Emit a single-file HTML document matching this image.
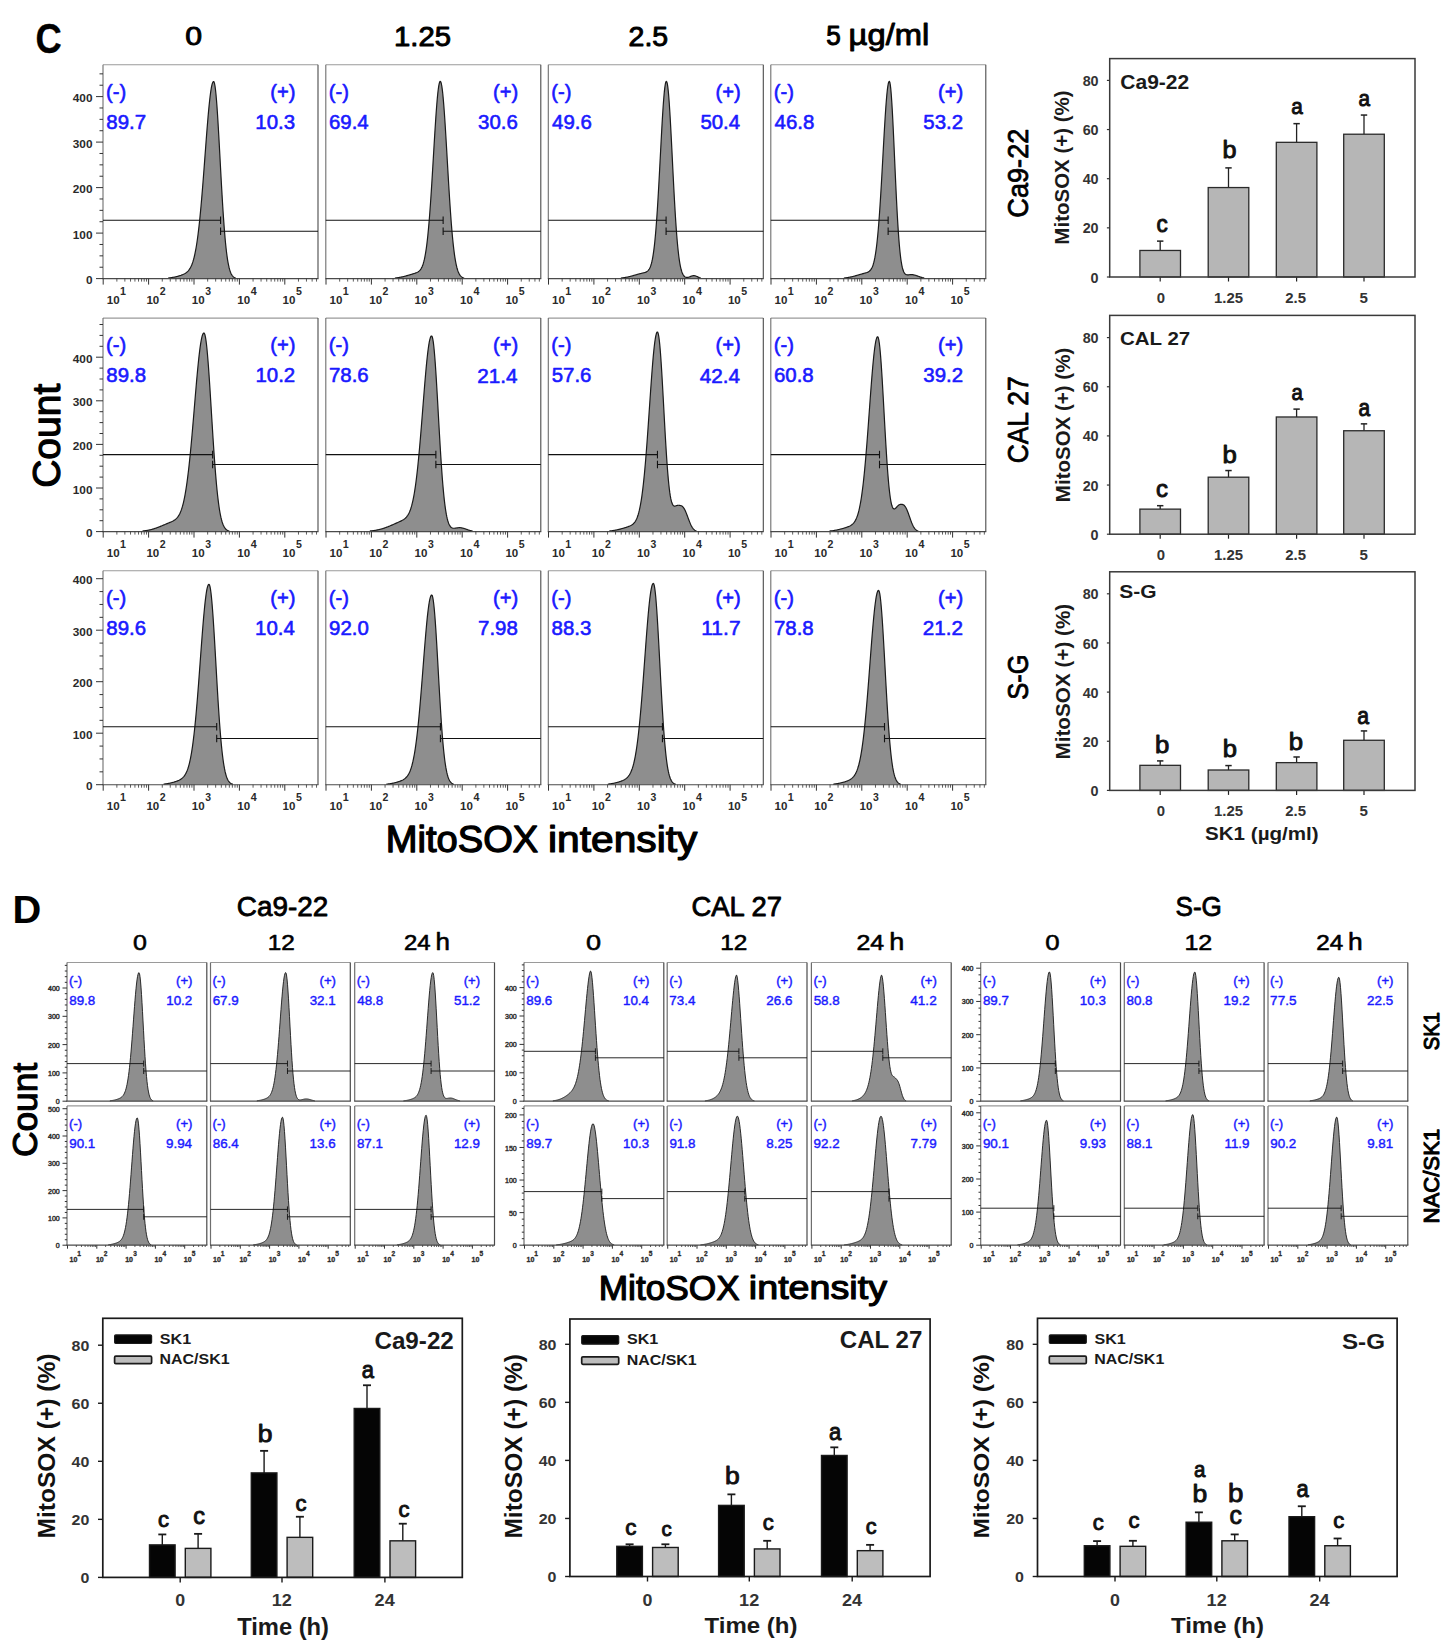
<!DOCTYPE html>
<html><head><meta charset="utf-8"><style>
html,body{margin:0;padding:0;background:#fff;}
body{width:1456px;height:1651px;overflow:hidden;}
svg{display:block;font-family:"Liberation Sans", sans-serif;}
</style></head><body>
<svg width="1456" height="1651" viewBox="0 0 1456 1651">
<rect width="1456" height="1651" fill="#fff"/>
<path d="M168.5 278.60 L168.5 278.00 L169.0 277.95 L169.5 277.89 L170.0 277.83 L170.5 277.77 L171.0 277.70 L171.5 277.62 L172.0 277.54 L172.5 277.46 L173.0 277.37 L173.5 277.28 L174.0 277.18 L174.5 277.08 L175.0 276.98 L175.5 276.87 L176.0 276.75 L176.5 276.63 L177.0 276.50 L177.5 276.37 L178.0 276.23 L178.5 276.09 L179.0 275.94 L179.5 275.79 L180.0 275.63 L180.5 275.46 L181.0 275.29 L181.5 275.10 L182.0 274.91 L182.5 274.71 L183.0 274.49 L183.5 274.26 L184.0 274.02 L184.5 273.76 L185.0 273.47 L185.5 273.16 L186.0 272.82 L186.5 272.45 L187.0 272.05 L187.5 271.59 L188.0 271.09 L188.5 270.53 L189.0 269.91 L189.5 269.21 L190.0 268.43 L190.5 267.55 L191.0 266.58 L191.5 265.48 L192.0 264.26 L192.5 262.89 L193.0 261.38 L193.5 259.69 L194.0 257.82 L194.5 255.76 L195.0 253.48 L195.5 250.98 L196.0 248.25 L196.5 245.27 L197.0 242.03 L197.5 238.53 L198.0 234.75 L198.5 230.69 L199.0 226.35 L199.5 221.73 L200.0 216.84 L200.5 211.67 L201.0 206.24 L201.5 200.56 L202.0 194.65 L202.5 188.54 L203.0 182.25 L203.5 175.80 L204.0 169.23 L204.5 162.59 L205.0 155.90 L205.5 149.22 L206.0 142.58 L206.5 136.04 L207.0 129.65 L207.5 123.46 L208.0 117.52 L208.5 111.88 L209.0 106.58 L209.5 101.69 L210.0 97.24 L210.5 93.27 L211.0 89.83 L211.5 86.95 L212.0 84.66 L212.5 82.97 L213.0 81.92 L213.5 81.50 L214.0 81.85 L214.5 83.36 L215.0 86.00 L215.5 89.76 L216.0 94.55 L216.5 100.29 L217.0 106.90 L217.5 114.25 L218.0 122.23 L218.5 130.72 L219.0 139.60 L219.5 148.72 L220.0 157.98 L220.5 167.25 L221.0 176.43 L221.5 185.42 L222.0 194.12 L222.5 202.48 L223.0 210.42 L223.5 217.90 L224.0 224.89 L224.5 231.36 L225.0 237.29 L225.5 242.70 L226.0 247.59 L226.5 251.97 L227.0 255.88 L227.5 259.32 L228.0 262.34 L228.5 264.97 L229.0 267.24 L229.5 269.19 L230.0 270.86 L230.5 272.26 L231.0 273.44 L231.5 274.43 L232.0 275.25 L232.5 275.92 L233.0 276.47 L233.5 276.92 L234.0 277.28 L234.5 277.57 L235.0 277.80 L235.5 277.98 L235.5 278.60" fill="#8e8e8e" stroke="#1a1a1a" stroke-width="1.2" stroke-linejoin="round"/>
<line x1="103" y1="64.8" x2="318" y2="64.8" stroke="#9a9a9a" stroke-width="1.1"/>
<line x1="103" y1="64.8" x2="103" y2="278.6" stroke="#6e6e6e" stroke-width="1.1"/>
<line x1="318" y1="64.8" x2="318" y2="278.6" stroke="#4a4a4a" stroke-width="1.1"/>
<line x1="102.5" y1="278.6" x2="318.5" y2="278.6" stroke="#4a4a4a" stroke-width="1.1"/>
<line x1="103" y1="220.3" x2="220.56" y2="220.3" stroke="#111" stroke-width="1.1"/>
<line x1="220.56" y1="216.5" x2="220.56" y2="224.1" stroke="#111" stroke-width="1.1"/>
<line x1="220.56" y1="231.3" x2="318" y2="231.3" stroke="#111" stroke-width="1.1"/>
<line x1="220.56" y1="227.5" x2="220.56" y2="235.1" stroke="#111" stroke-width="1.1"/>
<line x1="103.2" y1="278.6" x2="103.2" y2="284.6" stroke="#333" stroke-width="1"/>
<line x1="116.87" y1="278.6" x2="116.87" y2="281.6" stroke="#333" stroke-width="0.8"/>
<line x1="124.86" y1="278.6" x2="124.86" y2="281.6" stroke="#333" stroke-width="0.8"/>
<line x1="130.53" y1="278.6" x2="130.53" y2="281.6" stroke="#333" stroke-width="0.8"/>
<line x1="134.93" y1="278.6" x2="134.93" y2="281.6" stroke="#333" stroke-width="0.8"/>
<line x1="138.53" y1="278.6" x2="138.53" y2="281.6" stroke="#333" stroke-width="0.8"/>
<line x1="141.57" y1="278.6" x2="141.57" y2="281.6" stroke="#333" stroke-width="0.8"/>
<line x1="144.2" y1="278.6" x2="144.2" y2="281.6" stroke="#333" stroke-width="0.8"/>
<line x1="146.52" y1="278.6" x2="146.52" y2="281.6" stroke="#333" stroke-width="0.8"/>
<line x1="148.6" y1="278.6" x2="148.6" y2="284.6" stroke="#333" stroke-width="1"/>
<line x1="162.27" y1="278.6" x2="162.27" y2="281.6" stroke="#333" stroke-width="0.8"/>
<line x1="170.26" y1="278.6" x2="170.26" y2="281.6" stroke="#333" stroke-width="0.8"/>
<line x1="175.93" y1="278.6" x2="175.93" y2="281.6" stroke="#333" stroke-width="0.8"/>
<line x1="180.33" y1="278.6" x2="180.33" y2="281.6" stroke="#333" stroke-width="0.8"/>
<line x1="183.93" y1="278.6" x2="183.93" y2="281.6" stroke="#333" stroke-width="0.8"/>
<line x1="186.97" y1="278.6" x2="186.97" y2="281.6" stroke="#333" stroke-width="0.8"/>
<line x1="189.6" y1="278.6" x2="189.6" y2="281.6" stroke="#333" stroke-width="0.8"/>
<line x1="191.92" y1="278.6" x2="191.92" y2="281.6" stroke="#333" stroke-width="0.8"/>
<line x1="194" y1="278.6" x2="194" y2="284.6" stroke="#333" stroke-width="1"/>
<line x1="207.67" y1="278.6" x2="207.67" y2="281.6" stroke="#333" stroke-width="0.8"/>
<line x1="215.66" y1="278.6" x2="215.66" y2="281.6" stroke="#333" stroke-width="0.8"/>
<line x1="221.33" y1="278.6" x2="221.33" y2="281.6" stroke="#333" stroke-width="0.8"/>
<line x1="225.73" y1="278.6" x2="225.73" y2="281.6" stroke="#333" stroke-width="0.8"/>
<line x1="229.33" y1="278.6" x2="229.33" y2="281.6" stroke="#333" stroke-width="0.8"/>
<line x1="232.37" y1="278.6" x2="232.37" y2="281.6" stroke="#333" stroke-width="0.8"/>
<line x1="235" y1="278.6" x2="235" y2="281.6" stroke="#333" stroke-width="0.8"/>
<line x1="237.32" y1="278.6" x2="237.32" y2="281.6" stroke="#333" stroke-width="0.8"/>
<line x1="239.4" y1="278.6" x2="239.4" y2="284.6" stroke="#333" stroke-width="1"/>
<line x1="253.07" y1="278.6" x2="253.07" y2="281.6" stroke="#333" stroke-width="0.8"/>
<line x1="261.06" y1="278.6" x2="261.06" y2="281.6" stroke="#333" stroke-width="0.8"/>
<line x1="266.73" y1="278.6" x2="266.73" y2="281.6" stroke="#333" stroke-width="0.8"/>
<line x1="271.13" y1="278.6" x2="271.13" y2="281.6" stroke="#333" stroke-width="0.8"/>
<line x1="274.73" y1="278.6" x2="274.73" y2="281.6" stroke="#333" stroke-width="0.8"/>
<line x1="277.77" y1="278.6" x2="277.77" y2="281.6" stroke="#333" stroke-width="0.8"/>
<line x1="280.4" y1="278.6" x2="280.4" y2="281.6" stroke="#333" stroke-width="0.8"/>
<line x1="282.72" y1="278.6" x2="282.72" y2="281.6" stroke="#333" stroke-width="0.8"/>
<line x1="284.8" y1="278.6" x2="284.8" y2="284.6" stroke="#333" stroke-width="1"/>
<line x1="298.47" y1="278.6" x2="298.47" y2="281.6" stroke="#333" stroke-width="0.8"/>
<line x1="306.46" y1="278.6" x2="306.46" y2="281.6" stroke="#333" stroke-width="0.8"/>
<line x1="312.13" y1="278.6" x2="312.13" y2="281.6" stroke="#333" stroke-width="0.8"/>
<line x1="316.53" y1="278.6" x2="316.53" y2="281.6" stroke="#333" stroke-width="0.8"/>
<text transform="matrix(0.05775 0 0 0.05775 106.81 304.08)" font-size="200" font-weight="bold" fill="#2a2a2a" >10</text>
<text transform="matrix(0.05362 0 0 0.05362 119.92 294.7)" font-size="200" font-weight="bold" fill="#2a2a2a" >1</text>
<text transform="matrix(0.05775 0 0 0.05775 146.41 304.08)" font-size="200" font-weight="bold" fill="#2a2a2a" >10</text>
<text transform="matrix(0.05286 0 0 0.05286 159.79 294.7)" font-size="200" font-weight="bold" fill="#2a2a2a" >2</text>
<text transform="matrix(0.05775 0 0 0.05775 191.81 304.08)" font-size="200" font-weight="bold" fill="#2a2a2a" >10</text>
<text transform="matrix(0.05211 0 0 0.05211 205.3 294.6)" font-size="200" font-weight="bold" fill="#2a2a2a" >3</text>
<text transform="matrix(0.05775 0 0 0.05775 237.21 304.08)" font-size="200" font-weight="bold" fill="#2a2a2a" >10</text>
<text transform="matrix(0.05362 0 0 0.05362 250.8 294.7)" font-size="200" font-weight="bold" fill="#2a2a2a" >4</text>
<text transform="matrix(0.05775 0 0 0.05775 282.61 304.08)" font-size="200" font-weight="bold" fill="#2a2a2a" >10</text>
<text transform="matrix(0.05286 0 0 0.05286 296.05 294.59)" font-size="200" font-weight="bold" fill="#2a2a2a" >5</text>
<line x1="96" y1="278.6" x2="103" y2="278.6" stroke="#333" stroke-width="1"/>
<text transform="matrix(0.05915 0 0 0.05634 85.91 284.19)" font-size="200" font-weight="bold" fill="#2a2a2a" >0</text>
<line x1="99.5" y1="267.23" x2="103" y2="267.23" stroke="#333" stroke-width="1"/>
<line x1="99.5" y1="255.85" x2="103" y2="255.85" stroke="#333" stroke-width="1"/>
<line x1="99.5" y1="244.48" x2="103" y2="244.48" stroke="#333" stroke-width="1"/>
<line x1="96" y1="233.1" x2="103" y2="233.1" stroke="#333" stroke-width="1"/>
<text transform="matrix(0.05915 0 0 0.05634 72.77 238.69)" font-size="200" font-weight="bold" fill="#2a2a2a" >100</text>
<line x1="99.5" y1="221.73" x2="103" y2="221.73" stroke="#333" stroke-width="1"/>
<line x1="99.5" y1="210.35" x2="103" y2="210.35" stroke="#333" stroke-width="1"/>
<line x1="99.5" y1="198.98" x2="103" y2="198.98" stroke="#333" stroke-width="1"/>
<line x1="96" y1="187.6" x2="103" y2="187.6" stroke="#333" stroke-width="1"/>
<text transform="matrix(0.05915 0 0 0.05634 72.77 193.19)" font-size="200" font-weight="bold" fill="#2a2a2a" >200</text>
<line x1="99.5" y1="176.23" x2="103" y2="176.23" stroke="#333" stroke-width="1"/>
<line x1="99.5" y1="164.85" x2="103" y2="164.85" stroke="#333" stroke-width="1"/>
<line x1="99.5" y1="153.48" x2="103" y2="153.48" stroke="#333" stroke-width="1"/>
<line x1="96" y1="142.1" x2="103" y2="142.1" stroke="#333" stroke-width="1"/>
<text transform="matrix(0.05915 0 0 0.05634 72.77 147.69)" font-size="200" font-weight="bold" fill="#2a2a2a" >300</text>
<line x1="99.5" y1="130.73" x2="103" y2="130.73" stroke="#333" stroke-width="1"/>
<line x1="99.5" y1="119.35" x2="103" y2="119.35" stroke="#333" stroke-width="1"/>
<line x1="99.5" y1="107.98" x2="103" y2="107.98" stroke="#333" stroke-width="1"/>
<line x1="96" y1="96.6" x2="103" y2="96.6" stroke="#333" stroke-width="1"/>
<text transform="matrix(0.05915 0 0 0.05634 72.77 102.19)" font-size="200" font-weight="bold" fill="#2a2a2a" >400</text>
<line x1="99.5" y1="85.23" x2="103" y2="85.23" stroke="#333" stroke-width="1"/>
<line x1="99.5" y1="73.85" x2="103" y2="73.85" stroke="#333" stroke-width="1"/>
<text transform="matrix(0.10107 0 0 0.10107 105.99 98.76)" font-size="200" font-weight="normal" fill="#1a1aff"  stroke="#1a1aff" stroke-width="5.94" stroke-linejoin="round">(-)</text>
<text transform="matrix(0.10211 0 0 0.10211 106.28 129.1)" font-size="200" font-weight="normal" fill="#1a1aff"  stroke="#1a1aff" stroke-width="5.88" stroke-linejoin="round">89.7</text>
<text transform="matrix(0.10107 0 0 0.10107 270.25 98.76)" font-size="200" font-weight="normal" fill="#1a1aff"  stroke="#1a1aff" stroke-width="5.94" stroke-linejoin="round">(+)</text>
<text transform="matrix(0.10211 0 0 0.10211 255.3 129.1)" font-size="200" font-weight="normal" fill="#1a1aff"  stroke="#1a1aff" stroke-width="5.88" stroke-linejoin="round">10.3</text>
<path d="M395.3 278.60 L395.3 277.99 L395.8 277.93 L396.3 277.88 L396.8 277.81 L397.3 277.75 L397.8 277.68 L398.3 277.60 L398.8 277.52 L399.3 277.44 L399.8 277.35 L400.3 277.26 L400.8 277.16 L401.3 277.06 L401.8 276.95 L402.3 276.84 L402.8 276.73 L403.3 276.61 L403.8 276.49 L404.3 276.36 L404.8 276.24 L405.3 276.10 L405.8 275.97 L406.3 275.83 L406.8 275.69 L407.3 275.55 L407.8 275.40 L408.3 275.26 L408.8 275.11 L409.3 274.96 L409.8 274.81 L410.3 274.66 L410.8 274.51 L411.3 274.36 L411.8 274.22 L412.3 274.07 L412.8 273.92 L413.3 273.76 L413.8 273.61 L414.3 273.45 L414.8 273.29 L415.3 273.12 L415.8 272.93 L416.3 272.74 L416.8 272.52 L417.3 272.28 L417.8 272.01 L418.3 271.70 L418.8 271.33 L419.3 270.91 L419.8 270.42 L420.3 269.83 L420.8 269.15 L421.3 268.34 L421.8 267.39 L422.3 266.27 L422.8 264.97 L423.3 263.45 L423.8 261.70 L424.3 259.67 L424.8 257.35 L425.3 254.71 L425.8 251.72 L426.3 248.34 L426.8 244.57 L427.3 240.38 L427.8 235.75 L428.3 230.68 L428.8 225.15 L429.3 219.18 L429.8 212.76 L430.3 205.93 L430.8 198.70 L431.3 191.12 L431.8 183.23 L432.3 175.09 L432.8 166.78 L433.3 158.36 L433.8 149.92 L434.3 141.55 L434.8 133.35 L435.3 125.42 L435.8 117.85 L436.3 110.76 L436.8 104.24 L437.3 98.38 L437.8 93.28 L438.3 89.00 L438.8 85.62 L439.3 83.18 L439.8 81.73 L440.3 81.30 L440.8 81.89 L441.3 83.49 L441.8 86.07 L442.3 89.61 L442.8 94.05 L443.3 99.32 L443.8 105.35 L444.3 112.04 L444.8 119.31 L445.3 127.06 L445.8 135.18 L446.3 143.57 L446.8 152.13 L447.3 160.77 L447.8 169.39 L448.3 177.91 L448.8 186.25 L449.3 194.34 L449.8 202.12 L450.3 209.54 L450.8 216.57 L451.3 223.18 L451.8 229.34 L452.3 235.04 L452.8 240.28 L453.3 245.07 L453.8 249.41 L454.3 253.33 L454.8 256.83 L455.3 259.94 L455.8 262.70 L456.3 265.11 L456.8 267.22 L457.3 269.05 L457.8 270.63 L458.3 271.98 L458.8 273.13 L459.3 274.10 L459.8 274.92 L460.3 275.61 L460.8 276.18 L461.3 276.65 L461.8 277.04 L462.3 277.35 L462.8 277.61 L463.3 277.82 L463.8 277.99 L463.8 278.60" fill="#8e8e8e" stroke="#1a1a1a" stroke-width="1.2" stroke-linejoin="round"/>
<line x1="325.8" y1="64.8" x2="540.8" y2="64.8" stroke="#9a9a9a" stroke-width="1.1"/>
<line x1="325.8" y1="64.8" x2="325.8" y2="278.6" stroke="#6e6e6e" stroke-width="1.1"/>
<line x1="540.8" y1="64.8" x2="540.8" y2="278.6" stroke="#4a4a4a" stroke-width="1.1"/>
<line x1="325.3" y1="278.6" x2="541.3" y2="278.6" stroke="#4a4a4a" stroke-width="1.1"/>
<line x1="325.8" y1="220.3" x2="443.13" y2="220.3" stroke="#111" stroke-width="1.1"/>
<line x1="443.13" y1="216.5" x2="443.13" y2="224.1" stroke="#111" stroke-width="1.1"/>
<line x1="443.13" y1="231.3" x2="540.8" y2="231.3" stroke="#111" stroke-width="1.1"/>
<line x1="443.13" y1="227.5" x2="443.13" y2="235.1" stroke="#111" stroke-width="1.1"/>
<line x1="326" y1="278.6" x2="326" y2="284.6" stroke="#333" stroke-width="1"/>
<line x1="339.67" y1="278.6" x2="339.67" y2="281.6" stroke="#333" stroke-width="0.8"/>
<line x1="347.66" y1="278.6" x2="347.66" y2="281.6" stroke="#333" stroke-width="0.8"/>
<line x1="353.33" y1="278.6" x2="353.33" y2="281.6" stroke="#333" stroke-width="0.8"/>
<line x1="357.73" y1="278.6" x2="357.73" y2="281.6" stroke="#333" stroke-width="0.8"/>
<line x1="361.33" y1="278.6" x2="361.33" y2="281.6" stroke="#333" stroke-width="0.8"/>
<line x1="364.37" y1="278.6" x2="364.37" y2="281.6" stroke="#333" stroke-width="0.8"/>
<line x1="367" y1="278.6" x2="367" y2="281.6" stroke="#333" stroke-width="0.8"/>
<line x1="369.32" y1="278.6" x2="369.32" y2="281.6" stroke="#333" stroke-width="0.8"/>
<line x1="371.4" y1="278.6" x2="371.4" y2="284.6" stroke="#333" stroke-width="1"/>
<line x1="385.07" y1="278.6" x2="385.07" y2="281.6" stroke="#333" stroke-width="0.8"/>
<line x1="393.06" y1="278.6" x2="393.06" y2="281.6" stroke="#333" stroke-width="0.8"/>
<line x1="398.73" y1="278.6" x2="398.73" y2="281.6" stroke="#333" stroke-width="0.8"/>
<line x1="403.13" y1="278.6" x2="403.13" y2="281.6" stroke="#333" stroke-width="0.8"/>
<line x1="406.73" y1="278.6" x2="406.73" y2="281.6" stroke="#333" stroke-width="0.8"/>
<line x1="409.77" y1="278.6" x2="409.77" y2="281.6" stroke="#333" stroke-width="0.8"/>
<line x1="412.4" y1="278.6" x2="412.4" y2="281.6" stroke="#333" stroke-width="0.8"/>
<line x1="414.72" y1="278.6" x2="414.72" y2="281.6" stroke="#333" stroke-width="0.8"/>
<line x1="416.8" y1="278.6" x2="416.8" y2="284.6" stroke="#333" stroke-width="1"/>
<line x1="430.47" y1="278.6" x2="430.47" y2="281.6" stroke="#333" stroke-width="0.8"/>
<line x1="438.46" y1="278.6" x2="438.46" y2="281.6" stroke="#333" stroke-width="0.8"/>
<line x1="444.13" y1="278.6" x2="444.13" y2="281.6" stroke="#333" stroke-width="0.8"/>
<line x1="448.53" y1="278.6" x2="448.53" y2="281.6" stroke="#333" stroke-width="0.8"/>
<line x1="452.13" y1="278.6" x2="452.13" y2="281.6" stroke="#333" stroke-width="0.8"/>
<line x1="455.17" y1="278.6" x2="455.17" y2="281.6" stroke="#333" stroke-width="0.8"/>
<line x1="457.8" y1="278.6" x2="457.8" y2="281.6" stroke="#333" stroke-width="0.8"/>
<line x1="460.12" y1="278.6" x2="460.12" y2="281.6" stroke="#333" stroke-width="0.8"/>
<line x1="462.2" y1="278.6" x2="462.2" y2="284.6" stroke="#333" stroke-width="1"/>
<line x1="475.87" y1="278.6" x2="475.87" y2="281.6" stroke="#333" stroke-width="0.8"/>
<line x1="483.86" y1="278.6" x2="483.86" y2="281.6" stroke="#333" stroke-width="0.8"/>
<line x1="489.53" y1="278.6" x2="489.53" y2="281.6" stroke="#333" stroke-width="0.8"/>
<line x1="493.93" y1="278.6" x2="493.93" y2="281.6" stroke="#333" stroke-width="0.8"/>
<line x1="497.53" y1="278.6" x2="497.53" y2="281.6" stroke="#333" stroke-width="0.8"/>
<line x1="500.57" y1="278.6" x2="500.57" y2="281.6" stroke="#333" stroke-width="0.8"/>
<line x1="503.2" y1="278.6" x2="503.2" y2="281.6" stroke="#333" stroke-width="0.8"/>
<line x1="505.52" y1="278.6" x2="505.52" y2="281.6" stroke="#333" stroke-width="0.8"/>
<line x1="507.6" y1="278.6" x2="507.6" y2="284.6" stroke="#333" stroke-width="1"/>
<line x1="521.27" y1="278.6" x2="521.27" y2="281.6" stroke="#333" stroke-width="0.8"/>
<line x1="529.26" y1="278.6" x2="529.26" y2="281.6" stroke="#333" stroke-width="0.8"/>
<line x1="534.93" y1="278.6" x2="534.93" y2="281.6" stroke="#333" stroke-width="0.8"/>
<line x1="539.33" y1="278.6" x2="539.33" y2="281.6" stroke="#333" stroke-width="0.8"/>
<text transform="matrix(0.05775 0 0 0.05775 329.61 304.08)" font-size="200" font-weight="bold" fill="#2a2a2a" >10</text>
<text transform="matrix(0.05362 0 0 0.05362 342.72 294.7)" font-size="200" font-weight="bold" fill="#2a2a2a" >1</text>
<text transform="matrix(0.05775 0 0 0.05775 369.21 304.08)" font-size="200" font-weight="bold" fill="#2a2a2a" >10</text>
<text transform="matrix(0.05286 0 0 0.05286 382.59 294.7)" font-size="200" font-weight="bold" fill="#2a2a2a" >2</text>
<text transform="matrix(0.05775 0 0 0.05775 414.61 304.08)" font-size="200" font-weight="bold" fill="#2a2a2a" >10</text>
<text transform="matrix(0.05211 0 0 0.05211 428.1 294.6)" font-size="200" font-weight="bold" fill="#2a2a2a" >3</text>
<text transform="matrix(0.05775 0 0 0.05775 460.01 304.08)" font-size="200" font-weight="bold" fill="#2a2a2a" >10</text>
<text transform="matrix(0.05362 0 0 0.05362 473.6 294.7)" font-size="200" font-weight="bold" fill="#2a2a2a" >4</text>
<text transform="matrix(0.05775 0 0 0.05775 505.41 304.08)" font-size="200" font-weight="bold" fill="#2a2a2a" >10</text>
<text transform="matrix(0.05286 0 0 0.05286 518.85 294.59)" font-size="200" font-weight="bold" fill="#2a2a2a" >5</text>
<text transform="matrix(0.10107 0 0 0.10107 328.79 98.76)" font-size="200" font-weight="normal" fill="#1a1aff"  stroke="#1a1aff" stroke-width="5.94" stroke-linejoin="round">(-)</text>
<text transform="matrix(0.10211 0 0 0.10211 328.98 129.1)" font-size="200" font-weight="normal" fill="#1a1aff"  stroke="#1a1aff" stroke-width="5.88" stroke-linejoin="round">69.4</text>
<text transform="matrix(0.10107 0 0 0.10107 493.05 98.76)" font-size="200" font-weight="normal" fill="#1a1aff"  stroke="#1a1aff" stroke-width="5.94" stroke-linejoin="round">(+)</text>
<text transform="matrix(0.10211 0 0 0.10211 478.1 129.1)" font-size="200" font-weight="normal" fill="#1a1aff"  stroke="#1a1aff" stroke-width="5.88" stroke-linejoin="round">30.6</text>
<path d="M621.3 278.60 L621.3 278.00 L621.8 277.94 L622.3 277.89 L622.8 277.82 L623.3 277.76 L623.8 277.69 L624.3 277.61 L624.8 277.53 L625.3 277.45 L625.8 277.36 L626.3 277.27 L626.8 277.18 L627.3 277.08 L627.8 276.97 L628.3 276.86 L628.8 276.75 L629.3 276.63 L629.8 276.51 L630.3 276.39 L630.8 276.26 L631.3 276.13 L631.8 275.99 L632.3 275.85 L632.8 275.72 L633.3 275.57 L633.8 275.43 L634.3 275.28 L634.8 275.14 L635.3 274.99 L635.8 274.85 L636.3 274.70 L636.8 274.56 L637.3 274.41 L637.8 274.27 L638.3 274.14 L638.8 274.00 L639.3 273.87 L639.8 273.74 L640.3 273.61 L640.8 273.49 L641.3 273.37 L641.8 273.25 L642.3 273.13 L642.8 273.02 L643.3 272.90 L643.8 272.77 L644.3 272.64 L644.8 272.49 L645.3 272.32 L645.8 272.13 L646.3 271.90 L646.8 271.62 L647.3 271.28 L647.8 270.87 L648.3 270.36 L648.8 269.74 L649.3 268.97 L649.8 268.04 L650.3 266.91 L650.8 265.55 L651.3 263.92 L651.8 261.98 L652.3 259.70 L652.8 257.03 L653.3 253.94 L653.8 250.37 L654.3 246.31 L654.8 241.71 L655.3 236.56 L655.8 230.83 L656.3 224.52 L656.8 217.64 L657.3 210.19 L657.8 202.22 L658.3 193.77 L658.8 184.91 L659.3 175.71 L659.8 166.28 L660.3 156.73 L660.8 147.17 L661.3 137.74 L661.8 128.60 L662.3 119.87 L662.8 111.72 L663.3 104.28 L663.8 97.70 L664.3 92.09 L664.8 87.56 L665.3 84.22 L665.8 82.11 L666.3 81.30 L666.8 81.82 L667.3 83.70 L667.8 86.92 L668.3 91.40 L668.8 97.06 L669.3 103.79 L669.8 111.45 L670.3 119.89 L670.8 128.97 L671.3 138.52 L671.8 148.38 L672.3 158.40 L672.8 168.43 L673.3 178.33 L673.8 187.98 L674.3 197.28 L674.8 206.14 L675.3 214.48 L675.8 222.27 L676.3 229.45 L676.8 236.02 L677.3 241.97 L677.8 247.31 L678.3 252.06 L678.8 256.24 L679.3 259.90 L679.8 263.06 L680.3 265.78 L680.8 268.09 L681.3 270.04 L681.8 271.68 L682.3 273.03 L682.8 274.14 L683.3 275.03 L683.8 275.75 L684.3 276.31 L684.8 276.74 L685.3 277.05 L685.8 277.27 L686.3 277.40 L686.8 277.46 L687.3 277.46 L687.8 277.40 L688.3 277.29 L688.8 277.15 L689.3 276.98 L689.8 276.78 L690.3 276.58 L690.8 276.37 L691.3 276.18 L691.8 276.00 L692.3 275.85 L692.8 275.74 L693.3 275.68 L693.8 275.66 L694.3 275.69 L694.8 275.76 L695.3 275.88 L695.8 276.04 L696.3 276.23 L696.8 276.44 L697.3 276.67 L697.8 276.90 L698.3 277.13 L698.8 277.34 L699.3 277.55 L699.8 277.73 L700.3 277.90 L700.3 278.60" fill="#8e8e8e" stroke="#1a1a1a" stroke-width="1.2" stroke-linejoin="round"/>
<line x1="548.3" y1="64.8" x2="763.3" y2="64.8" stroke="#9a9a9a" stroke-width="1.1"/>
<line x1="548.3" y1="64.8" x2="548.3" y2="278.6" stroke="#6e6e6e" stroke-width="1.1"/>
<line x1="763.3" y1="64.8" x2="763.3" y2="278.6" stroke="#4a4a4a" stroke-width="1.1"/>
<line x1="547.8" y1="278.6" x2="763.8" y2="278.6" stroke="#4a4a4a" stroke-width="1.1"/>
<line x1="548.3" y1="220.3" x2="666.09" y2="220.3" stroke="#111" stroke-width="1.1"/>
<line x1="666.09" y1="216.5" x2="666.09" y2="224.1" stroke="#111" stroke-width="1.1"/>
<line x1="666.09" y1="231.3" x2="763.3" y2="231.3" stroke="#111" stroke-width="1.1"/>
<line x1="666.09" y1="227.5" x2="666.09" y2="235.1" stroke="#111" stroke-width="1.1"/>
<line x1="548.5" y1="278.6" x2="548.5" y2="284.6" stroke="#333" stroke-width="1"/>
<line x1="562.17" y1="278.6" x2="562.17" y2="281.6" stroke="#333" stroke-width="0.8"/>
<line x1="570.16" y1="278.6" x2="570.16" y2="281.6" stroke="#333" stroke-width="0.8"/>
<line x1="575.83" y1="278.6" x2="575.83" y2="281.6" stroke="#333" stroke-width="0.8"/>
<line x1="580.23" y1="278.6" x2="580.23" y2="281.6" stroke="#333" stroke-width="0.8"/>
<line x1="583.83" y1="278.6" x2="583.83" y2="281.6" stroke="#333" stroke-width="0.8"/>
<line x1="586.87" y1="278.6" x2="586.87" y2="281.6" stroke="#333" stroke-width="0.8"/>
<line x1="589.5" y1="278.6" x2="589.5" y2="281.6" stroke="#333" stroke-width="0.8"/>
<line x1="591.82" y1="278.6" x2="591.82" y2="281.6" stroke="#333" stroke-width="0.8"/>
<line x1="593.9" y1="278.6" x2="593.9" y2="284.6" stroke="#333" stroke-width="1"/>
<line x1="607.57" y1="278.6" x2="607.57" y2="281.6" stroke="#333" stroke-width="0.8"/>
<line x1="615.56" y1="278.6" x2="615.56" y2="281.6" stroke="#333" stroke-width="0.8"/>
<line x1="621.23" y1="278.6" x2="621.23" y2="281.6" stroke="#333" stroke-width="0.8"/>
<line x1="625.63" y1="278.6" x2="625.63" y2="281.6" stroke="#333" stroke-width="0.8"/>
<line x1="629.23" y1="278.6" x2="629.23" y2="281.6" stroke="#333" stroke-width="0.8"/>
<line x1="632.27" y1="278.6" x2="632.27" y2="281.6" stroke="#333" stroke-width="0.8"/>
<line x1="634.9" y1="278.6" x2="634.9" y2="281.6" stroke="#333" stroke-width="0.8"/>
<line x1="637.22" y1="278.6" x2="637.22" y2="281.6" stroke="#333" stroke-width="0.8"/>
<line x1="639.3" y1="278.6" x2="639.3" y2="284.6" stroke="#333" stroke-width="1"/>
<line x1="652.97" y1="278.6" x2="652.97" y2="281.6" stroke="#333" stroke-width="0.8"/>
<line x1="660.96" y1="278.6" x2="660.96" y2="281.6" stroke="#333" stroke-width="0.8"/>
<line x1="666.63" y1="278.6" x2="666.63" y2="281.6" stroke="#333" stroke-width="0.8"/>
<line x1="671.03" y1="278.6" x2="671.03" y2="281.6" stroke="#333" stroke-width="0.8"/>
<line x1="674.63" y1="278.6" x2="674.63" y2="281.6" stroke="#333" stroke-width="0.8"/>
<line x1="677.67" y1="278.6" x2="677.67" y2="281.6" stroke="#333" stroke-width="0.8"/>
<line x1="680.3" y1="278.6" x2="680.3" y2="281.6" stroke="#333" stroke-width="0.8"/>
<line x1="682.62" y1="278.6" x2="682.62" y2="281.6" stroke="#333" stroke-width="0.8"/>
<line x1="684.7" y1="278.6" x2="684.7" y2="284.6" stroke="#333" stroke-width="1"/>
<line x1="698.37" y1="278.6" x2="698.37" y2="281.6" stroke="#333" stroke-width="0.8"/>
<line x1="706.36" y1="278.6" x2="706.36" y2="281.6" stroke="#333" stroke-width="0.8"/>
<line x1="712.03" y1="278.6" x2="712.03" y2="281.6" stroke="#333" stroke-width="0.8"/>
<line x1="716.43" y1="278.6" x2="716.43" y2="281.6" stroke="#333" stroke-width="0.8"/>
<line x1="720.03" y1="278.6" x2="720.03" y2="281.6" stroke="#333" stroke-width="0.8"/>
<line x1="723.07" y1="278.6" x2="723.07" y2="281.6" stroke="#333" stroke-width="0.8"/>
<line x1="725.7" y1="278.6" x2="725.7" y2="281.6" stroke="#333" stroke-width="0.8"/>
<line x1="728.02" y1="278.6" x2="728.02" y2="281.6" stroke="#333" stroke-width="0.8"/>
<line x1="730.1" y1="278.6" x2="730.1" y2="284.6" stroke="#333" stroke-width="1"/>
<line x1="743.77" y1="278.6" x2="743.77" y2="281.6" stroke="#333" stroke-width="0.8"/>
<line x1="751.76" y1="278.6" x2="751.76" y2="281.6" stroke="#333" stroke-width="0.8"/>
<line x1="757.43" y1="278.6" x2="757.43" y2="281.6" stroke="#333" stroke-width="0.8"/>
<line x1="761.83" y1="278.6" x2="761.83" y2="281.6" stroke="#333" stroke-width="0.8"/>
<text transform="matrix(0.05775 0 0 0.05775 552.11 304.08)" font-size="200" font-weight="bold" fill="#2a2a2a" >10</text>
<text transform="matrix(0.05362 0 0 0.05362 565.22 294.7)" font-size="200" font-weight="bold" fill="#2a2a2a" >1</text>
<text transform="matrix(0.05775 0 0 0.05775 591.71 304.08)" font-size="200" font-weight="bold" fill="#2a2a2a" >10</text>
<text transform="matrix(0.05286 0 0 0.05286 605.09 294.7)" font-size="200" font-weight="bold" fill="#2a2a2a" >2</text>
<text transform="matrix(0.05775 0 0 0.05775 637.11 304.08)" font-size="200" font-weight="bold" fill="#2a2a2a" >10</text>
<text transform="matrix(0.05211 0 0 0.05211 650.6 294.6)" font-size="200" font-weight="bold" fill="#2a2a2a" >3</text>
<text transform="matrix(0.05775 0 0 0.05775 682.51 304.08)" font-size="200" font-weight="bold" fill="#2a2a2a" >10</text>
<text transform="matrix(0.05362 0 0 0.05362 696.1 294.7)" font-size="200" font-weight="bold" fill="#2a2a2a" >4</text>
<text transform="matrix(0.05775 0 0 0.05775 727.91 304.08)" font-size="200" font-weight="bold" fill="#2a2a2a" >10</text>
<text transform="matrix(0.05286 0 0 0.05286 741.35 294.59)" font-size="200" font-weight="bold" fill="#2a2a2a" >5</text>
<text transform="matrix(0.10107 0 0 0.10107 551.29 98.76)" font-size="200" font-weight="normal" fill="#1a1aff"  stroke="#1a1aff" stroke-width="5.94" stroke-linejoin="round">(-)</text>
<text transform="matrix(0.10211 0 0 0.10211 552.09 129.1)" font-size="200" font-weight="normal" fill="#1a1aff"  stroke="#1a1aff" stroke-width="5.88" stroke-linejoin="round">49.6</text>
<text transform="matrix(0.10107 0 0 0.10107 715.55 98.76)" font-size="200" font-weight="normal" fill="#1a1aff"  stroke="#1a1aff" stroke-width="5.94" stroke-linejoin="round">(+)</text>
<text transform="matrix(0.10211 0 0 0.10211 700.39 129.1)" font-size="200" font-weight="normal" fill="#1a1aff"  stroke="#1a1aff" stroke-width="5.88" stroke-linejoin="round">50.4</text>
<path d="M844.3 278.60 L844.3 277.99 L844.8 277.93 L845.3 277.87 L845.8 277.81 L846.3 277.75 L846.8 277.67 L847.3 277.60 L847.8 277.52 L848.3 277.44 L848.8 277.35 L849.3 277.26 L849.8 277.16 L850.3 277.06 L850.8 276.95 L851.3 276.84 L851.8 276.73 L852.3 276.61 L852.8 276.49 L853.3 276.36 L853.8 276.24 L854.3 276.10 L854.8 275.97 L855.3 275.83 L855.8 275.69 L856.3 275.55 L856.8 275.40 L857.3 275.26 L857.8 275.11 L858.3 274.97 L858.8 274.82 L859.3 274.67 L859.8 274.53 L860.3 274.38 L860.8 274.24 L861.3 274.10 L861.8 273.96 L862.3 273.83 L862.8 273.69 L863.3 273.56 L863.8 273.42 L864.3 273.29 L864.8 273.16 L865.3 273.02 L865.8 272.87 L866.3 272.71 L866.8 272.54 L867.3 272.35 L867.8 272.14 L868.3 271.88 L868.8 271.59 L869.3 271.23 L869.8 270.81 L870.3 270.29 L870.8 269.68 L871.3 268.93 L871.8 268.04 L872.3 266.97 L872.8 265.70 L873.3 264.19 L873.8 262.42 L874.3 260.34 L874.8 257.93 L875.3 255.14 L875.8 251.96 L876.3 248.33 L876.8 244.24 L877.3 239.66 L877.8 234.57 L878.3 228.96 L878.8 222.83 L879.3 216.17 L879.8 209.02 L880.3 201.41 L880.8 193.36 L881.3 184.94 L881.8 176.23 L882.3 167.29 L882.8 158.23 L883.3 149.15 L883.8 140.16 L884.3 131.39 L884.8 122.96 L885.3 114.99 L885.8 107.62 L886.3 100.95 L886.8 95.12 L887.3 90.20 L887.8 86.30 L888.3 83.49 L888.8 81.81 L889.3 81.30 L889.8 82.23 L890.3 84.88 L890.8 89.16 L891.3 94.99 L891.8 102.20 L892.3 110.61 L892.8 120.04 L893.3 130.25 L893.8 141.02 L894.3 152.13 L894.8 163.36 L895.3 174.51 L895.8 185.40 L896.3 195.86 L896.8 205.78 L897.3 215.05 L897.8 223.60 L898.3 231.39 L898.8 238.39 L899.3 244.60 L899.8 250.05 L900.3 254.77 L900.8 258.81 L901.3 262.22 L901.8 265.07 L902.3 267.41 L902.8 269.30 L903.3 270.82 L903.8 272.00 L904.3 272.91 L904.8 273.59 L905.3 274.08 L905.8 274.43 L906.3 274.65 L906.8 274.78 L907.3 274.85 L907.8 274.87 L908.3 274.85 L908.8 274.81 L909.3 274.77 L909.8 274.72 L910.3 274.68 L910.8 274.65 L911.3 274.64 L911.8 274.65 L912.3 274.67 L912.8 274.72 L913.3 274.78 L913.8 274.87 L914.3 274.98 L914.8 275.10 L915.3 275.24 L915.8 275.39 L916.3 275.56 L916.8 275.73 L917.3 275.91 L917.8 276.09 L918.3 276.28 L918.8 276.46 L919.3 276.64 L919.8 276.82 L920.3 276.99 L920.8 277.15 L921.3 277.31 L921.8 277.45 L922.3 277.59 L922.8 277.71 L923.3 277.83 L923.8 277.93 L923.8 278.60" fill="#8e8e8e" stroke="#1a1a1a" stroke-width="1.2" stroke-linejoin="round"/>
<line x1="770.8" y1="64.8" x2="985.8" y2="64.8" stroke="#9a9a9a" stroke-width="1.1"/>
<line x1="770.8" y1="64.8" x2="770.8" y2="278.6" stroke="#6e6e6e" stroke-width="1.1"/>
<line x1="985.8" y1="64.8" x2="985.8" y2="278.6" stroke="#4a4a4a" stroke-width="1.1"/>
<line x1="770.3" y1="278.6" x2="986.3" y2="278.6" stroke="#4a4a4a" stroke-width="1.1"/>
<line x1="770.8" y1="220.3" x2="888.13" y2="220.3" stroke="#111" stroke-width="1.1"/>
<line x1="888.13" y1="216.5" x2="888.13" y2="224.1" stroke="#111" stroke-width="1.1"/>
<line x1="888.13" y1="231.3" x2="985.8" y2="231.3" stroke="#111" stroke-width="1.1"/>
<line x1="888.13" y1="227.5" x2="888.13" y2="235.1" stroke="#111" stroke-width="1.1"/>
<line x1="771" y1="278.6" x2="771" y2="284.6" stroke="#333" stroke-width="1"/>
<line x1="784.67" y1="278.6" x2="784.67" y2="281.6" stroke="#333" stroke-width="0.8"/>
<line x1="792.66" y1="278.6" x2="792.66" y2="281.6" stroke="#333" stroke-width="0.8"/>
<line x1="798.33" y1="278.6" x2="798.33" y2="281.6" stroke="#333" stroke-width="0.8"/>
<line x1="802.73" y1="278.6" x2="802.73" y2="281.6" stroke="#333" stroke-width="0.8"/>
<line x1="806.33" y1="278.6" x2="806.33" y2="281.6" stroke="#333" stroke-width="0.8"/>
<line x1="809.37" y1="278.6" x2="809.37" y2="281.6" stroke="#333" stroke-width="0.8"/>
<line x1="812" y1="278.6" x2="812" y2="281.6" stroke="#333" stroke-width="0.8"/>
<line x1="814.32" y1="278.6" x2="814.32" y2="281.6" stroke="#333" stroke-width="0.8"/>
<line x1="816.4" y1="278.6" x2="816.4" y2="284.6" stroke="#333" stroke-width="1"/>
<line x1="830.07" y1="278.6" x2="830.07" y2="281.6" stroke="#333" stroke-width="0.8"/>
<line x1="838.06" y1="278.6" x2="838.06" y2="281.6" stroke="#333" stroke-width="0.8"/>
<line x1="843.73" y1="278.6" x2="843.73" y2="281.6" stroke="#333" stroke-width="0.8"/>
<line x1="848.13" y1="278.6" x2="848.13" y2="281.6" stroke="#333" stroke-width="0.8"/>
<line x1="851.73" y1="278.6" x2="851.73" y2="281.6" stroke="#333" stroke-width="0.8"/>
<line x1="854.77" y1="278.6" x2="854.77" y2="281.6" stroke="#333" stroke-width="0.8"/>
<line x1="857.4" y1="278.6" x2="857.4" y2="281.6" stroke="#333" stroke-width="0.8"/>
<line x1="859.72" y1="278.6" x2="859.72" y2="281.6" stroke="#333" stroke-width="0.8"/>
<line x1="861.8" y1="278.6" x2="861.8" y2="284.6" stroke="#333" stroke-width="1"/>
<line x1="875.47" y1="278.6" x2="875.47" y2="281.6" stroke="#333" stroke-width="0.8"/>
<line x1="883.46" y1="278.6" x2="883.46" y2="281.6" stroke="#333" stroke-width="0.8"/>
<line x1="889.13" y1="278.6" x2="889.13" y2="281.6" stroke="#333" stroke-width="0.8"/>
<line x1="893.53" y1="278.6" x2="893.53" y2="281.6" stroke="#333" stroke-width="0.8"/>
<line x1="897.13" y1="278.6" x2="897.13" y2="281.6" stroke="#333" stroke-width="0.8"/>
<line x1="900.17" y1="278.6" x2="900.17" y2="281.6" stroke="#333" stroke-width="0.8"/>
<line x1="902.8" y1="278.6" x2="902.8" y2="281.6" stroke="#333" stroke-width="0.8"/>
<line x1="905.12" y1="278.6" x2="905.12" y2="281.6" stroke="#333" stroke-width="0.8"/>
<line x1="907.2" y1="278.6" x2="907.2" y2="284.6" stroke="#333" stroke-width="1"/>
<line x1="920.87" y1="278.6" x2="920.87" y2="281.6" stroke="#333" stroke-width="0.8"/>
<line x1="928.86" y1="278.6" x2="928.86" y2="281.6" stroke="#333" stroke-width="0.8"/>
<line x1="934.53" y1="278.6" x2="934.53" y2="281.6" stroke="#333" stroke-width="0.8"/>
<line x1="938.93" y1="278.6" x2="938.93" y2="281.6" stroke="#333" stroke-width="0.8"/>
<line x1="942.53" y1="278.6" x2="942.53" y2="281.6" stroke="#333" stroke-width="0.8"/>
<line x1="945.57" y1="278.6" x2="945.57" y2="281.6" stroke="#333" stroke-width="0.8"/>
<line x1="948.2" y1="278.6" x2="948.2" y2="281.6" stroke="#333" stroke-width="0.8"/>
<line x1="950.52" y1="278.6" x2="950.52" y2="281.6" stroke="#333" stroke-width="0.8"/>
<line x1="952.6" y1="278.6" x2="952.6" y2="284.6" stroke="#333" stroke-width="1"/>
<line x1="966.27" y1="278.6" x2="966.27" y2="281.6" stroke="#333" stroke-width="0.8"/>
<line x1="974.26" y1="278.6" x2="974.26" y2="281.6" stroke="#333" stroke-width="0.8"/>
<line x1="979.93" y1="278.6" x2="979.93" y2="281.6" stroke="#333" stroke-width="0.8"/>
<line x1="984.33" y1="278.6" x2="984.33" y2="281.6" stroke="#333" stroke-width="0.8"/>
<text transform="matrix(0.05775 0 0 0.05775 774.61 304.08)" font-size="200" font-weight="bold" fill="#2a2a2a" >10</text>
<text transform="matrix(0.05362 0 0 0.05362 787.72 294.7)" font-size="200" font-weight="bold" fill="#2a2a2a" >1</text>
<text transform="matrix(0.05775 0 0 0.05775 814.21 304.08)" font-size="200" font-weight="bold" fill="#2a2a2a" >10</text>
<text transform="matrix(0.05286 0 0 0.05286 827.59 294.7)" font-size="200" font-weight="bold" fill="#2a2a2a" >2</text>
<text transform="matrix(0.05775 0 0 0.05775 859.61 304.08)" font-size="200" font-weight="bold" fill="#2a2a2a" >10</text>
<text transform="matrix(0.05211 0 0 0.05211 873.1 294.6)" font-size="200" font-weight="bold" fill="#2a2a2a" >3</text>
<text transform="matrix(0.05775 0 0 0.05775 905.01 304.08)" font-size="200" font-weight="bold" fill="#2a2a2a" >10</text>
<text transform="matrix(0.05362 0 0 0.05362 918.6 294.7)" font-size="200" font-weight="bold" fill="#2a2a2a" >4</text>
<text transform="matrix(0.05775 0 0 0.05775 950.41 304.08)" font-size="200" font-weight="bold" fill="#2a2a2a" >10</text>
<text transform="matrix(0.05286 0 0 0.05286 963.85 294.59)" font-size="200" font-weight="bold" fill="#2a2a2a" >5</text>
<text transform="matrix(0.10107 0 0 0.10107 773.79 98.76)" font-size="200" font-weight="normal" fill="#1a1aff"  stroke="#1a1aff" stroke-width="5.94" stroke-linejoin="round">(-)</text>
<text transform="matrix(0.10211 0 0 0.10211 774.59 129.1)" font-size="200" font-weight="normal" fill="#1a1aff"  stroke="#1a1aff" stroke-width="5.88" stroke-linejoin="round">46.8</text>
<text transform="matrix(0.10107 0 0 0.10107 938.05 98.76)" font-size="200" font-weight="normal" fill="#1a1aff"  stroke="#1a1aff" stroke-width="5.94" stroke-linejoin="round">(+)</text>
<text transform="matrix(0.10211 0 0 0.10211 923.3 129.1)" font-size="200" font-weight="normal" fill="#1a1aff"  stroke="#1a1aff" stroke-width="5.88" stroke-linejoin="round">53.2</text>
<path d="M143.0 531.60 L143.0 530.96 L143.5 530.90 L144.0 530.85 L144.5 530.78 L145.0 530.72 L145.5 530.65 L146.0 530.58 L146.5 530.50 L147.0 530.42 L147.5 530.33 L148.0 530.24 L148.5 530.14 L149.0 530.04 L149.5 529.94 L150.0 529.83 L150.5 529.71 L151.0 529.59 L151.5 529.46 L152.0 529.33 L152.5 529.19 L153.0 529.05 L153.5 528.90 L154.0 528.75 L154.5 528.59 L155.0 528.43 L155.5 528.26 L156.0 528.09 L156.5 527.91 L157.0 527.73 L157.5 527.55 L158.0 527.36 L158.5 527.16 L159.0 526.97 L159.5 526.77 L160.0 526.57 L160.5 526.36 L161.0 526.16 L161.5 525.95 L162.0 525.74 L162.5 525.53 L163.0 525.32 L163.5 525.10 L164.0 524.89 L164.5 524.68 L165.0 524.47 L165.5 524.26 L166.0 524.05 L166.5 523.84 L167.0 523.63 L167.5 523.43 L168.0 523.22 L168.5 523.01 L169.0 522.80 L169.5 522.59 L170.0 522.38 L170.5 522.17 L171.0 521.94 L171.5 521.72 L172.0 521.48 L172.5 521.23 L173.0 520.97 L173.5 520.69 L174.0 520.38 L174.5 520.06 L175.0 519.70 L175.5 519.31 L176.0 518.88 L176.5 518.40 L177.0 517.87 L177.5 517.28 L178.0 516.62 L178.5 515.89 L179.0 515.07 L179.5 514.16 L180.0 513.14 L180.5 512.02 L181.0 510.76 L181.5 509.38 L182.0 507.85 L182.5 506.16 L183.0 504.31 L183.5 502.28 L184.0 500.06 L184.5 497.65 L185.0 495.04 L185.5 492.21 L186.0 489.16 L186.5 485.89 L187.0 482.38 L187.5 478.65 L188.0 474.68 L188.5 470.48 L189.0 466.06 L189.5 461.41 L190.0 456.55 L190.5 451.48 L191.0 446.22 L191.5 440.79 L192.0 435.20 L192.5 429.48 L193.0 423.65 L193.5 417.73 L194.0 411.75 L194.5 405.75 L195.0 399.76 L195.5 393.80 L196.0 387.93 L196.5 382.17 L197.0 376.56 L197.5 371.13 L198.0 365.94 L198.5 361.01 L199.0 356.37 L199.5 352.08 L200.0 348.15 L200.5 344.61 L201.0 341.51 L201.5 338.86 L202.0 336.68 L202.5 334.99 L203.0 333.81 L203.5 333.14 L204.0 333.00 L204.5 333.58 L205.0 335.05 L205.5 337.39 L206.0 340.57 L206.5 344.55 L207.0 349.29 L207.5 354.70 L208.0 360.74 L208.5 367.32 L209.0 374.37 L209.5 381.80 L210.0 389.53 L210.5 397.47 L211.0 405.55 L211.5 413.68 L212.0 421.79 L212.5 429.81 L213.0 437.67 L213.5 445.32 L214.0 452.71 L214.5 459.79 L215.0 466.54 L215.5 472.92 L216.0 478.92 L216.5 484.52 L217.0 489.71 L217.5 494.51 L218.0 498.90 L218.5 502.91 L219.0 506.53 L219.5 509.80 L220.0 512.73 L220.5 515.34 L221.0 517.65 L221.5 519.69 L222.0 521.48 L222.5 523.04 L223.0 524.39 L223.5 525.55 L224.0 526.55 L224.5 527.40 L225.0 528.13 L225.5 528.74 L226.0 529.26 L226.5 529.69 L227.0 530.05 L227.5 530.34 L228.0 530.59 L228.5 530.79 L229.0 530.95 L229.0 531.60" fill="#8e8e8e" stroke="#1a1a1a" stroke-width="1.2" stroke-linejoin="round"/>
<line x1="103" y1="318.1" x2="318" y2="318.1" stroke="#9a9a9a" stroke-width="1.1"/>
<line x1="103" y1="318.1" x2="103" y2="531.6" stroke="#6e6e6e" stroke-width="1.1"/>
<line x1="318" y1="318.1" x2="318" y2="531.6" stroke="#4a4a4a" stroke-width="1.1"/>
<line x1="102.5" y1="531.6" x2="318.5" y2="531.6" stroke="#4a4a4a" stroke-width="1.1"/>
<line x1="103" y1="454.6" x2="212.61" y2="454.6" stroke="#111" stroke-width="1.1"/>
<line x1="212.61" y1="450.8" x2="212.61" y2="458.4" stroke="#111" stroke-width="1.1"/>
<line x1="212.61" y1="464.5" x2="318" y2="464.5" stroke="#111" stroke-width="1.1"/>
<line x1="212.61" y1="460.7" x2="212.61" y2="468.3" stroke="#111" stroke-width="1.1"/>
<line x1="103.2" y1="531.6" x2="103.2" y2="537.6" stroke="#333" stroke-width="1"/>
<line x1="116.87" y1="531.6" x2="116.87" y2="534.6" stroke="#333" stroke-width="0.8"/>
<line x1="124.86" y1="531.6" x2="124.86" y2="534.6" stroke="#333" stroke-width="0.8"/>
<line x1="130.53" y1="531.6" x2="130.53" y2="534.6" stroke="#333" stroke-width="0.8"/>
<line x1="134.93" y1="531.6" x2="134.93" y2="534.6" stroke="#333" stroke-width="0.8"/>
<line x1="138.53" y1="531.6" x2="138.53" y2="534.6" stroke="#333" stroke-width="0.8"/>
<line x1="141.57" y1="531.6" x2="141.57" y2="534.6" stroke="#333" stroke-width="0.8"/>
<line x1="144.2" y1="531.6" x2="144.2" y2="534.6" stroke="#333" stroke-width="0.8"/>
<line x1="146.52" y1="531.6" x2="146.52" y2="534.6" stroke="#333" stroke-width="0.8"/>
<line x1="148.6" y1="531.6" x2="148.6" y2="537.6" stroke="#333" stroke-width="1"/>
<line x1="162.27" y1="531.6" x2="162.27" y2="534.6" stroke="#333" stroke-width="0.8"/>
<line x1="170.26" y1="531.6" x2="170.26" y2="534.6" stroke="#333" stroke-width="0.8"/>
<line x1="175.93" y1="531.6" x2="175.93" y2="534.6" stroke="#333" stroke-width="0.8"/>
<line x1="180.33" y1="531.6" x2="180.33" y2="534.6" stroke="#333" stroke-width="0.8"/>
<line x1="183.93" y1="531.6" x2="183.93" y2="534.6" stroke="#333" stroke-width="0.8"/>
<line x1="186.97" y1="531.6" x2="186.97" y2="534.6" stroke="#333" stroke-width="0.8"/>
<line x1="189.6" y1="531.6" x2="189.6" y2="534.6" stroke="#333" stroke-width="0.8"/>
<line x1="191.92" y1="531.6" x2="191.92" y2="534.6" stroke="#333" stroke-width="0.8"/>
<line x1="194" y1="531.6" x2="194" y2="537.6" stroke="#333" stroke-width="1"/>
<line x1="207.67" y1="531.6" x2="207.67" y2="534.6" stroke="#333" stroke-width="0.8"/>
<line x1="215.66" y1="531.6" x2="215.66" y2="534.6" stroke="#333" stroke-width="0.8"/>
<line x1="221.33" y1="531.6" x2="221.33" y2="534.6" stroke="#333" stroke-width="0.8"/>
<line x1="225.73" y1="531.6" x2="225.73" y2="534.6" stroke="#333" stroke-width="0.8"/>
<line x1="229.33" y1="531.6" x2="229.33" y2="534.6" stroke="#333" stroke-width="0.8"/>
<line x1="232.37" y1="531.6" x2="232.37" y2="534.6" stroke="#333" stroke-width="0.8"/>
<line x1="235" y1="531.6" x2="235" y2="534.6" stroke="#333" stroke-width="0.8"/>
<line x1="237.32" y1="531.6" x2="237.32" y2="534.6" stroke="#333" stroke-width="0.8"/>
<line x1="239.4" y1="531.6" x2="239.4" y2="537.6" stroke="#333" stroke-width="1"/>
<line x1="253.07" y1="531.6" x2="253.07" y2="534.6" stroke="#333" stroke-width="0.8"/>
<line x1="261.06" y1="531.6" x2="261.06" y2="534.6" stroke="#333" stroke-width="0.8"/>
<line x1="266.73" y1="531.6" x2="266.73" y2="534.6" stroke="#333" stroke-width="0.8"/>
<line x1="271.13" y1="531.6" x2="271.13" y2="534.6" stroke="#333" stroke-width="0.8"/>
<line x1="274.73" y1="531.6" x2="274.73" y2="534.6" stroke="#333" stroke-width="0.8"/>
<line x1="277.77" y1="531.6" x2="277.77" y2="534.6" stroke="#333" stroke-width="0.8"/>
<line x1="280.4" y1="531.6" x2="280.4" y2="534.6" stroke="#333" stroke-width="0.8"/>
<line x1="282.72" y1="531.6" x2="282.72" y2="534.6" stroke="#333" stroke-width="0.8"/>
<line x1="284.8" y1="531.6" x2="284.8" y2="537.6" stroke="#333" stroke-width="1"/>
<line x1="298.47" y1="531.6" x2="298.47" y2="534.6" stroke="#333" stroke-width="0.8"/>
<line x1="306.46" y1="531.6" x2="306.46" y2="534.6" stroke="#333" stroke-width="0.8"/>
<line x1="312.13" y1="531.6" x2="312.13" y2="534.6" stroke="#333" stroke-width="0.8"/>
<line x1="316.53" y1="531.6" x2="316.53" y2="534.6" stroke="#333" stroke-width="0.8"/>
<text transform="matrix(0.05775 0 0 0.05775 106.81 557.08)" font-size="200" font-weight="bold" fill="#2a2a2a" >10</text>
<text transform="matrix(0.05362 0 0 0.05362 119.92 547.7)" font-size="200" font-weight="bold" fill="#2a2a2a" >1</text>
<text transform="matrix(0.05775 0 0 0.05775 146.41 557.08)" font-size="200" font-weight="bold" fill="#2a2a2a" >10</text>
<text transform="matrix(0.05286 0 0 0.05286 159.79 547.7)" font-size="200" font-weight="bold" fill="#2a2a2a" >2</text>
<text transform="matrix(0.05775 0 0 0.05775 191.81 557.08)" font-size="200" font-weight="bold" fill="#2a2a2a" >10</text>
<text transform="matrix(0.05211 0 0 0.05211 205.3 547.6)" font-size="200" font-weight="bold" fill="#2a2a2a" >3</text>
<text transform="matrix(0.05775 0 0 0.05775 237.21 557.08)" font-size="200" font-weight="bold" fill="#2a2a2a" >10</text>
<text transform="matrix(0.05362 0 0 0.05362 250.8 547.7)" font-size="200" font-weight="bold" fill="#2a2a2a" >4</text>
<text transform="matrix(0.05775 0 0 0.05775 282.61 557.08)" font-size="200" font-weight="bold" fill="#2a2a2a" >10</text>
<text transform="matrix(0.05286 0 0 0.05286 296.05 547.59)" font-size="200" font-weight="bold" fill="#2a2a2a" >5</text>
<line x1="96" y1="531.6" x2="103" y2="531.6" stroke="#333" stroke-width="1"/>
<text transform="matrix(0.05915 0 0 0.05634 85.91 537.19)" font-size="200" font-weight="bold" fill="#2a2a2a" >0</text>
<line x1="99.5" y1="520.7" x2="103" y2="520.7" stroke="#333" stroke-width="1"/>
<line x1="99.5" y1="509.8" x2="103" y2="509.8" stroke="#333" stroke-width="1"/>
<line x1="99.5" y1="498.9" x2="103" y2="498.9" stroke="#333" stroke-width="1"/>
<line x1="96" y1="488" x2="103" y2="488" stroke="#333" stroke-width="1"/>
<text transform="matrix(0.05915 0 0 0.05634 72.77 493.59)" font-size="200" font-weight="bold" fill="#2a2a2a" >100</text>
<line x1="99.5" y1="477.1" x2="103" y2="477.1" stroke="#333" stroke-width="1"/>
<line x1="99.5" y1="466.2" x2="103" y2="466.2" stroke="#333" stroke-width="1"/>
<line x1="99.5" y1="455.3" x2="103" y2="455.3" stroke="#333" stroke-width="1"/>
<line x1="96" y1="444.4" x2="103" y2="444.4" stroke="#333" stroke-width="1"/>
<text transform="matrix(0.05915 0 0 0.05634 72.77 449.99)" font-size="200" font-weight="bold" fill="#2a2a2a" >200</text>
<line x1="99.5" y1="433.5" x2="103" y2="433.5" stroke="#333" stroke-width="1"/>
<line x1="99.5" y1="422.6" x2="103" y2="422.6" stroke="#333" stroke-width="1"/>
<line x1="99.5" y1="411.7" x2="103" y2="411.7" stroke="#333" stroke-width="1"/>
<line x1="96" y1="400.8" x2="103" y2="400.8" stroke="#333" stroke-width="1"/>
<text transform="matrix(0.05915 0 0 0.05634 72.77 406.39)" font-size="200" font-weight="bold" fill="#2a2a2a" >300</text>
<line x1="99.5" y1="389.9" x2="103" y2="389.9" stroke="#333" stroke-width="1"/>
<line x1="99.5" y1="379" x2="103" y2="379" stroke="#333" stroke-width="1"/>
<line x1="99.5" y1="368.1" x2="103" y2="368.1" stroke="#333" stroke-width="1"/>
<line x1="96" y1="357.2" x2="103" y2="357.2" stroke="#333" stroke-width="1"/>
<text transform="matrix(0.05915 0 0 0.05634 72.77 362.79)" font-size="200" font-weight="bold" fill="#2a2a2a" >400</text>
<line x1="99.5" y1="346.3" x2="103" y2="346.3" stroke="#333" stroke-width="1"/>
<line x1="99.5" y1="335.4" x2="103" y2="335.4" stroke="#333" stroke-width="1"/>
<line x1="99.5" y1="324.5" x2="103" y2="324.5" stroke="#333" stroke-width="1"/>
<text transform="matrix(0.10107 0 0 0.10107 105.99 352.06)" font-size="200" font-weight="normal" fill="#1a1aff"  stroke="#1a1aff" stroke-width="5.94" stroke-linejoin="round">(-)</text>
<text transform="matrix(0.10211 0 0 0.10211 106.28 382.4)" font-size="200" font-weight="normal" fill="#1a1aff"  stroke="#1a1aff" stroke-width="5.88" stroke-linejoin="round">89.8</text>
<text transform="matrix(0.10107 0 0 0.10107 270.25 352.06)" font-size="200" font-weight="normal" fill="#1a1aff"  stroke="#1a1aff" stroke-width="5.94" stroke-linejoin="round">(+)</text>
<text transform="matrix(0.10211 0 0 0.10211 255.5 382.4)" font-size="200" font-weight="normal" fill="#1a1aff"  stroke="#1a1aff" stroke-width="5.88" stroke-linejoin="round">10.2</text>
<path d="M370.3 531.60 L370.3 530.97 L370.8 530.92 L371.3 530.87 L371.8 530.82 L372.3 530.76 L372.8 530.70 L373.3 530.63 L373.8 530.56 L374.3 530.49 L374.8 530.41 L375.3 530.33 L375.8 530.25 L376.3 530.16 L376.8 530.06 L377.3 529.96 L377.8 529.86 L378.3 529.75 L378.8 529.64 L379.3 529.52 L379.8 529.40 L380.3 529.28 L380.8 529.14 L381.3 529.01 L381.8 528.86 L382.3 528.72 L382.8 528.57 L383.3 528.41 L383.8 528.25 L384.3 528.08 L384.8 527.91 L385.3 527.74 L385.8 527.56 L386.3 527.37 L386.8 527.18 L387.3 526.99 L387.8 526.79 L388.3 526.60 L388.8 526.39 L389.3 526.19 L389.8 525.98 L390.3 525.77 L390.8 525.55 L391.3 525.34 L391.8 525.12 L392.3 524.90 L392.8 524.68 L393.3 524.46 L393.8 524.24 L394.3 524.02 L394.8 523.80 L395.3 523.58 L395.8 523.36 L396.3 523.14 L396.8 522.92 L397.3 522.69 L397.8 522.47 L398.3 522.25 L398.8 522.03 L399.3 521.80 L399.8 521.57 L400.3 521.34 L400.8 521.10 L401.3 520.85 L401.8 520.59 L402.3 520.32 L402.8 520.03 L403.3 519.73 L403.8 519.40 L404.3 519.04 L404.8 518.65 L405.3 518.22 L405.8 517.74 L406.3 517.22 L406.8 516.63 L407.3 515.97 L407.8 515.23 L408.3 514.40 L408.8 513.48 L409.3 512.44 L409.8 511.28 L410.3 509.99 L410.8 508.55 L411.3 506.94 L411.8 505.17 L412.3 503.20 L412.8 501.04 L413.3 498.66 L413.8 496.06 L414.3 493.23 L414.8 490.15 L415.3 486.82 L415.8 483.23 L416.3 479.37 L416.8 475.25 L417.3 470.86 L417.8 466.21 L418.3 461.31 L418.8 456.16 L419.3 450.78 L419.8 445.17 L420.3 439.38 L420.8 433.41 L421.3 427.29 L421.8 421.06 L422.3 414.75 L422.8 408.40 L423.3 402.04 L423.8 395.72 L424.3 389.49 L424.8 383.38 L425.3 377.46 L425.8 371.75 L426.3 366.32 L426.8 361.21 L427.3 356.46 L427.8 352.12 L428.3 348.23 L428.8 344.82 L429.3 341.92 L429.8 339.57 L430.3 337.79 L430.8 336.59 L431.3 336.00 L431.8 336.03 L432.3 337.00 L432.8 339.06 L433.3 342.17 L433.8 346.28 L434.3 351.33 L434.8 357.24 L435.3 363.90 L435.8 371.23 L436.3 379.11 L436.8 387.42 L437.3 396.04 L437.8 404.88 L438.3 413.81 L438.8 422.73 L439.3 431.54 L439.8 440.15 L440.3 448.49 L440.8 456.49 L441.3 464.10 L441.8 471.27 L442.3 477.98 L442.8 484.19 L443.3 489.90 L443.8 495.12 L444.3 499.84 L444.8 504.08 L445.3 507.86 L445.8 511.20 L446.3 514.14 L446.8 516.69 L447.3 518.89 L447.8 520.77 L448.3 522.36 L448.8 523.70 L449.3 524.80 L449.8 525.70 L450.3 526.42 L450.8 526.99 L451.3 527.43 L451.8 527.76 L452.3 527.99 L452.8 528.14 L453.3 528.23 L453.8 528.26 L454.3 528.26 L454.8 528.22 L455.3 528.16 L455.8 528.09 L456.3 528.01 L456.8 527.93 L457.3 527.86 L457.8 527.79 L458.3 527.74 L458.8 527.70 L459.3 527.68 L459.8 527.67 L460.3 527.69 L460.8 527.73 L461.3 527.79 L461.8 527.87 L462.3 527.97 L462.8 528.09 L463.3 528.22 L463.8 528.37 L464.3 528.53 L464.8 528.70 L465.3 528.88 L465.8 529.06 L466.3 529.24 L466.8 529.42 L467.3 529.60 L467.8 529.78 L468.3 529.95 L468.8 530.11 L469.3 530.27 L469.8 530.42 L470.3 530.55 L470.8 530.68 L471.3 530.80 L471.8 530.90 L472.3 531.00 L472.3 531.60" fill="#8e8e8e" stroke="#1a1a1a" stroke-width="1.2" stroke-linejoin="round"/>
<line x1="325.8" y1="318.1" x2="540.8" y2="318.1" stroke="#9a9a9a" stroke-width="1.1"/>
<line x1="325.8" y1="318.1" x2="325.8" y2="531.6" stroke="#6e6e6e" stroke-width="1.1"/>
<line x1="540.8" y1="318.1" x2="540.8" y2="531.6" stroke="#4a4a4a" stroke-width="1.1"/>
<line x1="325.3" y1="531.6" x2="541.3" y2="531.6" stroke="#4a4a4a" stroke-width="1.1"/>
<line x1="325.8" y1="454.6" x2="435.87" y2="454.6" stroke="#111" stroke-width="1.1"/>
<line x1="435.87" y1="450.8" x2="435.87" y2="458.4" stroke="#111" stroke-width="1.1"/>
<line x1="435.87" y1="464.5" x2="540.8" y2="464.5" stroke="#111" stroke-width="1.1"/>
<line x1="435.87" y1="460.7" x2="435.87" y2="468.3" stroke="#111" stroke-width="1.1"/>
<line x1="326" y1="531.6" x2="326" y2="537.6" stroke="#333" stroke-width="1"/>
<line x1="339.67" y1="531.6" x2="339.67" y2="534.6" stroke="#333" stroke-width="0.8"/>
<line x1="347.66" y1="531.6" x2="347.66" y2="534.6" stroke="#333" stroke-width="0.8"/>
<line x1="353.33" y1="531.6" x2="353.33" y2="534.6" stroke="#333" stroke-width="0.8"/>
<line x1="357.73" y1="531.6" x2="357.73" y2="534.6" stroke="#333" stroke-width="0.8"/>
<line x1="361.33" y1="531.6" x2="361.33" y2="534.6" stroke="#333" stroke-width="0.8"/>
<line x1="364.37" y1="531.6" x2="364.37" y2="534.6" stroke="#333" stroke-width="0.8"/>
<line x1="367" y1="531.6" x2="367" y2="534.6" stroke="#333" stroke-width="0.8"/>
<line x1="369.32" y1="531.6" x2="369.32" y2="534.6" stroke="#333" stroke-width="0.8"/>
<line x1="371.4" y1="531.6" x2="371.4" y2="537.6" stroke="#333" stroke-width="1"/>
<line x1="385.07" y1="531.6" x2="385.07" y2="534.6" stroke="#333" stroke-width="0.8"/>
<line x1="393.06" y1="531.6" x2="393.06" y2="534.6" stroke="#333" stroke-width="0.8"/>
<line x1="398.73" y1="531.6" x2="398.73" y2="534.6" stroke="#333" stroke-width="0.8"/>
<line x1="403.13" y1="531.6" x2="403.13" y2="534.6" stroke="#333" stroke-width="0.8"/>
<line x1="406.73" y1="531.6" x2="406.73" y2="534.6" stroke="#333" stroke-width="0.8"/>
<line x1="409.77" y1="531.6" x2="409.77" y2="534.6" stroke="#333" stroke-width="0.8"/>
<line x1="412.4" y1="531.6" x2="412.4" y2="534.6" stroke="#333" stroke-width="0.8"/>
<line x1="414.72" y1="531.6" x2="414.72" y2="534.6" stroke="#333" stroke-width="0.8"/>
<line x1="416.8" y1="531.6" x2="416.8" y2="537.6" stroke="#333" stroke-width="1"/>
<line x1="430.47" y1="531.6" x2="430.47" y2="534.6" stroke="#333" stroke-width="0.8"/>
<line x1="438.46" y1="531.6" x2="438.46" y2="534.6" stroke="#333" stroke-width="0.8"/>
<line x1="444.13" y1="531.6" x2="444.13" y2="534.6" stroke="#333" stroke-width="0.8"/>
<line x1="448.53" y1="531.6" x2="448.53" y2="534.6" stroke="#333" stroke-width="0.8"/>
<line x1="452.13" y1="531.6" x2="452.13" y2="534.6" stroke="#333" stroke-width="0.8"/>
<line x1="455.17" y1="531.6" x2="455.17" y2="534.6" stroke="#333" stroke-width="0.8"/>
<line x1="457.8" y1="531.6" x2="457.8" y2="534.6" stroke="#333" stroke-width="0.8"/>
<line x1="460.12" y1="531.6" x2="460.12" y2="534.6" stroke="#333" stroke-width="0.8"/>
<line x1="462.2" y1="531.6" x2="462.2" y2="537.6" stroke="#333" stroke-width="1"/>
<line x1="475.87" y1="531.6" x2="475.87" y2="534.6" stroke="#333" stroke-width="0.8"/>
<line x1="483.86" y1="531.6" x2="483.86" y2="534.6" stroke="#333" stroke-width="0.8"/>
<line x1="489.53" y1="531.6" x2="489.53" y2="534.6" stroke="#333" stroke-width="0.8"/>
<line x1="493.93" y1="531.6" x2="493.93" y2="534.6" stroke="#333" stroke-width="0.8"/>
<line x1="497.53" y1="531.6" x2="497.53" y2="534.6" stroke="#333" stroke-width="0.8"/>
<line x1="500.57" y1="531.6" x2="500.57" y2="534.6" stroke="#333" stroke-width="0.8"/>
<line x1="503.2" y1="531.6" x2="503.2" y2="534.6" stroke="#333" stroke-width="0.8"/>
<line x1="505.52" y1="531.6" x2="505.52" y2="534.6" stroke="#333" stroke-width="0.8"/>
<line x1="507.6" y1="531.6" x2="507.6" y2="537.6" stroke="#333" stroke-width="1"/>
<line x1="521.27" y1="531.6" x2="521.27" y2="534.6" stroke="#333" stroke-width="0.8"/>
<line x1="529.26" y1="531.6" x2="529.26" y2="534.6" stroke="#333" stroke-width="0.8"/>
<line x1="534.93" y1="531.6" x2="534.93" y2="534.6" stroke="#333" stroke-width="0.8"/>
<line x1="539.33" y1="531.6" x2="539.33" y2="534.6" stroke="#333" stroke-width="0.8"/>
<text transform="matrix(0.05775 0 0 0.05775 329.61 557.08)" font-size="200" font-weight="bold" fill="#2a2a2a" >10</text>
<text transform="matrix(0.05362 0 0 0.05362 342.72 547.7)" font-size="200" font-weight="bold" fill="#2a2a2a" >1</text>
<text transform="matrix(0.05775 0 0 0.05775 369.21 557.08)" font-size="200" font-weight="bold" fill="#2a2a2a" >10</text>
<text transform="matrix(0.05286 0 0 0.05286 382.59 547.7)" font-size="200" font-weight="bold" fill="#2a2a2a" >2</text>
<text transform="matrix(0.05775 0 0 0.05775 414.61 557.08)" font-size="200" font-weight="bold" fill="#2a2a2a" >10</text>
<text transform="matrix(0.05211 0 0 0.05211 428.1 547.6)" font-size="200" font-weight="bold" fill="#2a2a2a" >3</text>
<text transform="matrix(0.05775 0 0 0.05775 460.01 557.08)" font-size="200" font-weight="bold" fill="#2a2a2a" >10</text>
<text transform="matrix(0.05362 0 0 0.05362 473.6 547.7)" font-size="200" font-weight="bold" fill="#2a2a2a" >4</text>
<text transform="matrix(0.05775 0 0 0.05775 505.41 557.08)" font-size="200" font-weight="bold" fill="#2a2a2a" >10</text>
<text transform="matrix(0.05286 0 0 0.05286 518.85 547.59)" font-size="200" font-weight="bold" fill="#2a2a2a" >5</text>
<text transform="matrix(0.10107 0 0 0.10107 328.79 352.06)" font-size="200" font-weight="normal" fill="#1a1aff"  stroke="#1a1aff" stroke-width="5.94" stroke-linejoin="round">(-)</text>
<text transform="matrix(0.10211 0 0 0.10211 328.98 382.4)" font-size="200" font-weight="normal" fill="#1a1aff"  stroke="#1a1aff" stroke-width="5.88" stroke-linejoin="round">78.6</text>
<text transform="matrix(0.10107 0 0 0.10107 493.05 352.06)" font-size="200" font-weight="normal" fill="#1a1aff"  stroke="#1a1aff" stroke-width="5.94" stroke-linejoin="round">(+)</text>
<text transform="matrix(0.10357 0 0 0.10357 477.33 382.6)" font-size="200" font-weight="normal" fill="#1a1aff"  stroke="#1a1aff" stroke-width="5.79" stroke-linejoin="round">21.4</text>
<path d="M609.8 531.60 L609.8 530.97 L610.3 530.92 L610.8 530.86 L611.3 530.80 L611.8 530.74 L612.3 530.67 L612.8 530.60 L613.3 530.52 L613.8 530.44 L614.3 530.36 L614.8 530.27 L615.3 530.18 L615.8 530.09 L616.3 529.99 L616.8 529.88 L617.3 529.78 L617.8 529.66 L618.3 529.55 L618.8 529.43 L619.3 529.31 L619.8 529.18 L620.3 529.05 L620.8 528.92 L621.3 528.79 L621.8 528.65 L622.3 528.51 L622.8 528.37 L623.3 528.22 L623.8 528.08 L624.3 527.93 L624.8 527.78 L625.3 527.62 L625.8 527.47 L626.3 527.31 L626.8 527.14 L627.3 526.97 L627.8 526.80 L628.3 526.62 L628.8 526.43 L629.3 526.23 L629.8 526.01 L630.3 525.78 L630.8 525.53 L631.3 525.25 L631.8 524.94 L632.3 524.60 L632.8 524.21 L633.3 523.78 L633.8 523.28 L634.3 522.72 L634.8 522.07 L635.3 521.34 L635.8 520.50 L636.3 519.55 L636.8 518.46 L637.3 517.22 L637.8 515.82 L638.3 514.24 L638.8 512.46 L639.3 510.45 L639.8 508.22 L640.3 505.72 L640.8 502.96 L641.3 499.91 L641.8 496.56 L642.3 492.90 L642.8 488.91 L643.3 484.59 L643.8 479.93 L644.3 474.94 L644.8 469.62 L645.3 463.97 L645.8 458.01 L646.3 451.75 L646.8 445.23 L647.3 438.47 L647.8 431.50 L648.3 424.37 L648.8 417.12 L649.3 409.80 L649.8 402.46 L650.3 395.17 L650.8 387.99 L651.3 380.97 L651.8 374.19 L652.3 367.70 L652.8 361.58 L653.3 355.89 L653.8 350.69 L654.3 346.03 L654.8 341.97 L655.3 338.55 L655.8 335.82 L656.3 333.80 L656.8 332.52 L657.3 332.00 L657.8 332.34 L658.3 333.84 L658.8 336.51 L659.3 340.29 L659.8 345.13 L660.3 350.92 L660.8 357.58 L661.3 364.99 L661.8 373.02 L662.3 381.56 L662.8 390.46 L663.3 399.59 L663.8 408.83 L664.3 418.04 L664.8 427.10 L665.3 435.92 L665.8 444.39 L666.3 452.43 L666.8 459.97 L667.3 466.96 L667.8 473.35 L668.3 479.12 L668.8 484.26 L669.3 488.76 L669.8 492.64 L670.3 495.93 L670.8 498.65 L671.3 500.85 L671.8 502.58 L672.3 503.89 L672.8 504.83 L673.3 505.47 L673.8 505.85 L674.3 506.03 L674.8 506.06 L675.3 505.99 L675.8 505.85 L676.3 505.69 L676.8 505.53 L677.3 505.39 L677.8 505.29 L678.3 505.24 L678.8 505.25 L679.3 505.30 L679.8 505.39 L680.3 505.50 L680.8 505.61 L681.3 505.78 L681.8 506.02 L682.3 506.35 L682.8 506.79 L683.3 507.35 L683.8 508.03 L684.3 508.84 L684.8 509.76 L685.3 510.79 L685.8 511.93 L686.3 513.14 L686.8 514.43 L687.3 515.76 L687.8 517.11 L688.3 518.48 L688.8 519.82 L689.3 521.13 L689.8 522.39 L690.3 523.59 L690.8 524.70 L691.3 525.72 L691.8 526.64 L692.3 527.47 L692.8 528.20 L693.3 528.83 L693.8 529.38 L694.3 529.83 L694.8 530.21 L695.3 530.53 L695.8 530.78 L696.3 530.98 L696.3 531.60" fill="#8e8e8e" stroke="#1a1a1a" stroke-width="1.2" stroke-linejoin="round"/>
<line x1="548.3" y1="318.1" x2="763.3" y2="318.1" stroke="#9a9a9a" stroke-width="1.1"/>
<line x1="548.3" y1="318.1" x2="548.3" y2="531.6" stroke="#6e6e6e" stroke-width="1.1"/>
<line x1="763.3" y1="318.1" x2="763.3" y2="531.6" stroke="#4a4a4a" stroke-width="1.1"/>
<line x1="547.8" y1="531.6" x2="763.8" y2="531.6" stroke="#4a4a4a" stroke-width="1.1"/>
<line x1="548.3" y1="454.6" x2="657.46" y2="454.6" stroke="#111" stroke-width="1.1"/>
<line x1="657.46" y1="450.8" x2="657.46" y2="458.4" stroke="#111" stroke-width="1.1"/>
<line x1="657.46" y1="464.5" x2="763.3" y2="464.5" stroke="#111" stroke-width="1.1"/>
<line x1="657.46" y1="460.7" x2="657.46" y2="468.3" stroke="#111" stroke-width="1.1"/>
<line x1="548.5" y1="531.6" x2="548.5" y2="537.6" stroke="#333" stroke-width="1"/>
<line x1="562.17" y1="531.6" x2="562.17" y2="534.6" stroke="#333" stroke-width="0.8"/>
<line x1="570.16" y1="531.6" x2="570.16" y2="534.6" stroke="#333" stroke-width="0.8"/>
<line x1="575.83" y1="531.6" x2="575.83" y2="534.6" stroke="#333" stroke-width="0.8"/>
<line x1="580.23" y1="531.6" x2="580.23" y2="534.6" stroke="#333" stroke-width="0.8"/>
<line x1="583.83" y1="531.6" x2="583.83" y2="534.6" stroke="#333" stroke-width="0.8"/>
<line x1="586.87" y1="531.6" x2="586.87" y2="534.6" stroke="#333" stroke-width="0.8"/>
<line x1="589.5" y1="531.6" x2="589.5" y2="534.6" stroke="#333" stroke-width="0.8"/>
<line x1="591.82" y1="531.6" x2="591.82" y2="534.6" stroke="#333" stroke-width="0.8"/>
<line x1="593.9" y1="531.6" x2="593.9" y2="537.6" stroke="#333" stroke-width="1"/>
<line x1="607.57" y1="531.6" x2="607.57" y2="534.6" stroke="#333" stroke-width="0.8"/>
<line x1="615.56" y1="531.6" x2="615.56" y2="534.6" stroke="#333" stroke-width="0.8"/>
<line x1="621.23" y1="531.6" x2="621.23" y2="534.6" stroke="#333" stroke-width="0.8"/>
<line x1="625.63" y1="531.6" x2="625.63" y2="534.6" stroke="#333" stroke-width="0.8"/>
<line x1="629.23" y1="531.6" x2="629.23" y2="534.6" stroke="#333" stroke-width="0.8"/>
<line x1="632.27" y1="531.6" x2="632.27" y2="534.6" stroke="#333" stroke-width="0.8"/>
<line x1="634.9" y1="531.6" x2="634.9" y2="534.6" stroke="#333" stroke-width="0.8"/>
<line x1="637.22" y1="531.6" x2="637.22" y2="534.6" stroke="#333" stroke-width="0.8"/>
<line x1="639.3" y1="531.6" x2="639.3" y2="537.6" stroke="#333" stroke-width="1"/>
<line x1="652.97" y1="531.6" x2="652.97" y2="534.6" stroke="#333" stroke-width="0.8"/>
<line x1="660.96" y1="531.6" x2="660.96" y2="534.6" stroke="#333" stroke-width="0.8"/>
<line x1="666.63" y1="531.6" x2="666.63" y2="534.6" stroke="#333" stroke-width="0.8"/>
<line x1="671.03" y1="531.6" x2="671.03" y2="534.6" stroke="#333" stroke-width="0.8"/>
<line x1="674.63" y1="531.6" x2="674.63" y2="534.6" stroke="#333" stroke-width="0.8"/>
<line x1="677.67" y1="531.6" x2="677.67" y2="534.6" stroke="#333" stroke-width="0.8"/>
<line x1="680.3" y1="531.6" x2="680.3" y2="534.6" stroke="#333" stroke-width="0.8"/>
<line x1="682.62" y1="531.6" x2="682.62" y2="534.6" stroke="#333" stroke-width="0.8"/>
<line x1="684.7" y1="531.6" x2="684.7" y2="537.6" stroke="#333" stroke-width="1"/>
<line x1="698.37" y1="531.6" x2="698.37" y2="534.6" stroke="#333" stroke-width="0.8"/>
<line x1="706.36" y1="531.6" x2="706.36" y2="534.6" stroke="#333" stroke-width="0.8"/>
<line x1="712.03" y1="531.6" x2="712.03" y2="534.6" stroke="#333" stroke-width="0.8"/>
<line x1="716.43" y1="531.6" x2="716.43" y2="534.6" stroke="#333" stroke-width="0.8"/>
<line x1="720.03" y1="531.6" x2="720.03" y2="534.6" stroke="#333" stroke-width="0.8"/>
<line x1="723.07" y1="531.6" x2="723.07" y2="534.6" stroke="#333" stroke-width="0.8"/>
<line x1="725.7" y1="531.6" x2="725.7" y2="534.6" stroke="#333" stroke-width="0.8"/>
<line x1="728.02" y1="531.6" x2="728.02" y2="534.6" stroke="#333" stroke-width="0.8"/>
<line x1="730.1" y1="531.6" x2="730.1" y2="537.6" stroke="#333" stroke-width="1"/>
<line x1="743.77" y1="531.6" x2="743.77" y2="534.6" stroke="#333" stroke-width="0.8"/>
<line x1="751.76" y1="531.6" x2="751.76" y2="534.6" stroke="#333" stroke-width="0.8"/>
<line x1="757.43" y1="531.6" x2="757.43" y2="534.6" stroke="#333" stroke-width="0.8"/>
<line x1="761.83" y1="531.6" x2="761.83" y2="534.6" stroke="#333" stroke-width="0.8"/>
<text transform="matrix(0.05775 0 0 0.05775 552.11 557.08)" font-size="200" font-weight="bold" fill="#2a2a2a" >10</text>
<text transform="matrix(0.05362 0 0 0.05362 565.22 547.7)" font-size="200" font-weight="bold" fill="#2a2a2a" >1</text>
<text transform="matrix(0.05775 0 0 0.05775 591.71 557.08)" font-size="200" font-weight="bold" fill="#2a2a2a" >10</text>
<text transform="matrix(0.05286 0 0 0.05286 605.09 547.7)" font-size="200" font-weight="bold" fill="#2a2a2a" >2</text>
<text transform="matrix(0.05775 0 0 0.05775 637.11 557.08)" font-size="200" font-weight="bold" fill="#2a2a2a" >10</text>
<text transform="matrix(0.05211 0 0 0.05211 650.6 547.6)" font-size="200" font-weight="bold" fill="#2a2a2a" >3</text>
<text transform="matrix(0.05775 0 0 0.05775 682.51 557.08)" font-size="200" font-weight="bold" fill="#2a2a2a" >10</text>
<text transform="matrix(0.05362 0 0 0.05362 696.1 547.7)" font-size="200" font-weight="bold" fill="#2a2a2a" >4</text>
<text transform="matrix(0.05775 0 0 0.05775 727.91 557.08)" font-size="200" font-weight="bold" fill="#2a2a2a" >10</text>
<text transform="matrix(0.05286 0 0 0.05286 741.35 547.59)" font-size="200" font-weight="bold" fill="#2a2a2a" >5</text>
<text transform="matrix(0.10107 0 0 0.10107 551.29 352.06)" font-size="200" font-weight="normal" fill="#1a1aff"  stroke="#1a1aff" stroke-width="5.94" stroke-linejoin="round">(-)</text>
<text transform="matrix(0.10211 0 0 0.10211 551.68 382.4)" font-size="200" font-weight="normal" fill="#1a1aff"  stroke="#1a1aff" stroke-width="5.88" stroke-linejoin="round">57.6</text>
<text transform="matrix(0.10107 0 0 0.10107 715.55 352.06)" font-size="200" font-weight="normal" fill="#1a1aff"  stroke="#1a1aff" stroke-width="5.94" stroke-linejoin="round">(+)</text>
<text transform="matrix(0.10357 0 0 0.10357 699.83 382.6)" font-size="200" font-weight="normal" fill="#1a1aff"  stroke="#1a1aff" stroke-width="5.79" stroke-linejoin="round">42.4</text>
<path d="M829.8 531.60 L829.8 531.01 L830.3 530.96 L830.8 530.91 L831.3 530.85 L831.8 530.79 L832.3 530.72 L832.8 530.66 L833.3 530.58 L833.8 530.51 L834.3 530.43 L834.8 530.34 L835.3 530.26 L835.8 530.16 L836.3 530.07 L836.8 529.97 L837.3 529.87 L837.8 529.76 L838.3 529.65 L838.8 529.53 L839.3 529.42 L839.8 529.29 L840.3 529.17 L840.8 529.04 L841.3 528.91 L841.8 528.77 L842.3 528.64 L842.8 528.49 L843.3 528.35 L843.8 528.20 L844.3 528.05 L844.8 527.90 L845.3 527.74 L845.8 527.58 L846.3 527.41 L846.8 527.24 L847.3 527.05 L847.8 526.86 L848.3 526.66 L848.8 526.45 L849.3 526.22 L849.8 525.98 L850.3 525.71 L850.8 525.42 L851.3 525.09 L851.8 524.73 L852.3 524.33 L852.8 523.88 L853.3 523.37 L853.8 522.80 L854.3 522.15 L854.8 521.41 L855.3 520.58 L855.8 519.64 L856.3 518.58 L856.8 517.38 L857.3 516.03 L857.8 514.51 L858.3 512.82 L858.8 510.92 L859.3 508.82 L859.8 506.49 L860.3 503.91 L860.8 501.08 L861.3 497.98 L861.8 494.60 L862.3 490.93 L862.8 486.97 L863.3 482.70 L863.8 478.13 L864.3 473.25 L864.8 468.09 L865.3 462.63 L865.8 456.91 L866.3 450.92 L866.8 444.71 L867.3 438.30 L867.8 431.71 L868.3 424.98 L868.8 418.16 L869.3 411.28 L869.8 404.41 L870.3 397.58 L870.8 390.85 L871.3 384.28 L871.8 377.92 L872.3 371.83 L872.8 366.07 L873.3 360.69 L873.8 355.74 L874.3 351.28 L874.8 347.35 L875.3 343.99 L875.8 341.23 L876.3 339.12 L876.8 337.66 L877.3 336.88 L877.8 336.80 L878.3 337.74 L878.8 339.83 L879.3 343.03 L879.8 347.29 L880.3 352.54 L880.8 358.67 L881.3 365.60 L881.8 373.20 L882.3 381.35 L882.8 389.93 L883.3 398.81 L883.8 407.85 L884.3 416.94 L884.8 425.97 L885.3 434.81 L885.8 443.37 L886.3 451.57 L886.8 459.34 L887.3 466.59 L887.8 473.30 L888.3 479.42 L888.8 484.93 L889.3 489.82 L889.8 494.09 L890.3 497.74 L890.8 500.81 L891.3 503.31 L891.8 505.29 L892.3 506.78 L892.8 507.85 L893.3 508.52 L893.8 508.87 L894.3 508.94 L894.8 508.80 L895.3 508.48 L895.8 508.04 L896.3 507.52 L896.8 506.98 L897.3 506.43 L897.8 505.91 L898.3 505.45 L898.8 505.06 L899.3 504.74 L899.8 504.52 L900.3 504.38 L900.8 504.32 L901.3 504.32 L901.8 504.37 L902.3 504.43 L902.8 504.56 L903.3 504.76 L903.8 505.06 L904.3 505.49 L904.8 506.04 L905.3 506.72 L905.8 507.53 L906.3 508.47 L906.8 509.53 L907.3 510.70 L907.8 511.96 L908.3 513.30 L908.8 514.69 L909.3 516.11 L909.8 517.54 L910.3 518.96 L910.8 520.35 L911.3 521.68 L911.8 522.95 L912.3 524.13 L912.8 525.23 L913.3 526.22 L913.8 527.11 L914.3 527.89 L914.8 528.58 L915.3 529.16 L915.8 529.66 L916.3 530.08 L916.8 530.42 L917.3 530.69 L917.8 530.91 L917.8 531.60" fill="#8e8e8e" stroke="#1a1a1a" stroke-width="1.2" stroke-linejoin="round"/>
<line x1="770.8" y1="318.1" x2="985.8" y2="318.1" stroke="#9a9a9a" stroke-width="1.1"/>
<line x1="770.8" y1="318.1" x2="770.8" y2="531.6" stroke="#6e6e6e" stroke-width="1.1"/>
<line x1="985.8" y1="318.1" x2="985.8" y2="531.6" stroke="#4a4a4a" stroke-width="1.1"/>
<line x1="770.3" y1="531.6" x2="986.3" y2="531.6" stroke="#4a4a4a" stroke-width="1.1"/>
<line x1="770.8" y1="454.6" x2="879.51" y2="454.6" stroke="#111" stroke-width="1.1"/>
<line x1="879.51" y1="450.8" x2="879.51" y2="458.4" stroke="#111" stroke-width="1.1"/>
<line x1="879.51" y1="464.5" x2="985.8" y2="464.5" stroke="#111" stroke-width="1.1"/>
<line x1="879.51" y1="460.7" x2="879.51" y2="468.3" stroke="#111" stroke-width="1.1"/>
<line x1="771" y1="531.6" x2="771" y2="537.6" stroke="#333" stroke-width="1"/>
<line x1="784.67" y1="531.6" x2="784.67" y2="534.6" stroke="#333" stroke-width="0.8"/>
<line x1="792.66" y1="531.6" x2="792.66" y2="534.6" stroke="#333" stroke-width="0.8"/>
<line x1="798.33" y1="531.6" x2="798.33" y2="534.6" stroke="#333" stroke-width="0.8"/>
<line x1="802.73" y1="531.6" x2="802.73" y2="534.6" stroke="#333" stroke-width="0.8"/>
<line x1="806.33" y1="531.6" x2="806.33" y2="534.6" stroke="#333" stroke-width="0.8"/>
<line x1="809.37" y1="531.6" x2="809.37" y2="534.6" stroke="#333" stroke-width="0.8"/>
<line x1="812" y1="531.6" x2="812" y2="534.6" stroke="#333" stroke-width="0.8"/>
<line x1="814.32" y1="531.6" x2="814.32" y2="534.6" stroke="#333" stroke-width="0.8"/>
<line x1="816.4" y1="531.6" x2="816.4" y2="537.6" stroke="#333" stroke-width="1"/>
<line x1="830.07" y1="531.6" x2="830.07" y2="534.6" stroke="#333" stroke-width="0.8"/>
<line x1="838.06" y1="531.6" x2="838.06" y2="534.6" stroke="#333" stroke-width="0.8"/>
<line x1="843.73" y1="531.6" x2="843.73" y2="534.6" stroke="#333" stroke-width="0.8"/>
<line x1="848.13" y1="531.6" x2="848.13" y2="534.6" stroke="#333" stroke-width="0.8"/>
<line x1="851.73" y1="531.6" x2="851.73" y2="534.6" stroke="#333" stroke-width="0.8"/>
<line x1="854.77" y1="531.6" x2="854.77" y2="534.6" stroke="#333" stroke-width="0.8"/>
<line x1="857.4" y1="531.6" x2="857.4" y2="534.6" stroke="#333" stroke-width="0.8"/>
<line x1="859.72" y1="531.6" x2="859.72" y2="534.6" stroke="#333" stroke-width="0.8"/>
<line x1="861.8" y1="531.6" x2="861.8" y2="537.6" stroke="#333" stroke-width="1"/>
<line x1="875.47" y1="531.6" x2="875.47" y2="534.6" stroke="#333" stroke-width="0.8"/>
<line x1="883.46" y1="531.6" x2="883.46" y2="534.6" stroke="#333" stroke-width="0.8"/>
<line x1="889.13" y1="531.6" x2="889.13" y2="534.6" stroke="#333" stroke-width="0.8"/>
<line x1="893.53" y1="531.6" x2="893.53" y2="534.6" stroke="#333" stroke-width="0.8"/>
<line x1="897.13" y1="531.6" x2="897.13" y2="534.6" stroke="#333" stroke-width="0.8"/>
<line x1="900.17" y1="531.6" x2="900.17" y2="534.6" stroke="#333" stroke-width="0.8"/>
<line x1="902.8" y1="531.6" x2="902.8" y2="534.6" stroke="#333" stroke-width="0.8"/>
<line x1="905.12" y1="531.6" x2="905.12" y2="534.6" stroke="#333" stroke-width="0.8"/>
<line x1="907.2" y1="531.6" x2="907.2" y2="537.6" stroke="#333" stroke-width="1"/>
<line x1="920.87" y1="531.6" x2="920.87" y2="534.6" stroke="#333" stroke-width="0.8"/>
<line x1="928.86" y1="531.6" x2="928.86" y2="534.6" stroke="#333" stroke-width="0.8"/>
<line x1="934.53" y1="531.6" x2="934.53" y2="534.6" stroke="#333" stroke-width="0.8"/>
<line x1="938.93" y1="531.6" x2="938.93" y2="534.6" stroke="#333" stroke-width="0.8"/>
<line x1="942.53" y1="531.6" x2="942.53" y2="534.6" stroke="#333" stroke-width="0.8"/>
<line x1="945.57" y1="531.6" x2="945.57" y2="534.6" stroke="#333" stroke-width="0.8"/>
<line x1="948.2" y1="531.6" x2="948.2" y2="534.6" stroke="#333" stroke-width="0.8"/>
<line x1="950.52" y1="531.6" x2="950.52" y2="534.6" stroke="#333" stroke-width="0.8"/>
<line x1="952.6" y1="531.6" x2="952.6" y2="537.6" stroke="#333" stroke-width="1"/>
<line x1="966.27" y1="531.6" x2="966.27" y2="534.6" stroke="#333" stroke-width="0.8"/>
<line x1="974.26" y1="531.6" x2="974.26" y2="534.6" stroke="#333" stroke-width="0.8"/>
<line x1="979.93" y1="531.6" x2="979.93" y2="534.6" stroke="#333" stroke-width="0.8"/>
<line x1="984.33" y1="531.6" x2="984.33" y2="534.6" stroke="#333" stroke-width="0.8"/>
<text transform="matrix(0.05775 0 0 0.05775 774.61 557.08)" font-size="200" font-weight="bold" fill="#2a2a2a" >10</text>
<text transform="matrix(0.05362 0 0 0.05362 787.72 547.7)" font-size="200" font-weight="bold" fill="#2a2a2a" >1</text>
<text transform="matrix(0.05775 0 0 0.05775 814.21 557.08)" font-size="200" font-weight="bold" fill="#2a2a2a" >10</text>
<text transform="matrix(0.05286 0 0 0.05286 827.59 547.7)" font-size="200" font-weight="bold" fill="#2a2a2a" >2</text>
<text transform="matrix(0.05775 0 0 0.05775 859.61 557.08)" font-size="200" font-weight="bold" fill="#2a2a2a" >10</text>
<text transform="matrix(0.05211 0 0 0.05211 873.1 547.6)" font-size="200" font-weight="bold" fill="#2a2a2a" >3</text>
<text transform="matrix(0.05775 0 0 0.05775 905.01 557.08)" font-size="200" font-weight="bold" fill="#2a2a2a" >10</text>
<text transform="matrix(0.05362 0 0 0.05362 918.6 547.7)" font-size="200" font-weight="bold" fill="#2a2a2a" >4</text>
<text transform="matrix(0.05775 0 0 0.05775 950.41 557.08)" font-size="200" font-weight="bold" fill="#2a2a2a" >10</text>
<text transform="matrix(0.05286 0 0 0.05286 963.85 547.59)" font-size="200" font-weight="bold" fill="#2a2a2a" >5</text>
<text transform="matrix(0.10107 0 0 0.10107 773.79 352.06)" font-size="200" font-weight="normal" fill="#1a1aff"  stroke="#1a1aff" stroke-width="5.94" stroke-linejoin="round">(-)</text>
<text transform="matrix(0.10211 0 0 0.10211 773.98 382.4)" font-size="200" font-weight="normal" fill="#1a1aff"  stroke="#1a1aff" stroke-width="5.88" stroke-linejoin="round">60.8</text>
<text transform="matrix(0.10107 0 0 0.10107 938.05 352.06)" font-size="200" font-weight="normal" fill="#1a1aff"  stroke="#1a1aff" stroke-width="5.94" stroke-linejoin="round">(+)</text>
<text transform="matrix(0.10211 0 0 0.10211 923.3 382.4)" font-size="200" font-weight="normal" fill="#1a1aff"  stroke="#1a1aff" stroke-width="5.88" stroke-linejoin="round">39.2</text>
<path d="M164.0 784.70 L164.0 784.08 L164.5 784.02 L165.0 783.96 L165.5 783.89 L166.0 783.83 L166.5 783.75 L167.0 783.68 L167.5 783.60 L168.0 783.51 L168.5 783.42 L169.0 783.32 L169.5 783.22 L170.0 783.12 L170.5 783.01 L171.0 782.90 L171.5 782.78 L172.0 782.65 L172.5 782.52 L173.0 782.38 L173.5 782.24 L174.0 782.10 L174.5 781.94 L175.0 781.79 L175.5 781.62 L176.0 781.45 L176.5 781.27 L177.0 781.08 L177.5 780.88 L178.0 780.67 L178.5 780.44 L179.0 780.21 L179.5 779.95 L180.0 779.67 L180.5 779.38 L181.0 779.05 L181.5 778.70 L182.0 778.31 L182.5 777.88 L183.0 777.40 L183.5 776.87 L184.0 776.28 L184.5 775.62 L185.0 774.88 L185.5 774.06 L186.0 773.13 L186.5 772.10 L187.0 770.94 L187.5 769.65 L188.0 768.21 L188.5 766.60 L189.0 764.82 L189.5 762.86 L190.0 760.68 L190.5 758.29 L191.0 755.67 L191.5 752.80 L192.0 749.68 L192.5 746.30 L193.0 742.63 L193.5 738.69 L194.0 734.47 L194.5 729.95 L195.0 725.16 L195.5 720.08 L196.0 714.73 L196.5 709.12 L197.0 703.26 L197.5 697.18 L198.0 690.89 L198.5 684.43 L199.0 677.83 L199.5 671.12 L200.0 664.35 L200.5 657.54 L201.0 650.76 L201.5 644.04 L202.0 637.44 L202.5 631.01 L203.0 624.80 L203.5 618.86 L204.0 613.24 L204.5 607.99 L205.0 603.17 L205.5 598.82 L206.0 594.97 L206.5 591.67 L207.0 588.94 L207.5 586.83 L208.0 585.34 L208.5 584.49 L209.0 584.30 L209.5 584.97 L210.0 586.66 L210.5 589.36 L211.0 593.03 L211.5 597.60 L212.0 603.01 L212.5 609.18 L213.0 616.02 L213.5 623.44 L214.0 631.34 L214.5 639.61 L215.0 648.15 L215.5 656.86 L216.0 665.63 L216.5 674.38 L217.0 683.03 L217.5 691.48 L218.0 699.68 L218.5 707.56 L219.0 715.07 L219.5 722.18 L220.0 728.86 L220.5 735.08 L221.0 740.84 L221.5 746.14 L222.0 750.97 L222.5 755.35 L223.0 759.29 L223.5 762.82 L224.0 765.96 L224.5 768.73 L225.0 771.16 L225.5 773.28 L226.0 775.12 L226.5 776.70 L227.0 778.06 L227.5 779.22 L228.0 780.19 L228.5 781.02 L229.0 781.70 L229.5 782.28 L230.0 782.75 L230.5 783.14 L231.0 783.45 L231.5 783.71 L232.0 783.92 L232.5 784.09 L232.5 784.70" fill="#8e8e8e" stroke="#1a1a1a" stroke-width="1.2" stroke-linejoin="round"/>
<line x1="103" y1="570.7" x2="318" y2="570.7" stroke="#9a9a9a" stroke-width="1.1"/>
<line x1="103" y1="570.7" x2="103" y2="784.7" stroke="#6e6e6e" stroke-width="1.1"/>
<line x1="318" y1="570.7" x2="318" y2="784.7" stroke="#4a4a4a" stroke-width="1.1"/>
<line x1="102.5" y1="784.7" x2="318.5" y2="784.7" stroke="#4a4a4a" stroke-width="1.1"/>
<line x1="103" y1="726.8" x2="216.7" y2="726.8" stroke="#111" stroke-width="1.1"/>
<line x1="216.7" y1="723" x2="216.7" y2="730.6" stroke="#111" stroke-width="1.1"/>
<line x1="216.7" y1="738.5" x2="318" y2="738.5" stroke="#111" stroke-width="1.1"/>
<line x1="216.7" y1="734.7" x2="216.7" y2="742.3" stroke="#111" stroke-width="1.1"/>
<line x1="103.2" y1="784.7" x2="103.2" y2="790.7" stroke="#333" stroke-width="1"/>
<line x1="116.87" y1="784.7" x2="116.87" y2="787.7" stroke="#333" stroke-width="0.8"/>
<line x1="124.86" y1="784.7" x2="124.86" y2="787.7" stroke="#333" stroke-width="0.8"/>
<line x1="130.53" y1="784.7" x2="130.53" y2="787.7" stroke="#333" stroke-width="0.8"/>
<line x1="134.93" y1="784.7" x2="134.93" y2="787.7" stroke="#333" stroke-width="0.8"/>
<line x1="138.53" y1="784.7" x2="138.53" y2="787.7" stroke="#333" stroke-width="0.8"/>
<line x1="141.57" y1="784.7" x2="141.57" y2="787.7" stroke="#333" stroke-width="0.8"/>
<line x1="144.2" y1="784.7" x2="144.2" y2="787.7" stroke="#333" stroke-width="0.8"/>
<line x1="146.52" y1="784.7" x2="146.52" y2="787.7" stroke="#333" stroke-width="0.8"/>
<line x1="148.6" y1="784.7" x2="148.6" y2="790.7" stroke="#333" stroke-width="1"/>
<line x1="162.27" y1="784.7" x2="162.27" y2="787.7" stroke="#333" stroke-width="0.8"/>
<line x1="170.26" y1="784.7" x2="170.26" y2="787.7" stroke="#333" stroke-width="0.8"/>
<line x1="175.93" y1="784.7" x2="175.93" y2="787.7" stroke="#333" stroke-width="0.8"/>
<line x1="180.33" y1="784.7" x2="180.33" y2="787.7" stroke="#333" stroke-width="0.8"/>
<line x1="183.93" y1="784.7" x2="183.93" y2="787.7" stroke="#333" stroke-width="0.8"/>
<line x1="186.97" y1="784.7" x2="186.97" y2="787.7" stroke="#333" stroke-width="0.8"/>
<line x1="189.6" y1="784.7" x2="189.6" y2="787.7" stroke="#333" stroke-width="0.8"/>
<line x1="191.92" y1="784.7" x2="191.92" y2="787.7" stroke="#333" stroke-width="0.8"/>
<line x1="194" y1="784.7" x2="194" y2="790.7" stroke="#333" stroke-width="1"/>
<line x1="207.67" y1="784.7" x2="207.67" y2="787.7" stroke="#333" stroke-width="0.8"/>
<line x1="215.66" y1="784.7" x2="215.66" y2="787.7" stroke="#333" stroke-width="0.8"/>
<line x1="221.33" y1="784.7" x2="221.33" y2="787.7" stroke="#333" stroke-width="0.8"/>
<line x1="225.73" y1="784.7" x2="225.73" y2="787.7" stroke="#333" stroke-width="0.8"/>
<line x1="229.33" y1="784.7" x2="229.33" y2="787.7" stroke="#333" stroke-width="0.8"/>
<line x1="232.37" y1="784.7" x2="232.37" y2="787.7" stroke="#333" stroke-width="0.8"/>
<line x1="235" y1="784.7" x2="235" y2="787.7" stroke="#333" stroke-width="0.8"/>
<line x1="237.32" y1="784.7" x2="237.32" y2="787.7" stroke="#333" stroke-width="0.8"/>
<line x1="239.4" y1="784.7" x2="239.4" y2="790.7" stroke="#333" stroke-width="1"/>
<line x1="253.07" y1="784.7" x2="253.07" y2="787.7" stroke="#333" stroke-width="0.8"/>
<line x1="261.06" y1="784.7" x2="261.06" y2="787.7" stroke="#333" stroke-width="0.8"/>
<line x1="266.73" y1="784.7" x2="266.73" y2="787.7" stroke="#333" stroke-width="0.8"/>
<line x1="271.13" y1="784.7" x2="271.13" y2="787.7" stroke="#333" stroke-width="0.8"/>
<line x1="274.73" y1="784.7" x2="274.73" y2="787.7" stroke="#333" stroke-width="0.8"/>
<line x1="277.77" y1="784.7" x2="277.77" y2="787.7" stroke="#333" stroke-width="0.8"/>
<line x1="280.4" y1="784.7" x2="280.4" y2="787.7" stroke="#333" stroke-width="0.8"/>
<line x1="282.72" y1="784.7" x2="282.72" y2="787.7" stroke="#333" stroke-width="0.8"/>
<line x1="284.8" y1="784.7" x2="284.8" y2="790.7" stroke="#333" stroke-width="1"/>
<line x1="298.47" y1="784.7" x2="298.47" y2="787.7" stroke="#333" stroke-width="0.8"/>
<line x1="306.46" y1="784.7" x2="306.46" y2="787.7" stroke="#333" stroke-width="0.8"/>
<line x1="312.13" y1="784.7" x2="312.13" y2="787.7" stroke="#333" stroke-width="0.8"/>
<line x1="316.53" y1="784.7" x2="316.53" y2="787.7" stroke="#333" stroke-width="0.8"/>
<text transform="matrix(0.05775 0 0 0.05775 106.81 810.18)" font-size="200" font-weight="bold" fill="#2a2a2a" >10</text>
<text transform="matrix(0.05362 0 0 0.05362 119.92 800.8)" font-size="200" font-weight="bold" fill="#2a2a2a" >1</text>
<text transform="matrix(0.05775 0 0 0.05775 146.41 810.18)" font-size="200" font-weight="bold" fill="#2a2a2a" >10</text>
<text transform="matrix(0.05286 0 0 0.05286 159.79 800.8)" font-size="200" font-weight="bold" fill="#2a2a2a" >2</text>
<text transform="matrix(0.05775 0 0 0.05775 191.81 810.18)" font-size="200" font-weight="bold" fill="#2a2a2a" >10</text>
<text transform="matrix(0.05211 0 0 0.05211 205.3 800.7)" font-size="200" font-weight="bold" fill="#2a2a2a" >3</text>
<text transform="matrix(0.05775 0 0 0.05775 237.21 810.18)" font-size="200" font-weight="bold" fill="#2a2a2a" >10</text>
<text transform="matrix(0.05362 0 0 0.05362 250.8 800.8)" font-size="200" font-weight="bold" fill="#2a2a2a" >4</text>
<text transform="matrix(0.05775 0 0 0.05775 282.61 810.18)" font-size="200" font-weight="bold" fill="#2a2a2a" >10</text>
<text transform="matrix(0.05286 0 0 0.05286 296.05 800.69)" font-size="200" font-weight="bold" fill="#2a2a2a" >5</text>
<line x1="96" y1="784.7" x2="103" y2="784.7" stroke="#333" stroke-width="1"/>
<text transform="matrix(0.05915 0 0 0.05634 85.91 790.29)" font-size="200" font-weight="bold" fill="#2a2a2a" >0</text>
<line x1="99.5" y1="771.83" x2="103" y2="771.83" stroke="#333" stroke-width="1"/>
<line x1="99.5" y1="758.95" x2="103" y2="758.95" stroke="#333" stroke-width="1"/>
<line x1="99.5" y1="746.08" x2="103" y2="746.08" stroke="#333" stroke-width="1"/>
<line x1="96" y1="733.2" x2="103" y2="733.2" stroke="#333" stroke-width="1"/>
<text transform="matrix(0.05915 0 0 0.05634 72.77 738.79)" font-size="200" font-weight="bold" fill="#2a2a2a" >100</text>
<line x1="99.5" y1="720.33" x2="103" y2="720.33" stroke="#333" stroke-width="1"/>
<line x1="99.5" y1="707.45" x2="103" y2="707.45" stroke="#333" stroke-width="1"/>
<line x1="99.5" y1="694.58" x2="103" y2="694.58" stroke="#333" stroke-width="1"/>
<line x1="96" y1="681.7" x2="103" y2="681.7" stroke="#333" stroke-width="1"/>
<text transform="matrix(0.05915 0 0 0.05634 72.77 687.29)" font-size="200" font-weight="bold" fill="#2a2a2a" >200</text>
<line x1="99.5" y1="668.83" x2="103" y2="668.83" stroke="#333" stroke-width="1"/>
<line x1="99.5" y1="655.95" x2="103" y2="655.95" stroke="#333" stroke-width="1"/>
<line x1="99.5" y1="643.08" x2="103" y2="643.08" stroke="#333" stroke-width="1"/>
<line x1="96" y1="630.2" x2="103" y2="630.2" stroke="#333" stroke-width="1"/>
<text transform="matrix(0.05915 0 0 0.05634 72.77 635.79)" font-size="200" font-weight="bold" fill="#2a2a2a" >300</text>
<line x1="99.5" y1="617.33" x2="103" y2="617.33" stroke="#333" stroke-width="1"/>
<line x1="99.5" y1="604.45" x2="103" y2="604.45" stroke="#333" stroke-width="1"/>
<line x1="99.5" y1="591.58" x2="103" y2="591.58" stroke="#333" stroke-width="1"/>
<line x1="96" y1="578.7" x2="103" y2="578.7" stroke="#333" stroke-width="1"/>
<text transform="matrix(0.05915 0 0 0.05634 72.77 584.29)" font-size="200" font-weight="bold" fill="#2a2a2a" >400</text>
<text transform="matrix(0.10107 0 0 0.10107 105.99 604.66)" font-size="200" font-weight="normal" fill="#1a1aff"  stroke="#1a1aff" stroke-width="5.94" stroke-linejoin="round">(-)</text>
<text transform="matrix(0.10211 0 0 0.10211 106.28 635)" font-size="200" font-weight="normal" fill="#1a1aff"  stroke="#1a1aff" stroke-width="5.88" stroke-linejoin="round">89.6</text>
<text transform="matrix(0.10107 0 0 0.10107 270.25 604.66)" font-size="200" font-weight="normal" fill="#1a1aff"  stroke="#1a1aff" stroke-width="5.94" stroke-linejoin="round">(+)</text>
<text transform="matrix(0.10211 0 0 0.10211 255.09 635)" font-size="200" font-weight="normal" fill="#1a1aff"  stroke="#1a1aff" stroke-width="5.88" stroke-linejoin="round">10.4</text>
<path d="M386.8 784.70 L386.8 784.11 L387.3 784.06 L387.8 784.00 L388.3 783.94 L388.8 783.87 L389.3 783.80 L389.8 783.73 L390.3 783.65 L390.8 783.57 L391.3 783.49 L391.8 783.40 L392.3 783.30 L392.8 783.20 L393.3 783.10 L393.8 782.99 L394.3 782.88 L394.8 782.76 L395.3 782.64 L395.8 782.51 L396.3 782.38 L396.8 782.24 L397.3 782.09 L397.8 781.94 L398.3 781.79 L398.8 781.62 L399.3 781.45 L399.8 781.27 L400.3 781.08 L400.8 780.88 L401.3 780.67 L401.8 780.45 L402.3 780.20 L402.8 779.94 L403.3 779.66 L403.8 779.35 L404.3 779.02 L404.8 778.65 L405.3 778.24 L405.8 777.79 L406.3 777.29 L406.8 776.73 L407.3 776.11 L407.8 775.41 L408.3 774.62 L408.8 773.75 L409.3 772.77 L409.8 771.67 L410.3 770.45 L410.8 769.09 L411.3 767.57 L411.8 765.89 L412.3 764.02 L412.8 761.97 L413.3 759.70 L413.8 757.22 L414.3 754.51 L414.8 751.55 L415.3 748.35 L415.8 744.88 L416.3 741.15 L416.8 737.15 L417.3 732.88 L417.8 728.34 L418.3 723.53 L418.8 718.46 L419.3 713.15 L419.8 707.61 L420.3 701.85 L420.8 695.90 L421.3 689.79 L421.8 683.54 L422.3 677.19 L422.8 670.77 L423.3 664.33 L423.8 657.91 L424.3 651.55 L424.8 645.30 L425.3 639.21 L425.8 633.33 L426.3 627.71 L426.8 622.39 L427.3 617.43 L427.8 612.86 L428.3 608.74 L428.8 605.10 L429.3 601.97 L429.8 599.40 L430.3 597.39 L430.8 595.98 L431.3 595.18 L431.8 595.00 L432.3 595.71 L432.8 597.55 L433.3 600.48 L433.8 604.45 L434.3 609.40 L434.8 615.23 L435.3 621.85 L435.8 629.16 L436.3 637.03 L436.8 645.34 L437.3 653.98 L437.8 662.83 L438.3 671.75 L438.8 680.66 L439.3 689.44 L439.8 698.00 L440.3 706.27 L440.8 714.18 L441.3 721.67 L441.8 728.70 L442.3 735.25 L442.8 741.30 L443.3 746.84 L443.8 751.86 L444.3 756.40 L444.8 760.45 L445.3 764.04 L445.8 767.21 L446.3 769.98 L446.8 772.39 L447.3 774.46 L447.8 776.24 L448.3 777.75 L448.8 779.02 L449.3 780.09 L449.8 780.98 L450.3 781.71 L450.8 782.32 L451.3 782.81 L451.8 783.21 L452.3 783.53 L452.8 783.79 L453.3 783.99 L453.3 784.70" fill="#8e8e8e" stroke="#1a1a1a" stroke-width="1.2" stroke-linejoin="round"/>
<line x1="325.8" y1="570.7" x2="540.8" y2="570.7" stroke="#9a9a9a" stroke-width="1.1"/>
<line x1="325.8" y1="570.7" x2="325.8" y2="784.7" stroke="#6e6e6e" stroke-width="1.1"/>
<line x1="540.8" y1="570.7" x2="540.8" y2="784.7" stroke="#4a4a4a" stroke-width="1.1"/>
<line x1="325.3" y1="784.7" x2="541.3" y2="784.7" stroke="#4a4a4a" stroke-width="1.1"/>
<line x1="325.8" y1="726.8" x2="440.41" y2="726.8" stroke="#111" stroke-width="1.1"/>
<line x1="440.41" y1="723" x2="440.41" y2="730.6" stroke="#111" stroke-width="1.1"/>
<line x1="440.41" y1="738.5" x2="540.8" y2="738.5" stroke="#111" stroke-width="1.1"/>
<line x1="440.41" y1="734.7" x2="440.41" y2="742.3" stroke="#111" stroke-width="1.1"/>
<line x1="326" y1="784.7" x2="326" y2="790.7" stroke="#333" stroke-width="1"/>
<line x1="339.67" y1="784.7" x2="339.67" y2="787.7" stroke="#333" stroke-width="0.8"/>
<line x1="347.66" y1="784.7" x2="347.66" y2="787.7" stroke="#333" stroke-width="0.8"/>
<line x1="353.33" y1="784.7" x2="353.33" y2="787.7" stroke="#333" stroke-width="0.8"/>
<line x1="357.73" y1="784.7" x2="357.73" y2="787.7" stroke="#333" stroke-width="0.8"/>
<line x1="361.33" y1="784.7" x2="361.33" y2="787.7" stroke="#333" stroke-width="0.8"/>
<line x1="364.37" y1="784.7" x2="364.37" y2="787.7" stroke="#333" stroke-width="0.8"/>
<line x1="367" y1="784.7" x2="367" y2="787.7" stroke="#333" stroke-width="0.8"/>
<line x1="369.32" y1="784.7" x2="369.32" y2="787.7" stroke="#333" stroke-width="0.8"/>
<line x1="371.4" y1="784.7" x2="371.4" y2="790.7" stroke="#333" stroke-width="1"/>
<line x1="385.07" y1="784.7" x2="385.07" y2="787.7" stroke="#333" stroke-width="0.8"/>
<line x1="393.06" y1="784.7" x2="393.06" y2="787.7" stroke="#333" stroke-width="0.8"/>
<line x1="398.73" y1="784.7" x2="398.73" y2="787.7" stroke="#333" stroke-width="0.8"/>
<line x1="403.13" y1="784.7" x2="403.13" y2="787.7" stroke="#333" stroke-width="0.8"/>
<line x1="406.73" y1="784.7" x2="406.73" y2="787.7" stroke="#333" stroke-width="0.8"/>
<line x1="409.77" y1="784.7" x2="409.77" y2="787.7" stroke="#333" stroke-width="0.8"/>
<line x1="412.4" y1="784.7" x2="412.4" y2="787.7" stroke="#333" stroke-width="0.8"/>
<line x1="414.72" y1="784.7" x2="414.72" y2="787.7" stroke="#333" stroke-width="0.8"/>
<line x1="416.8" y1="784.7" x2="416.8" y2="790.7" stroke="#333" stroke-width="1"/>
<line x1="430.47" y1="784.7" x2="430.47" y2="787.7" stroke="#333" stroke-width="0.8"/>
<line x1="438.46" y1="784.7" x2="438.46" y2="787.7" stroke="#333" stroke-width="0.8"/>
<line x1="444.13" y1="784.7" x2="444.13" y2="787.7" stroke="#333" stroke-width="0.8"/>
<line x1="448.53" y1="784.7" x2="448.53" y2="787.7" stroke="#333" stroke-width="0.8"/>
<line x1="452.13" y1="784.7" x2="452.13" y2="787.7" stroke="#333" stroke-width="0.8"/>
<line x1="455.17" y1="784.7" x2="455.17" y2="787.7" stroke="#333" stroke-width="0.8"/>
<line x1="457.8" y1="784.7" x2="457.8" y2="787.7" stroke="#333" stroke-width="0.8"/>
<line x1="460.12" y1="784.7" x2="460.12" y2="787.7" stroke="#333" stroke-width="0.8"/>
<line x1="462.2" y1="784.7" x2="462.2" y2="790.7" stroke="#333" stroke-width="1"/>
<line x1="475.87" y1="784.7" x2="475.87" y2="787.7" stroke="#333" stroke-width="0.8"/>
<line x1="483.86" y1="784.7" x2="483.86" y2="787.7" stroke="#333" stroke-width="0.8"/>
<line x1="489.53" y1="784.7" x2="489.53" y2="787.7" stroke="#333" stroke-width="0.8"/>
<line x1="493.93" y1="784.7" x2="493.93" y2="787.7" stroke="#333" stroke-width="0.8"/>
<line x1="497.53" y1="784.7" x2="497.53" y2="787.7" stroke="#333" stroke-width="0.8"/>
<line x1="500.57" y1="784.7" x2="500.57" y2="787.7" stroke="#333" stroke-width="0.8"/>
<line x1="503.2" y1="784.7" x2="503.2" y2="787.7" stroke="#333" stroke-width="0.8"/>
<line x1="505.52" y1="784.7" x2="505.52" y2="787.7" stroke="#333" stroke-width="0.8"/>
<line x1="507.6" y1="784.7" x2="507.6" y2="790.7" stroke="#333" stroke-width="1"/>
<line x1="521.27" y1="784.7" x2="521.27" y2="787.7" stroke="#333" stroke-width="0.8"/>
<line x1="529.26" y1="784.7" x2="529.26" y2="787.7" stroke="#333" stroke-width="0.8"/>
<line x1="534.93" y1="784.7" x2="534.93" y2="787.7" stroke="#333" stroke-width="0.8"/>
<line x1="539.33" y1="784.7" x2="539.33" y2="787.7" stroke="#333" stroke-width="0.8"/>
<text transform="matrix(0.05775 0 0 0.05775 329.61 810.18)" font-size="200" font-weight="bold" fill="#2a2a2a" >10</text>
<text transform="matrix(0.05362 0 0 0.05362 342.72 800.8)" font-size="200" font-weight="bold" fill="#2a2a2a" >1</text>
<text transform="matrix(0.05775 0 0 0.05775 369.21 810.18)" font-size="200" font-weight="bold" fill="#2a2a2a" >10</text>
<text transform="matrix(0.05286 0 0 0.05286 382.59 800.8)" font-size="200" font-weight="bold" fill="#2a2a2a" >2</text>
<text transform="matrix(0.05775 0 0 0.05775 414.61 810.18)" font-size="200" font-weight="bold" fill="#2a2a2a" >10</text>
<text transform="matrix(0.05211 0 0 0.05211 428.1 800.7)" font-size="200" font-weight="bold" fill="#2a2a2a" >3</text>
<text transform="matrix(0.05775 0 0 0.05775 460.01 810.18)" font-size="200" font-weight="bold" fill="#2a2a2a" >10</text>
<text transform="matrix(0.05362 0 0 0.05362 473.6 800.8)" font-size="200" font-weight="bold" fill="#2a2a2a" >4</text>
<text transform="matrix(0.05775 0 0 0.05775 505.41 810.18)" font-size="200" font-weight="bold" fill="#2a2a2a" >10</text>
<text transform="matrix(0.05286 0 0 0.05286 518.85 800.69)" font-size="200" font-weight="bold" fill="#2a2a2a" >5</text>
<text transform="matrix(0.10107 0 0 0.10107 328.79 604.66)" font-size="200" font-weight="normal" fill="#1a1aff"  stroke="#1a1aff" stroke-width="5.94" stroke-linejoin="round">(-)</text>
<text transform="matrix(0.10211 0 0 0.10211 329.08 635)" font-size="200" font-weight="normal" fill="#1a1aff"  stroke="#1a1aff" stroke-width="5.88" stroke-linejoin="round">92.0</text>
<text transform="matrix(0.10107 0 0 0.10107 493.05 604.66)" font-size="200" font-weight="normal" fill="#1a1aff"  stroke="#1a1aff" stroke-width="5.94" stroke-linejoin="round">(+)</text>
<text transform="matrix(0.10211 0 0 0.10211 478.1 635)" font-size="200" font-weight="normal" fill="#1a1aff"  stroke="#1a1aff" stroke-width="5.88" stroke-linejoin="round">7.98</text>
<path d="M608.3 784.70 L608.3 784.08 L608.8 784.03 L609.3 783.97 L609.8 783.90 L610.3 783.84 L610.8 783.76 L611.3 783.69 L611.8 783.61 L612.3 783.52 L612.8 783.43 L613.3 783.34 L613.8 783.24 L614.3 783.13 L614.8 783.02 L615.3 782.91 L615.8 782.79 L616.3 782.66 L616.8 782.54 L617.3 782.40 L617.8 782.26 L618.3 782.11 L618.8 781.96 L619.3 781.80 L619.8 781.64 L620.3 781.47 L620.8 781.29 L621.3 781.10 L621.8 780.90 L622.3 780.69 L622.8 780.47 L623.3 780.23 L623.8 779.98 L624.3 779.70 L624.8 779.41 L625.3 779.09 L625.8 778.74 L626.3 778.36 L626.8 777.93 L627.3 777.46 L627.8 776.94 L628.3 776.36 L628.8 775.71 L629.3 774.98 L629.8 774.17 L630.3 773.26 L630.8 772.24 L631.3 771.10 L631.8 769.83 L632.3 768.41 L632.8 766.83 L633.3 765.08 L633.8 763.14 L634.3 760.99 L634.8 758.63 L635.3 756.04 L635.8 753.21 L636.3 750.12 L636.8 746.77 L637.3 743.15 L637.8 739.24 L638.3 735.05 L638.8 730.57 L639.3 725.80 L639.8 720.75 L640.3 715.43 L640.8 709.84 L641.3 704.00 L641.8 697.93 L642.3 691.65 L642.8 685.20 L643.3 678.59 L643.8 671.87 L644.3 665.07 L644.8 658.24 L645.3 651.42 L645.8 644.65 L646.3 638.00 L646.8 631.50 L647.3 625.22 L647.8 619.20 L648.3 613.49 L648.8 608.15 L649.3 603.23 L649.8 598.76 L650.3 594.80 L650.8 591.38 L651.3 588.54 L651.8 586.30 L652.3 584.68 L652.8 583.71 L653.3 583.40 L653.8 583.94 L654.3 585.68 L654.8 588.58 L655.3 592.59 L655.8 597.65 L656.3 603.68 L656.8 610.56 L657.3 618.18 L657.8 626.43 L658.3 635.18 L658.8 644.29 L659.3 653.64 L659.8 663.11 L660.3 672.57 L660.8 681.92 L661.3 691.05 L661.8 699.89 L662.3 708.36 L662.8 716.39 L663.3 723.95 L663.8 730.99 L664.3 737.51 L664.8 743.48 L665.3 748.92 L665.8 753.82 L666.3 758.21 L666.8 762.12 L667.3 765.56 L667.8 768.58 L668.3 771.20 L668.8 773.46 L669.3 775.40 L669.8 777.05 L670.3 778.44 L670.8 779.62 L671.3 780.59 L671.8 781.40 L672.3 782.06 L672.8 782.61 L673.3 783.05 L673.8 783.40 L674.3 783.69 L674.8 783.91 L675.3 784.09 L675.3 784.70" fill="#8e8e8e" stroke="#1a1a1a" stroke-width="1.2" stroke-linejoin="round"/>
<line x1="548.3" y1="570.7" x2="763.3" y2="570.7" stroke="#9a9a9a" stroke-width="1.1"/>
<line x1="548.3" y1="570.7" x2="548.3" y2="784.7" stroke="#6e6e6e" stroke-width="1.1"/>
<line x1="763.3" y1="570.7" x2="763.3" y2="784.7" stroke="#4a4a4a" stroke-width="1.1"/>
<line x1="547.8" y1="784.7" x2="763.8" y2="784.7" stroke="#4a4a4a" stroke-width="1.1"/>
<line x1="548.3" y1="726.8" x2="662.45" y2="726.8" stroke="#111" stroke-width="1.1"/>
<line x1="662.45" y1="723" x2="662.45" y2="730.6" stroke="#111" stroke-width="1.1"/>
<line x1="662.45" y1="738.5" x2="763.3" y2="738.5" stroke="#111" stroke-width="1.1"/>
<line x1="662.45" y1="734.7" x2="662.45" y2="742.3" stroke="#111" stroke-width="1.1"/>
<line x1="548.5" y1="784.7" x2="548.5" y2="790.7" stroke="#333" stroke-width="1"/>
<line x1="562.17" y1="784.7" x2="562.17" y2="787.7" stroke="#333" stroke-width="0.8"/>
<line x1="570.16" y1="784.7" x2="570.16" y2="787.7" stroke="#333" stroke-width="0.8"/>
<line x1="575.83" y1="784.7" x2="575.83" y2="787.7" stroke="#333" stroke-width="0.8"/>
<line x1="580.23" y1="784.7" x2="580.23" y2="787.7" stroke="#333" stroke-width="0.8"/>
<line x1="583.83" y1="784.7" x2="583.83" y2="787.7" stroke="#333" stroke-width="0.8"/>
<line x1="586.87" y1="784.7" x2="586.87" y2="787.7" stroke="#333" stroke-width="0.8"/>
<line x1="589.5" y1="784.7" x2="589.5" y2="787.7" stroke="#333" stroke-width="0.8"/>
<line x1="591.82" y1="784.7" x2="591.82" y2="787.7" stroke="#333" stroke-width="0.8"/>
<line x1="593.9" y1="784.7" x2="593.9" y2="790.7" stroke="#333" stroke-width="1"/>
<line x1="607.57" y1="784.7" x2="607.57" y2="787.7" stroke="#333" stroke-width="0.8"/>
<line x1="615.56" y1="784.7" x2="615.56" y2="787.7" stroke="#333" stroke-width="0.8"/>
<line x1="621.23" y1="784.7" x2="621.23" y2="787.7" stroke="#333" stroke-width="0.8"/>
<line x1="625.63" y1="784.7" x2="625.63" y2="787.7" stroke="#333" stroke-width="0.8"/>
<line x1="629.23" y1="784.7" x2="629.23" y2="787.7" stroke="#333" stroke-width="0.8"/>
<line x1="632.27" y1="784.7" x2="632.27" y2="787.7" stroke="#333" stroke-width="0.8"/>
<line x1="634.9" y1="784.7" x2="634.9" y2="787.7" stroke="#333" stroke-width="0.8"/>
<line x1="637.22" y1="784.7" x2="637.22" y2="787.7" stroke="#333" stroke-width="0.8"/>
<line x1="639.3" y1="784.7" x2="639.3" y2="790.7" stroke="#333" stroke-width="1"/>
<line x1="652.97" y1="784.7" x2="652.97" y2="787.7" stroke="#333" stroke-width="0.8"/>
<line x1="660.96" y1="784.7" x2="660.96" y2="787.7" stroke="#333" stroke-width="0.8"/>
<line x1="666.63" y1="784.7" x2="666.63" y2="787.7" stroke="#333" stroke-width="0.8"/>
<line x1="671.03" y1="784.7" x2="671.03" y2="787.7" stroke="#333" stroke-width="0.8"/>
<line x1="674.63" y1="784.7" x2="674.63" y2="787.7" stroke="#333" stroke-width="0.8"/>
<line x1="677.67" y1="784.7" x2="677.67" y2="787.7" stroke="#333" stroke-width="0.8"/>
<line x1="680.3" y1="784.7" x2="680.3" y2="787.7" stroke="#333" stroke-width="0.8"/>
<line x1="682.62" y1="784.7" x2="682.62" y2="787.7" stroke="#333" stroke-width="0.8"/>
<line x1="684.7" y1="784.7" x2="684.7" y2="790.7" stroke="#333" stroke-width="1"/>
<line x1="698.37" y1="784.7" x2="698.37" y2="787.7" stroke="#333" stroke-width="0.8"/>
<line x1="706.36" y1="784.7" x2="706.36" y2="787.7" stroke="#333" stroke-width="0.8"/>
<line x1="712.03" y1="784.7" x2="712.03" y2="787.7" stroke="#333" stroke-width="0.8"/>
<line x1="716.43" y1="784.7" x2="716.43" y2="787.7" stroke="#333" stroke-width="0.8"/>
<line x1="720.03" y1="784.7" x2="720.03" y2="787.7" stroke="#333" stroke-width="0.8"/>
<line x1="723.07" y1="784.7" x2="723.07" y2="787.7" stroke="#333" stroke-width="0.8"/>
<line x1="725.7" y1="784.7" x2="725.7" y2="787.7" stroke="#333" stroke-width="0.8"/>
<line x1="728.02" y1="784.7" x2="728.02" y2="787.7" stroke="#333" stroke-width="0.8"/>
<line x1="730.1" y1="784.7" x2="730.1" y2="790.7" stroke="#333" stroke-width="1"/>
<line x1="743.77" y1="784.7" x2="743.77" y2="787.7" stroke="#333" stroke-width="0.8"/>
<line x1="751.76" y1="784.7" x2="751.76" y2="787.7" stroke="#333" stroke-width="0.8"/>
<line x1="757.43" y1="784.7" x2="757.43" y2="787.7" stroke="#333" stroke-width="0.8"/>
<line x1="761.83" y1="784.7" x2="761.83" y2="787.7" stroke="#333" stroke-width="0.8"/>
<text transform="matrix(0.05775 0 0 0.05775 552.11 810.18)" font-size="200" font-weight="bold" fill="#2a2a2a" >10</text>
<text transform="matrix(0.05362 0 0 0.05362 565.22 800.8)" font-size="200" font-weight="bold" fill="#2a2a2a" >1</text>
<text transform="matrix(0.05775 0 0 0.05775 591.71 810.18)" font-size="200" font-weight="bold" fill="#2a2a2a" >10</text>
<text transform="matrix(0.05286 0 0 0.05286 605.09 800.8)" font-size="200" font-weight="bold" fill="#2a2a2a" >2</text>
<text transform="matrix(0.05775 0 0 0.05775 637.11 810.18)" font-size="200" font-weight="bold" fill="#2a2a2a" >10</text>
<text transform="matrix(0.05211 0 0 0.05211 650.6 800.7)" font-size="200" font-weight="bold" fill="#2a2a2a" >3</text>
<text transform="matrix(0.05775 0 0 0.05775 682.51 810.18)" font-size="200" font-weight="bold" fill="#2a2a2a" >10</text>
<text transform="matrix(0.05362 0 0 0.05362 696.1 800.8)" font-size="200" font-weight="bold" fill="#2a2a2a" >4</text>
<text transform="matrix(0.05775 0 0 0.05775 727.91 810.18)" font-size="200" font-weight="bold" fill="#2a2a2a" >10</text>
<text transform="matrix(0.05286 0 0 0.05286 741.35 800.69)" font-size="200" font-weight="bold" fill="#2a2a2a" >5</text>
<text transform="matrix(0.10107 0 0 0.10107 551.29 604.66)" font-size="200" font-weight="normal" fill="#1a1aff"  stroke="#1a1aff" stroke-width="5.94" stroke-linejoin="round">(-)</text>
<text transform="matrix(0.10211 0 0 0.10211 551.58 635)" font-size="200" font-weight="normal" fill="#1a1aff"  stroke="#1a1aff" stroke-width="5.88" stroke-linejoin="round">88.3</text>
<text transform="matrix(0.10107 0 0 0.10107 715.55 604.66)" font-size="200" font-weight="normal" fill="#1a1aff"  stroke="#1a1aff" stroke-width="5.94" stroke-linejoin="round">(+)</text>
<text transform="matrix(0.10507 0 0 0.10507 701.25 635.2)" font-size="200" font-weight="normal" fill="#1a1aff"  stroke="#1a1aff" stroke-width="5.71" stroke-linejoin="round">11.7</text>
<path d="M833.8 784.70 L833.8 784.07 L834.3 784.02 L834.8 783.96 L835.3 783.90 L835.8 783.83 L836.3 783.76 L836.8 783.68 L837.3 783.60 L837.8 783.51 L838.3 783.42 L838.8 783.33 L839.3 783.23 L839.8 783.13 L840.3 783.02 L840.8 782.91 L841.3 782.79 L841.8 782.67 L842.3 782.54 L842.8 782.41 L843.3 782.27 L843.8 782.12 L844.3 781.97 L844.8 781.82 L845.3 781.65 L845.8 781.48 L846.3 781.30 L846.8 781.12 L847.3 780.92 L847.8 780.71 L848.3 780.49 L848.8 780.25 L849.3 780.00 L849.8 779.72 L850.3 779.43 L850.8 779.10 L851.3 778.75 L851.8 778.35 L852.3 777.92 L852.8 777.44 L853.3 776.90 L853.8 776.31 L854.3 775.64 L854.8 774.89 L855.3 774.06 L855.8 773.12 L856.3 772.08 L856.8 770.91 L857.3 769.60 L857.8 768.15 L858.3 766.54 L858.8 764.74 L859.3 762.76 L859.8 760.58 L860.3 758.18 L860.8 755.55 L861.3 752.68 L861.8 749.56 L862.3 746.18 L862.8 742.53 L863.3 738.61 L863.8 734.41 L864.3 729.93 L864.8 725.17 L865.3 720.15 L865.8 714.87 L866.3 709.34 L866.8 703.57 L867.3 697.60 L867.8 691.44 L868.3 685.12 L868.8 678.68 L869.3 672.14 L869.8 665.56 L870.3 658.96 L870.8 652.40 L871.3 645.92 L871.8 639.57 L872.3 633.41 L872.8 627.48 L873.3 621.82 L873.8 616.50 L874.3 611.56 L874.8 607.05 L875.3 603.00 L875.8 599.46 L876.3 596.46 L876.8 594.03 L877.3 592.20 L877.8 590.99 L878.3 590.40 L878.8 590.49 L879.3 591.65 L879.8 593.95 L880.3 597.35 L880.8 601.79 L881.3 607.21 L881.8 613.49 L882.3 620.55 L882.8 628.26 L883.3 636.50 L883.8 645.16 L884.3 654.10 L884.8 663.20 L885.3 672.35 L885.8 681.44 L886.3 690.36 L886.8 699.03 L887.3 707.38 L887.8 715.33 L888.3 722.83 L888.8 729.86 L889.3 736.38 L889.8 742.39 L890.3 747.86 L890.8 752.83 L891.3 757.29 L891.8 761.26 L892.3 764.78 L892.8 767.88 L893.3 770.57 L893.8 772.91 L894.3 774.92 L894.8 776.63 L895.3 778.09 L895.8 779.31 L896.3 780.33 L896.8 781.18 L897.3 781.88 L897.8 782.46 L898.3 782.93 L898.8 783.30 L899.3 783.61 L899.8 783.85 L900.3 784.04 L900.3 784.70" fill="#8e8e8e" stroke="#1a1a1a" stroke-width="1.2" stroke-linejoin="round"/>
<line x1="770.8" y1="570.7" x2="985.8" y2="570.7" stroke="#9a9a9a" stroke-width="1.1"/>
<line x1="770.8" y1="570.7" x2="770.8" y2="784.7" stroke="#6e6e6e" stroke-width="1.1"/>
<line x1="985.8" y1="570.7" x2="985.8" y2="784.7" stroke="#4a4a4a" stroke-width="1.1"/>
<line x1="770.3" y1="784.7" x2="986.3" y2="784.7" stroke="#4a4a4a" stroke-width="1.1"/>
<line x1="770.8" y1="726.8" x2="884.5" y2="726.8" stroke="#111" stroke-width="1.1"/>
<line x1="884.5" y1="723" x2="884.5" y2="730.6" stroke="#111" stroke-width="1.1"/>
<line x1="884.5" y1="738.5" x2="985.8" y2="738.5" stroke="#111" stroke-width="1.1"/>
<line x1="884.5" y1="734.7" x2="884.5" y2="742.3" stroke="#111" stroke-width="1.1"/>
<line x1="771" y1="784.7" x2="771" y2="790.7" stroke="#333" stroke-width="1"/>
<line x1="784.67" y1="784.7" x2="784.67" y2="787.7" stroke="#333" stroke-width="0.8"/>
<line x1="792.66" y1="784.7" x2="792.66" y2="787.7" stroke="#333" stroke-width="0.8"/>
<line x1="798.33" y1="784.7" x2="798.33" y2="787.7" stroke="#333" stroke-width="0.8"/>
<line x1="802.73" y1="784.7" x2="802.73" y2="787.7" stroke="#333" stroke-width="0.8"/>
<line x1="806.33" y1="784.7" x2="806.33" y2="787.7" stroke="#333" stroke-width="0.8"/>
<line x1="809.37" y1="784.7" x2="809.37" y2="787.7" stroke="#333" stroke-width="0.8"/>
<line x1="812" y1="784.7" x2="812" y2="787.7" stroke="#333" stroke-width="0.8"/>
<line x1="814.32" y1="784.7" x2="814.32" y2="787.7" stroke="#333" stroke-width="0.8"/>
<line x1="816.4" y1="784.7" x2="816.4" y2="790.7" stroke="#333" stroke-width="1"/>
<line x1="830.07" y1="784.7" x2="830.07" y2="787.7" stroke="#333" stroke-width="0.8"/>
<line x1="838.06" y1="784.7" x2="838.06" y2="787.7" stroke="#333" stroke-width="0.8"/>
<line x1="843.73" y1="784.7" x2="843.73" y2="787.7" stroke="#333" stroke-width="0.8"/>
<line x1="848.13" y1="784.7" x2="848.13" y2="787.7" stroke="#333" stroke-width="0.8"/>
<line x1="851.73" y1="784.7" x2="851.73" y2="787.7" stroke="#333" stroke-width="0.8"/>
<line x1="854.77" y1="784.7" x2="854.77" y2="787.7" stroke="#333" stroke-width="0.8"/>
<line x1="857.4" y1="784.7" x2="857.4" y2="787.7" stroke="#333" stroke-width="0.8"/>
<line x1="859.72" y1="784.7" x2="859.72" y2="787.7" stroke="#333" stroke-width="0.8"/>
<line x1="861.8" y1="784.7" x2="861.8" y2="790.7" stroke="#333" stroke-width="1"/>
<line x1="875.47" y1="784.7" x2="875.47" y2="787.7" stroke="#333" stroke-width="0.8"/>
<line x1="883.46" y1="784.7" x2="883.46" y2="787.7" stroke="#333" stroke-width="0.8"/>
<line x1="889.13" y1="784.7" x2="889.13" y2="787.7" stroke="#333" stroke-width="0.8"/>
<line x1="893.53" y1="784.7" x2="893.53" y2="787.7" stroke="#333" stroke-width="0.8"/>
<line x1="897.13" y1="784.7" x2="897.13" y2="787.7" stroke="#333" stroke-width="0.8"/>
<line x1="900.17" y1="784.7" x2="900.17" y2="787.7" stroke="#333" stroke-width="0.8"/>
<line x1="902.8" y1="784.7" x2="902.8" y2="787.7" stroke="#333" stroke-width="0.8"/>
<line x1="905.12" y1="784.7" x2="905.12" y2="787.7" stroke="#333" stroke-width="0.8"/>
<line x1="907.2" y1="784.7" x2="907.2" y2="790.7" stroke="#333" stroke-width="1"/>
<line x1="920.87" y1="784.7" x2="920.87" y2="787.7" stroke="#333" stroke-width="0.8"/>
<line x1="928.86" y1="784.7" x2="928.86" y2="787.7" stroke="#333" stroke-width="0.8"/>
<line x1="934.53" y1="784.7" x2="934.53" y2="787.7" stroke="#333" stroke-width="0.8"/>
<line x1="938.93" y1="784.7" x2="938.93" y2="787.7" stroke="#333" stroke-width="0.8"/>
<line x1="942.53" y1="784.7" x2="942.53" y2="787.7" stroke="#333" stroke-width="0.8"/>
<line x1="945.57" y1="784.7" x2="945.57" y2="787.7" stroke="#333" stroke-width="0.8"/>
<line x1="948.2" y1="784.7" x2="948.2" y2="787.7" stroke="#333" stroke-width="0.8"/>
<line x1="950.52" y1="784.7" x2="950.52" y2="787.7" stroke="#333" stroke-width="0.8"/>
<line x1="952.6" y1="784.7" x2="952.6" y2="790.7" stroke="#333" stroke-width="1"/>
<line x1="966.27" y1="784.7" x2="966.27" y2="787.7" stroke="#333" stroke-width="0.8"/>
<line x1="974.26" y1="784.7" x2="974.26" y2="787.7" stroke="#333" stroke-width="0.8"/>
<line x1="979.93" y1="784.7" x2="979.93" y2="787.7" stroke="#333" stroke-width="0.8"/>
<line x1="984.33" y1="784.7" x2="984.33" y2="787.7" stroke="#333" stroke-width="0.8"/>
<text transform="matrix(0.05775 0 0 0.05775 774.61 810.18)" font-size="200" font-weight="bold" fill="#2a2a2a" >10</text>
<text transform="matrix(0.05362 0 0 0.05362 787.72 800.8)" font-size="200" font-weight="bold" fill="#2a2a2a" >1</text>
<text transform="matrix(0.05775 0 0 0.05775 814.21 810.18)" font-size="200" font-weight="bold" fill="#2a2a2a" >10</text>
<text transform="matrix(0.05286 0 0 0.05286 827.59 800.8)" font-size="200" font-weight="bold" fill="#2a2a2a" >2</text>
<text transform="matrix(0.05775 0 0 0.05775 859.61 810.18)" font-size="200" font-weight="bold" fill="#2a2a2a" >10</text>
<text transform="matrix(0.05211 0 0 0.05211 873.1 800.7)" font-size="200" font-weight="bold" fill="#2a2a2a" >3</text>
<text transform="matrix(0.05775 0 0 0.05775 905.01 810.18)" font-size="200" font-weight="bold" fill="#2a2a2a" >10</text>
<text transform="matrix(0.05362 0 0 0.05362 918.6 800.8)" font-size="200" font-weight="bold" fill="#2a2a2a" >4</text>
<text transform="matrix(0.05775 0 0 0.05775 950.41 810.18)" font-size="200" font-weight="bold" fill="#2a2a2a" >10</text>
<text transform="matrix(0.05286 0 0 0.05286 963.85 800.69)" font-size="200" font-weight="bold" fill="#2a2a2a" >5</text>
<text transform="matrix(0.10107 0 0 0.10107 773.79 604.66)" font-size="200" font-weight="normal" fill="#1a1aff"  stroke="#1a1aff" stroke-width="5.94" stroke-linejoin="round">(-)</text>
<text transform="matrix(0.10211 0 0 0.10211 773.98 635)" font-size="200" font-weight="normal" fill="#1a1aff"  stroke="#1a1aff" stroke-width="5.88" stroke-linejoin="round">78.8</text>
<text transform="matrix(0.10107 0 0 0.10107 938.05 604.66)" font-size="200" font-weight="normal" fill="#1a1aff"  stroke="#1a1aff" stroke-width="5.94" stroke-linejoin="round">(+)</text>
<text transform="matrix(0.10357 0 0 0.10357 922.75 635.2)" font-size="200" font-weight="normal" fill="#1a1aff"  stroke="#1a1aff" stroke-width="5.79" stroke-linejoin="round">21.2</text>
<path d="M110.0 1101.20 L110.0 1100.80 L110.5 1100.74 L111.0 1100.67 L111.5 1100.60 L112.0 1100.53 L112.5 1100.44 L113.0 1100.35 L113.5 1100.26 L114.0 1100.15 L114.5 1100.04 L115.0 1099.92 L115.5 1099.79 L116.0 1099.65 L116.5 1099.50 L117.0 1099.35 L117.5 1099.18 L118.0 1099.01 L118.5 1098.82 L119.0 1098.61 L119.5 1098.38 L120.0 1098.13 L120.5 1097.85 L121.0 1097.53 L121.5 1097.16 L122.0 1096.73 L122.5 1096.23 L123.0 1095.63 L123.5 1094.92 L124.0 1094.08 L124.5 1093.07 L125.0 1091.88 L125.5 1090.47 L126.0 1088.80 L126.5 1086.84 L127.0 1084.57 L127.5 1081.94 L128.0 1078.94 L128.5 1075.52 L129.0 1071.68 L129.5 1067.40 L130.0 1062.68 L130.5 1057.53 L131.0 1051.97 L131.5 1046.04 L132.0 1039.79 L132.5 1033.28 L133.0 1026.60 L133.5 1019.84 L134.0 1013.11 L134.5 1006.52 L135.0 1000.19 L135.5 994.25 L136.0 988.82 L136.5 984.01 L137.0 979.94 L137.5 976.69 L138.0 974.35 L138.5 972.98 L139.0 972.60 L139.5 973.66 L140.0 976.53 L140.5 981.07 L141.0 987.12 L141.5 994.41 L142.0 1002.68 L142.5 1011.61 L143.0 1020.91 L143.5 1030.27 L144.0 1039.45 L144.5 1048.21 L145.0 1056.39 L145.5 1063.85 L146.0 1070.51 L146.5 1076.35 L147.0 1081.37 L147.5 1085.60 L148.0 1089.10 L148.5 1091.95 L149.0 1094.23 L149.5 1096.03 L150.0 1097.41 L150.5 1098.47 L151.0 1099.25 L151.5 1099.83 L152.0 1100.25 L152.5 1100.55 L153.0 1100.77 L153.0 1101.20" fill="#8e8e8e" stroke="#1a1a1a" stroke-width="0.9" stroke-linejoin="round"/>
<line x1="67" y1="962.5" x2="206.8" y2="962.5" stroke="#9a9a9a" stroke-width="1.2"/>
<line x1="67" y1="962.5" x2="67" y2="1101.2" stroke="#6e6e6e" stroke-width="1.2"/>
<line x1="206.8" y1="962.5" x2="206.8" y2="1101.2" stroke="#4a4a4a" stroke-width="1.2"/>
<line x1="66.5" y1="1101.2" x2="207.3" y2="1101.2" stroke="#4a4a4a" stroke-width="1.2"/>
<line x1="67" y1="1063.6" x2="143.68" y2="1063.6" stroke="#111" stroke-width="0.9"/>
<line x1="143.68" y1="1060.6" x2="143.68" y2="1066.6" stroke="#111" stroke-width="0.9"/>
<line x1="143.68" y1="1071" x2="206.8" y2="1071" stroke="#111" stroke-width="0.9"/>
<line x1="143.68" y1="1068" x2="143.68" y2="1074" stroke="#111" stroke-width="0.9"/>
<line x1="62.5" y1="1101.2" x2="67" y2="1101.2" stroke="#333" stroke-width="1"/>
<text transform="matrix(0.03521 0 0 0.03521 55.84 1104.23)" font-size="200" font-weight="normal" fill="#333"  stroke="#333" stroke-width="12.78" stroke-linejoin="round">0</text>
<line x1="64.8" y1="1095.54" x2="67" y2="1095.54" stroke="#333" stroke-width="1"/>
<line x1="64.8" y1="1089.88" x2="67" y2="1089.88" stroke="#333" stroke-width="1"/>
<line x1="64.8" y1="1084.22" x2="67" y2="1084.22" stroke="#333" stroke-width="1"/>
<line x1="64.8" y1="1078.56" x2="67" y2="1078.56" stroke="#333" stroke-width="1"/>
<line x1="62.5" y1="1072.9" x2="67" y2="1072.9" stroke="#333" stroke-width="1"/>
<text transform="matrix(0.03521 0 0 0.03521 48.02 1075.93)" font-size="200" font-weight="normal" fill="#333"  stroke="#333" stroke-width="12.78" stroke-linejoin="round">100</text>
<line x1="64.8" y1="1067.24" x2="67" y2="1067.24" stroke="#333" stroke-width="1"/>
<line x1="64.8" y1="1061.58" x2="67" y2="1061.58" stroke="#333" stroke-width="1"/>
<line x1="64.8" y1="1055.92" x2="67" y2="1055.92" stroke="#333" stroke-width="1"/>
<line x1="64.8" y1="1050.26" x2="67" y2="1050.26" stroke="#333" stroke-width="1"/>
<line x1="62.5" y1="1044.6" x2="67" y2="1044.6" stroke="#333" stroke-width="1"/>
<text transform="matrix(0.03521 0 0 0.03521 48.02 1047.63)" font-size="200" font-weight="normal" fill="#333"  stroke="#333" stroke-width="12.78" stroke-linejoin="round">200</text>
<line x1="64.8" y1="1038.94" x2="67" y2="1038.94" stroke="#333" stroke-width="1"/>
<line x1="64.8" y1="1033.28" x2="67" y2="1033.28" stroke="#333" stroke-width="1"/>
<line x1="64.8" y1="1027.62" x2="67" y2="1027.62" stroke="#333" stroke-width="1"/>
<line x1="64.8" y1="1021.96" x2="67" y2="1021.96" stroke="#333" stroke-width="1"/>
<line x1="62.5" y1="1016.3" x2="67" y2="1016.3" stroke="#333" stroke-width="1"/>
<text transform="matrix(0.03521 0 0 0.03521 48.02 1019.33)" font-size="200" font-weight="normal" fill="#333"  stroke="#333" stroke-width="12.78" stroke-linejoin="round">300</text>
<line x1="64.8" y1="1010.64" x2="67" y2="1010.64" stroke="#333" stroke-width="1"/>
<line x1="64.8" y1="1004.98" x2="67" y2="1004.98" stroke="#333" stroke-width="1"/>
<line x1="64.8" y1="999.32" x2="67" y2="999.32" stroke="#333" stroke-width="1"/>
<line x1="64.8" y1="993.66" x2="67" y2="993.66" stroke="#333" stroke-width="1"/>
<line x1="62.5" y1="988" x2="67" y2="988" stroke="#333" stroke-width="1"/>
<text transform="matrix(0.03521 0 0 0.03521 48.02 991.03)" font-size="200" font-weight="normal" fill="#333"  stroke="#333" stroke-width="12.78" stroke-linejoin="round">400</text>
<line x1="64.8" y1="982.34" x2="67" y2="982.34" stroke="#333" stroke-width="1"/>
<line x1="64.8" y1="976.68" x2="67" y2="976.68" stroke="#333" stroke-width="1"/>
<line x1="64.8" y1="971.02" x2="67" y2="971.02" stroke="#333" stroke-width="1"/>
<line x1="64.8" y1="965.36" x2="67" y2="965.36" stroke="#333" stroke-width="1"/>
<text transform="matrix(0.06578 0 0 0.06578 69.01 984.94)" font-size="200" font-weight="normal" fill="#1a1aff"  stroke="#1a1aff" stroke-width="6.39" stroke-linejoin="round">(-)</text>
<text transform="matrix(0.0669 0 0 0.0669 69.2 1004.57)" font-size="200" font-weight="normal" fill="#1a1aff"  stroke="#1a1aff" stroke-width="6.28" stroke-linejoin="round">89.8</text>
<text transform="matrix(0.06578 0 0 0.06578 176.01 984.94)" font-size="200" font-weight="normal" fill="#1a1aff"  stroke="#1a1aff" stroke-width="6.39" stroke-linejoin="round">(+)</text>
<text transform="matrix(0.0669 0 0 0.0669 166.24 1004.57)" font-size="200" font-weight="normal" fill="#1a1aff"  stroke="#1a1aff" stroke-width="6.28" stroke-linejoin="round">10.2</text>
<path d="M257.0 1101.20 L257.0 1100.76 L257.5 1100.70 L258.0 1100.64 L258.5 1100.56 L259.0 1100.48 L259.5 1100.39 L260.0 1100.30 L260.5 1100.20 L261.0 1100.09 L261.5 1099.97 L262.0 1099.85 L262.5 1099.71 L263.0 1099.57 L263.5 1099.42 L264.0 1099.26 L264.5 1099.09 L265.0 1098.90 L265.5 1098.70 L266.0 1098.49 L266.5 1098.25 L267.0 1097.98 L267.5 1097.68 L268.0 1097.33 L268.5 1096.93 L269.0 1096.46 L269.5 1095.91 L270.0 1095.25 L270.5 1094.47 L271.0 1093.54 L271.5 1092.43 L272.0 1091.12 L272.5 1089.57 L273.0 1087.75 L273.5 1085.62 L274.0 1083.16 L274.5 1080.32 L275.0 1077.09 L275.5 1073.44 L276.0 1069.35 L276.5 1064.83 L277.0 1059.86 L277.5 1054.48 L278.0 1048.71 L278.5 1042.59 L279.0 1036.19 L279.5 1029.57 L280.0 1022.84 L280.5 1016.08 L281.0 1009.40 L281.5 1002.94 L282.0 996.81 L282.5 991.13 L283.0 986.03 L283.5 981.61 L284.0 977.99 L284.5 975.24 L285.0 973.43 L285.5 972.60 L286.0 972.92 L286.5 974.99 L287.0 978.81 L287.5 984.21 L288.0 990.98 L288.5 998.85 L289.0 1007.53 L289.5 1016.70 L290.0 1026.07 L290.5 1035.37 L291.0 1044.34 L291.5 1052.80 L292.0 1060.58 L292.5 1067.60 L293.0 1073.80 L293.5 1079.17 L294.0 1083.74 L294.5 1087.54 L295.0 1090.64 L295.5 1093.13 L296.0 1095.09 L296.5 1096.60 L297.0 1097.74 L297.5 1098.56 L298.0 1099.15 L298.5 1099.54 L299.0 1099.78 L299.5 1099.91 L300.0 1099.95 L300.5 1099.93 L301.0 1099.86 L301.5 1099.76 L302.0 1099.64 L302.5 1099.52 L303.0 1099.39 L303.5 1099.27 L304.0 1099.15 L304.5 1099.06 L305.0 1098.98 L305.5 1098.93 L306.0 1098.91 L306.5 1098.91 L307.0 1098.94 L307.5 1098.99 L308.0 1099.07 L308.5 1099.17 L309.0 1099.29 L309.5 1099.43 L310.0 1099.57 L310.5 1099.72 L311.0 1099.87 L311.5 1100.03 L312.0 1100.17 L312.5 1100.31 L313.0 1100.44 L313.5 1100.56 L314.0 1100.66 L314.5 1100.76 L314.5 1101.20" fill="#8e8e8e" stroke="#1a1a1a" stroke-width="0.9" stroke-linejoin="round"/>
<line x1="210.5" y1="962.5" x2="350.3" y2="962.5" stroke="#9a9a9a" stroke-width="1.2"/>
<line x1="210.5" y1="962.5" x2="210.5" y2="1101.2" stroke="#6e6e6e" stroke-width="1.2"/>
<line x1="350.3" y1="962.5" x2="350.3" y2="1101.2" stroke="#4a4a4a" stroke-width="1.2"/>
<line x1="210" y1="1101.2" x2="350.8" y2="1101.2" stroke="#4a4a4a" stroke-width="1.2"/>
<line x1="210.5" y1="1063.6" x2="287.47" y2="1063.6" stroke="#111" stroke-width="0.9"/>
<line x1="287.47" y1="1060.6" x2="287.47" y2="1066.6" stroke="#111" stroke-width="0.9"/>
<line x1="287.47" y1="1071" x2="350.3" y2="1071" stroke="#111" stroke-width="0.9"/>
<line x1="287.47" y1="1068" x2="287.47" y2="1074" stroke="#111" stroke-width="0.9"/>
<text transform="matrix(0.06578 0 0 0.06578 212.51 984.94)" font-size="200" font-weight="normal" fill="#1a1aff"  stroke="#1a1aff" stroke-width="6.39" stroke-linejoin="round">(-)</text>
<text transform="matrix(0.0669 0 0 0.0669 212.63 1004.57)" font-size="200" font-weight="normal" fill="#1a1aff"  stroke="#1a1aff" stroke-width="6.28" stroke-linejoin="round">67.9</text>
<text transform="matrix(0.06578 0 0 0.06578 319.51 984.94)" font-size="200" font-weight="normal" fill="#1a1aff"  stroke="#1a1aff" stroke-width="6.39" stroke-linejoin="round">(+)</text>
<text transform="matrix(0.0669 0 0 0.0669 309.68 1004.57)" font-size="200" font-weight="normal" fill="#1a1aff"  stroke="#1a1aff" stroke-width="6.28" stroke-linejoin="round">32.1</text>
<path d="M403.7 1101.20 L403.7 1100.81 L404.2 1100.76 L404.7 1100.69 L405.2 1100.63 L405.7 1100.55 L406.2 1100.47 L406.7 1100.38 L407.2 1100.29 L407.7 1100.18 L408.2 1100.07 L408.7 1099.95 L409.2 1099.83 L409.7 1099.69 L410.2 1099.55 L410.7 1099.40 L411.2 1099.24 L411.7 1099.06 L412.2 1098.88 L412.7 1098.68 L413.2 1098.46 L413.7 1098.21 L414.2 1097.94 L414.7 1097.63 L415.2 1097.28 L415.7 1096.87 L416.2 1096.39 L416.7 1095.82 L417.2 1095.15 L417.7 1094.35 L418.2 1093.40 L418.7 1092.27 L419.2 1090.92 L419.7 1089.34 L420.2 1087.47 L420.7 1085.30 L421.2 1082.79 L421.7 1079.90 L422.2 1076.61 L422.7 1072.90 L423.2 1068.75 L423.7 1064.17 L424.2 1059.15 L424.7 1053.71 L425.2 1047.89 L425.7 1041.73 L426.2 1035.29 L426.7 1028.66 L427.2 1021.91 L427.7 1015.16 L428.2 1008.51 L428.7 1002.09 L429.2 996.01 L429.7 990.41 L430.2 985.40 L430.7 981.09 L431.2 977.58 L431.7 974.96 L432.2 973.29 L432.7 972.60 L433.2 973.13 L433.7 975.45 L434.2 979.50 L434.7 985.11 L435.2 992.04 L435.7 1000.04 L436.2 1008.79 L436.7 1018.00 L437.2 1027.36 L437.7 1036.61 L438.2 1045.50 L438.7 1053.84 L439.2 1061.49 L439.7 1068.36 L440.2 1074.39 L440.7 1079.59 L441.2 1083.97 L441.7 1087.59 L442.2 1090.52 L442.7 1092.83 L443.2 1094.62 L443.7 1095.95 L444.2 1096.92 L444.7 1097.59 L445.2 1098.02 L445.7 1098.28 L446.2 1098.40 L446.7 1098.43 L447.2 1098.39 L447.7 1098.32 L448.2 1098.23 L448.7 1098.14 L449.2 1098.07 L449.7 1098.02 L450.2 1097.99 L450.7 1098.00 L451.2 1098.05 L451.7 1098.13 L452.2 1098.24 L452.7 1098.38 L453.2 1098.55 L453.7 1098.74 L454.2 1098.94 L454.7 1099.15 L455.2 1099.36 L455.7 1099.57 L456.2 1099.77 L456.7 1099.96 L457.2 1100.14 L457.7 1100.31 L458.2 1100.46 L458.7 1100.59 L459.2 1100.70 L459.7 1100.80 L459.7 1101.20" fill="#8e8e8e" stroke="#1a1a1a" stroke-width="0.9" stroke-linejoin="round"/>
<line x1="354.7" y1="962.5" x2="494.5" y2="962.5" stroke="#9a9a9a" stroke-width="1.2"/>
<line x1="354.7" y1="962.5" x2="354.7" y2="1101.2" stroke="#6e6e6e" stroke-width="1.2"/>
<line x1="494.5" y1="962.5" x2="494.5" y2="1101.2" stroke="#4a4a4a" stroke-width="1.2"/>
<line x1="354.2" y1="1101.2" x2="495" y2="1101.2" stroke="#4a4a4a" stroke-width="1.2"/>
<line x1="354.7" y1="1063.6" x2="431.09" y2="1063.6" stroke="#111" stroke-width="0.9"/>
<line x1="431.09" y1="1060.6" x2="431.09" y2="1066.6" stroke="#111" stroke-width="0.9"/>
<line x1="431.09" y1="1071" x2="494.5" y2="1071" stroke="#111" stroke-width="0.9"/>
<line x1="431.09" y1="1068" x2="431.09" y2="1074" stroke="#111" stroke-width="0.9"/>
<text transform="matrix(0.06578 0 0 0.06578 356.71 984.94)" font-size="200" font-weight="normal" fill="#1a1aff"  stroke="#1a1aff" stroke-width="6.39" stroke-linejoin="round">(-)</text>
<text transform="matrix(0.0669 0 0 0.0669 357.23 1004.57)" font-size="200" font-weight="normal" fill="#1a1aff"  stroke="#1a1aff" stroke-width="6.28" stroke-linejoin="round">48.8</text>
<text transform="matrix(0.06578 0 0 0.06578 463.71 984.94)" font-size="200" font-weight="normal" fill="#1a1aff"  stroke="#1a1aff" stroke-width="6.39" stroke-linejoin="round">(+)</text>
<text transform="matrix(0.0669 0 0 0.0669 453.94 1004.57)" font-size="200" font-weight="normal" fill="#1a1aff"  stroke="#1a1aff" stroke-width="6.28" stroke-linejoin="round">51.2</text>
<path d="M108.5 1245.20 L108.5 1244.77 L109.0 1244.71 L109.5 1244.64 L110.0 1244.57 L110.5 1244.49 L111.0 1244.41 L111.5 1244.31 L112.0 1244.21 L112.5 1244.10 L113.0 1243.99 L113.5 1243.86 L114.0 1243.73 L114.5 1243.59 L115.0 1243.44 L115.5 1243.28 L116.0 1243.12 L116.5 1242.93 L117.0 1242.74 L117.5 1242.52 L118.0 1242.29 L118.5 1242.02 L119.0 1241.73 L119.5 1241.38 L120.0 1240.99 L120.5 1240.53 L121.0 1239.98 L121.5 1239.34 L122.0 1238.57 L122.5 1237.66 L123.0 1236.57 L123.5 1235.28 L124.0 1233.75 L124.5 1231.96 L125.0 1229.86 L125.5 1227.44 L126.0 1224.64 L126.5 1221.46 L127.0 1217.86 L127.5 1213.83 L128.0 1209.37 L128.5 1204.47 L129.0 1199.16 L129.5 1193.46 L130.0 1187.41 L130.5 1181.08 L131.0 1174.54 L131.5 1167.87 L132.0 1161.18 L132.5 1154.57 L133.0 1148.16 L133.5 1142.08 L134.0 1136.44 L134.5 1131.36 L135.0 1126.96 L135.5 1123.34 L136.0 1120.58 L136.5 1118.75 L137.0 1117.90 L137.5 1118.16 L138.0 1120.14 L138.5 1123.86 L139.0 1129.15 L139.5 1135.81 L140.0 1143.57 L140.5 1152.13 L141.0 1161.20 L141.5 1170.48 L142.0 1179.69 L142.5 1188.59 L143.0 1196.98 L143.5 1204.73 L144.0 1211.71 L144.5 1217.89 L145.0 1223.25 L145.5 1227.81 L146.0 1231.62 L146.5 1234.75 L147.0 1237.27 L147.5 1239.27 L148.0 1240.83 L148.5 1242.02 L149.0 1242.92 L149.5 1243.59 L150.0 1244.08 L150.5 1244.43 L151.0 1244.68 L151.0 1245.20" fill="#8e8e8e" stroke="#1a1a1a" stroke-width="0.9" stroke-linejoin="round"/>
<line x1="67" y1="1105.9" x2="206.8" y2="1105.9" stroke="#9a9a9a" stroke-width="1.2"/>
<line x1="67" y1="1105.9" x2="67" y2="1245.2" stroke="#6e6e6e" stroke-width="1.2"/>
<line x1="206.8" y1="1105.9" x2="206.8" y2="1245.2" stroke="#4a4a4a" stroke-width="1.2"/>
<line x1="66.5" y1="1245.2" x2="207.3" y2="1245.2" stroke="#4a4a4a" stroke-width="1.2"/>
<line x1="67" y1="1209.4" x2="143.68" y2="1209.4" stroke="#111" stroke-width="0.9"/>
<line x1="143.68" y1="1206.4" x2="143.68" y2="1212.4" stroke="#111" stroke-width="0.9"/>
<line x1="143.68" y1="1216.8" x2="206.8" y2="1216.8" stroke="#111" stroke-width="0.9"/>
<line x1="143.68" y1="1213.8" x2="143.68" y2="1219.8" stroke="#111" stroke-width="0.9"/>
<line x1="67.5" y1="1245.2" x2="67.5" y2="1248.7" stroke="#333" stroke-width="1"/>
<line x1="76.32" y1="1245.2" x2="76.32" y2="1247" stroke="#333" stroke-width="0.8"/>
<line x1="81.48" y1="1245.2" x2="81.48" y2="1247" stroke="#333" stroke-width="0.8"/>
<line x1="85.14" y1="1245.2" x2="85.14" y2="1247" stroke="#333" stroke-width="0.8"/>
<line x1="87.98" y1="1245.2" x2="87.98" y2="1247" stroke="#333" stroke-width="0.8"/>
<line x1="90.3" y1="1245.2" x2="90.3" y2="1247" stroke="#333" stroke-width="0.8"/>
<line x1="92.26" y1="1245.2" x2="92.26" y2="1247" stroke="#333" stroke-width="0.8"/>
<line x1="93.96" y1="1245.2" x2="93.96" y2="1247" stroke="#333" stroke-width="0.8"/>
<line x1="95.46" y1="1245.2" x2="95.46" y2="1247" stroke="#333" stroke-width="0.8"/>
<line x1="96.8" y1="1245.2" x2="96.8" y2="1248.7" stroke="#333" stroke-width="1"/>
<line x1="105.62" y1="1245.2" x2="105.62" y2="1247" stroke="#333" stroke-width="0.8"/>
<line x1="110.78" y1="1245.2" x2="110.78" y2="1247" stroke="#333" stroke-width="0.8"/>
<line x1="114.44" y1="1245.2" x2="114.44" y2="1247" stroke="#333" stroke-width="0.8"/>
<line x1="117.28" y1="1245.2" x2="117.28" y2="1247" stroke="#333" stroke-width="0.8"/>
<line x1="119.6" y1="1245.2" x2="119.6" y2="1247" stroke="#333" stroke-width="0.8"/>
<line x1="121.56" y1="1245.2" x2="121.56" y2="1247" stroke="#333" stroke-width="0.8"/>
<line x1="123.26" y1="1245.2" x2="123.26" y2="1247" stroke="#333" stroke-width="0.8"/>
<line x1="124.76" y1="1245.2" x2="124.76" y2="1247" stroke="#333" stroke-width="0.8"/>
<line x1="126.1" y1="1245.2" x2="126.1" y2="1248.7" stroke="#333" stroke-width="1"/>
<line x1="134.92" y1="1245.2" x2="134.92" y2="1247" stroke="#333" stroke-width="0.8"/>
<line x1="140.08" y1="1245.2" x2="140.08" y2="1247" stroke="#333" stroke-width="0.8"/>
<line x1="143.74" y1="1245.2" x2="143.74" y2="1247" stroke="#333" stroke-width="0.8"/>
<line x1="146.58" y1="1245.2" x2="146.58" y2="1247" stroke="#333" stroke-width="0.8"/>
<line x1="148.9" y1="1245.2" x2="148.9" y2="1247" stroke="#333" stroke-width="0.8"/>
<line x1="150.86" y1="1245.2" x2="150.86" y2="1247" stroke="#333" stroke-width="0.8"/>
<line x1="152.56" y1="1245.2" x2="152.56" y2="1247" stroke="#333" stroke-width="0.8"/>
<line x1="154.06" y1="1245.2" x2="154.06" y2="1247" stroke="#333" stroke-width="0.8"/>
<line x1="155.4" y1="1245.2" x2="155.4" y2="1248.7" stroke="#333" stroke-width="1"/>
<line x1="164.22" y1="1245.2" x2="164.22" y2="1247" stroke="#333" stroke-width="0.8"/>
<line x1="169.38" y1="1245.2" x2="169.38" y2="1247" stroke="#333" stroke-width="0.8"/>
<line x1="173.04" y1="1245.2" x2="173.04" y2="1247" stroke="#333" stroke-width="0.8"/>
<line x1="175.88" y1="1245.2" x2="175.88" y2="1247" stroke="#333" stroke-width="0.8"/>
<line x1="178.2" y1="1245.2" x2="178.2" y2="1247" stroke="#333" stroke-width="0.8"/>
<line x1="180.16" y1="1245.2" x2="180.16" y2="1247" stroke="#333" stroke-width="0.8"/>
<line x1="181.86" y1="1245.2" x2="181.86" y2="1247" stroke="#333" stroke-width="0.8"/>
<line x1="183.36" y1="1245.2" x2="183.36" y2="1247" stroke="#333" stroke-width="0.8"/>
<line x1="184.7" y1="1245.2" x2="184.7" y2="1248.7" stroke="#333" stroke-width="1"/>
<line x1="193.52" y1="1245.2" x2="193.52" y2="1247" stroke="#333" stroke-width="0.8"/>
<line x1="198.68" y1="1245.2" x2="198.68" y2="1247" stroke="#333" stroke-width="0.8"/>
<line x1="202.34" y1="1245.2" x2="202.34" y2="1247" stroke="#333" stroke-width="0.8"/>
<line x1="205.18" y1="1245.2" x2="205.18" y2="1247" stroke="#333" stroke-width="0.8"/>
<text transform="matrix(0.03521 0 0 0.03521 69.58 1262.43)" font-size="200" font-weight="bold" fill="#2a2a2a"  stroke="#2a2a2a" stroke-width="8.52" stroke-linejoin="round">10</text>
<text transform="matrix(0.03333 0 0 0.03333 77.31 1255.8)" font-size="200" font-weight="bold" fill="#2a2a2a"  stroke="#2a2a2a" stroke-width="9" stroke-linejoin="round">1</text>
<text transform="matrix(0.03521 0 0 0.03521 95.88 1262.43)" font-size="200" font-weight="bold" fill="#2a2a2a"  stroke="#2a2a2a" stroke-width="8.52" stroke-linejoin="round">10</text>
<text transform="matrix(0.03286 0 0 0.03286 103.78 1255.8)" font-size="200" font-weight="bold" fill="#2a2a2a"  stroke="#2a2a2a" stroke-width="9.13" stroke-linejoin="round">2</text>
<text transform="matrix(0.03521 0 0 0.03521 125.18 1262.43)" font-size="200" font-weight="bold" fill="#2a2a2a"  stroke="#2a2a2a" stroke-width="8.52" stroke-linejoin="round">10</text>
<text transform="matrix(0.03239 0 0 0.03239 133.15 1255.74)" font-size="200" font-weight="bold" fill="#2a2a2a"  stroke="#2a2a2a" stroke-width="9.26" stroke-linejoin="round">3</text>
<text transform="matrix(0.03521 0 0 0.03521 154.48 1262.43)" font-size="200" font-weight="bold" fill="#2a2a2a"  stroke="#2a2a2a" stroke-width="8.52" stroke-linejoin="round">10</text>
<text transform="matrix(0.03333 0 0 0.03333 162.51 1255.8)" font-size="200" font-weight="bold" fill="#2a2a2a"  stroke="#2a2a2a" stroke-width="9" stroke-linejoin="round">4</text>
<text transform="matrix(0.03521 0 0 0.03521 183.78 1262.43)" font-size="200" font-weight="bold" fill="#2a2a2a"  stroke="#2a2a2a" stroke-width="8.52" stroke-linejoin="round">10</text>
<text transform="matrix(0.03286 0 0 0.03286 191.72 1255.73)" font-size="200" font-weight="bold" fill="#2a2a2a"  stroke="#2a2a2a" stroke-width="9.13" stroke-linejoin="round">5</text>
<line x1="62.5" y1="1245.2" x2="67" y2="1245.2" stroke="#333" stroke-width="1"/>
<text transform="matrix(0.03521 0 0 0.03521 55.84 1248.23)" font-size="200" font-weight="normal" fill="#333"  stroke="#333" stroke-width="12.78" stroke-linejoin="round">0</text>
<line x1="64.8" y1="1239.74" x2="67" y2="1239.74" stroke="#333" stroke-width="1"/>
<line x1="64.8" y1="1234.28" x2="67" y2="1234.28" stroke="#333" stroke-width="1"/>
<line x1="64.8" y1="1228.82" x2="67" y2="1228.82" stroke="#333" stroke-width="1"/>
<line x1="64.8" y1="1223.36" x2="67" y2="1223.36" stroke="#333" stroke-width="1"/>
<line x1="62.5" y1="1217.9" x2="67" y2="1217.9" stroke="#333" stroke-width="1"/>
<text transform="matrix(0.03521 0 0 0.03521 48.02 1220.93)" font-size="200" font-weight="normal" fill="#333"  stroke="#333" stroke-width="12.78" stroke-linejoin="round">100</text>
<line x1="64.8" y1="1212.44" x2="67" y2="1212.44" stroke="#333" stroke-width="1"/>
<line x1="64.8" y1="1206.98" x2="67" y2="1206.98" stroke="#333" stroke-width="1"/>
<line x1="64.8" y1="1201.52" x2="67" y2="1201.52" stroke="#333" stroke-width="1"/>
<line x1="64.8" y1="1196.06" x2="67" y2="1196.06" stroke="#333" stroke-width="1"/>
<line x1="62.5" y1="1190.6" x2="67" y2="1190.6" stroke="#333" stroke-width="1"/>
<text transform="matrix(0.03521 0 0 0.03521 48.02 1193.63)" font-size="200" font-weight="normal" fill="#333"  stroke="#333" stroke-width="12.78" stroke-linejoin="round">200</text>
<line x1="64.8" y1="1185.14" x2="67" y2="1185.14" stroke="#333" stroke-width="1"/>
<line x1="64.8" y1="1179.68" x2="67" y2="1179.68" stroke="#333" stroke-width="1"/>
<line x1="64.8" y1="1174.22" x2="67" y2="1174.22" stroke="#333" stroke-width="1"/>
<line x1="64.8" y1="1168.76" x2="67" y2="1168.76" stroke="#333" stroke-width="1"/>
<line x1="62.5" y1="1163.3" x2="67" y2="1163.3" stroke="#333" stroke-width="1"/>
<text transform="matrix(0.03521 0 0 0.03521 48.02 1166.33)" font-size="200" font-weight="normal" fill="#333"  stroke="#333" stroke-width="12.78" stroke-linejoin="round">300</text>
<line x1="64.8" y1="1157.84" x2="67" y2="1157.84" stroke="#333" stroke-width="1"/>
<line x1="64.8" y1="1152.38" x2="67" y2="1152.38" stroke="#333" stroke-width="1"/>
<line x1="64.8" y1="1146.92" x2="67" y2="1146.92" stroke="#333" stroke-width="1"/>
<line x1="64.8" y1="1141.46" x2="67" y2="1141.46" stroke="#333" stroke-width="1"/>
<line x1="62.5" y1="1136" x2="67" y2="1136" stroke="#333" stroke-width="1"/>
<text transform="matrix(0.03521 0 0 0.03521 48.02 1139.03)" font-size="200" font-weight="normal" fill="#333"  stroke="#333" stroke-width="12.78" stroke-linejoin="round">400</text>
<line x1="64.8" y1="1130.54" x2="67" y2="1130.54" stroke="#333" stroke-width="1"/>
<line x1="64.8" y1="1125.08" x2="67" y2="1125.08" stroke="#333" stroke-width="1"/>
<line x1="64.8" y1="1119.62" x2="67" y2="1119.62" stroke="#333" stroke-width="1"/>
<line x1="64.8" y1="1114.16" x2="67" y2="1114.16" stroke="#333" stroke-width="1"/>
<line x1="62.5" y1="1108.7" x2="67" y2="1108.7" stroke="#333" stroke-width="1"/>
<text transform="matrix(0.03521 0 0 0.03521 48.02 1111.73)" font-size="200" font-weight="normal" fill="#333"  stroke="#333" stroke-width="12.78" stroke-linejoin="round">500</text>
<text transform="matrix(0.06578 0 0 0.06578 69.01 1128.34)" font-size="200" font-weight="normal" fill="#1a1aff"  stroke="#1a1aff" stroke-width="6.39" stroke-linejoin="round">(-)</text>
<text transform="matrix(0.0669 0 0 0.0669 69.2 1147.97)" font-size="200" font-weight="normal" fill="#1a1aff"  stroke="#1a1aff" stroke-width="6.28" stroke-linejoin="round">90.1</text>
<text transform="matrix(0.06578 0 0 0.06578 176.01 1128.34)" font-size="200" font-weight="normal" fill="#1a1aff"  stroke="#1a1aff" stroke-width="6.39" stroke-linejoin="round">(+)</text>
<text transform="matrix(0.0669 0 0 0.0669 165.98 1147.97)" font-size="200" font-weight="normal" fill="#1a1aff"  stroke="#1a1aff" stroke-width="6.28" stroke-linejoin="round">9.94</text>
<path d="M253.5 1245.20 L253.5 1244.80 L254.0 1244.74 L254.5 1244.68 L255.0 1244.61 L255.5 1244.53 L256.0 1244.45 L256.5 1244.36 L257.0 1244.26 L257.5 1244.15 L258.0 1244.04 L258.5 1243.92 L259.0 1243.79 L259.5 1243.66 L260.0 1243.51 L260.5 1243.36 L261.0 1243.19 L261.5 1243.02 L262.0 1242.83 L262.5 1242.62 L263.0 1242.40 L263.5 1242.15 L264.0 1241.87 L264.5 1241.55 L265.0 1241.18 L265.5 1240.75 L266.0 1240.25 L266.5 1239.66 L267.0 1238.95 L267.5 1238.11 L268.0 1237.11 L268.5 1235.92 L269.0 1234.52 L269.5 1232.86 L270.0 1230.91 L270.5 1228.65 L271.0 1226.03 L271.5 1223.04 L272.0 1219.64 L272.5 1215.82 L273.0 1211.56 L273.5 1206.86 L274.0 1201.73 L274.5 1196.20 L275.0 1190.30 L275.5 1184.07 L276.0 1177.60 L276.5 1170.95 L277.0 1164.22 L277.5 1157.52 L278.0 1150.96 L278.5 1144.66 L279.0 1138.75 L279.5 1133.34 L280.0 1128.56 L280.5 1124.50 L281.0 1121.27 L281.5 1118.94 L282.0 1117.58 L282.5 1117.20 L283.0 1118.26 L283.5 1121.11 L284.0 1125.63 L284.5 1131.65 L285.0 1138.91 L285.5 1147.14 L286.0 1156.03 L286.5 1165.28 L287.0 1174.60 L287.5 1183.74 L288.0 1192.46 L288.5 1200.60 L289.0 1208.02 L289.5 1214.65 L290.0 1220.47 L290.5 1225.46 L291.0 1229.67 L291.5 1233.16 L292.0 1236.00 L292.5 1238.27 L293.0 1240.05 L293.5 1241.43 L294.0 1242.48 L294.5 1243.26 L295.0 1243.84 L295.5 1244.26 L296.0 1244.56 L296.5 1244.77 L296.5 1245.20" fill="#8e8e8e" stroke="#1a1a1a" stroke-width="0.9" stroke-linejoin="round"/>
<line x1="210.5" y1="1105.9" x2="350.3" y2="1105.9" stroke="#9a9a9a" stroke-width="1.2"/>
<line x1="210.5" y1="1105.9" x2="210.5" y2="1245.2" stroke="#6e6e6e" stroke-width="1.2"/>
<line x1="350.3" y1="1105.9" x2="350.3" y2="1245.2" stroke="#4a4a4a" stroke-width="1.2"/>
<line x1="210" y1="1245.2" x2="350.8" y2="1245.2" stroke="#4a4a4a" stroke-width="1.2"/>
<line x1="210.5" y1="1209.4" x2="287.47" y2="1209.4" stroke="#111" stroke-width="0.9"/>
<line x1="287.47" y1="1206.4" x2="287.47" y2="1212.4" stroke="#111" stroke-width="0.9"/>
<line x1="287.47" y1="1216.8" x2="350.3" y2="1216.8" stroke="#111" stroke-width="0.9"/>
<line x1="287.47" y1="1213.8" x2="287.47" y2="1219.8" stroke="#111" stroke-width="0.9"/>
<line x1="211" y1="1245.2" x2="211" y2="1248.7" stroke="#333" stroke-width="1"/>
<line x1="219.82" y1="1245.2" x2="219.82" y2="1247" stroke="#333" stroke-width="0.8"/>
<line x1="224.98" y1="1245.2" x2="224.98" y2="1247" stroke="#333" stroke-width="0.8"/>
<line x1="228.64" y1="1245.2" x2="228.64" y2="1247" stroke="#333" stroke-width="0.8"/>
<line x1="231.48" y1="1245.2" x2="231.48" y2="1247" stroke="#333" stroke-width="0.8"/>
<line x1="233.8" y1="1245.2" x2="233.8" y2="1247" stroke="#333" stroke-width="0.8"/>
<line x1="235.76" y1="1245.2" x2="235.76" y2="1247" stroke="#333" stroke-width="0.8"/>
<line x1="237.46" y1="1245.2" x2="237.46" y2="1247" stroke="#333" stroke-width="0.8"/>
<line x1="238.96" y1="1245.2" x2="238.96" y2="1247" stroke="#333" stroke-width="0.8"/>
<line x1="240.3" y1="1245.2" x2="240.3" y2="1248.7" stroke="#333" stroke-width="1"/>
<line x1="249.12" y1="1245.2" x2="249.12" y2="1247" stroke="#333" stroke-width="0.8"/>
<line x1="254.28" y1="1245.2" x2="254.28" y2="1247" stroke="#333" stroke-width="0.8"/>
<line x1="257.94" y1="1245.2" x2="257.94" y2="1247" stroke="#333" stroke-width="0.8"/>
<line x1="260.78" y1="1245.2" x2="260.78" y2="1247" stroke="#333" stroke-width="0.8"/>
<line x1="263.1" y1="1245.2" x2="263.1" y2="1247" stroke="#333" stroke-width="0.8"/>
<line x1="265.06" y1="1245.2" x2="265.06" y2="1247" stroke="#333" stroke-width="0.8"/>
<line x1="266.76" y1="1245.2" x2="266.76" y2="1247" stroke="#333" stroke-width="0.8"/>
<line x1="268.26" y1="1245.2" x2="268.26" y2="1247" stroke="#333" stroke-width="0.8"/>
<line x1="269.6" y1="1245.2" x2="269.6" y2="1248.7" stroke="#333" stroke-width="1"/>
<line x1="278.42" y1="1245.2" x2="278.42" y2="1247" stroke="#333" stroke-width="0.8"/>
<line x1="283.58" y1="1245.2" x2="283.58" y2="1247" stroke="#333" stroke-width="0.8"/>
<line x1="287.24" y1="1245.2" x2="287.24" y2="1247" stroke="#333" stroke-width="0.8"/>
<line x1="290.08" y1="1245.2" x2="290.08" y2="1247" stroke="#333" stroke-width="0.8"/>
<line x1="292.4" y1="1245.2" x2="292.4" y2="1247" stroke="#333" stroke-width="0.8"/>
<line x1="294.36" y1="1245.2" x2="294.36" y2="1247" stroke="#333" stroke-width="0.8"/>
<line x1="296.06" y1="1245.2" x2="296.06" y2="1247" stroke="#333" stroke-width="0.8"/>
<line x1="297.56" y1="1245.2" x2="297.56" y2="1247" stroke="#333" stroke-width="0.8"/>
<line x1="298.9" y1="1245.2" x2="298.9" y2="1248.7" stroke="#333" stroke-width="1"/>
<line x1="307.72" y1="1245.2" x2="307.72" y2="1247" stroke="#333" stroke-width="0.8"/>
<line x1="312.88" y1="1245.2" x2="312.88" y2="1247" stroke="#333" stroke-width="0.8"/>
<line x1="316.54" y1="1245.2" x2="316.54" y2="1247" stroke="#333" stroke-width="0.8"/>
<line x1="319.38" y1="1245.2" x2="319.38" y2="1247" stroke="#333" stroke-width="0.8"/>
<line x1="321.7" y1="1245.2" x2="321.7" y2="1247" stroke="#333" stroke-width="0.8"/>
<line x1="323.66" y1="1245.2" x2="323.66" y2="1247" stroke="#333" stroke-width="0.8"/>
<line x1="325.36" y1="1245.2" x2="325.36" y2="1247" stroke="#333" stroke-width="0.8"/>
<line x1="326.86" y1="1245.2" x2="326.86" y2="1247" stroke="#333" stroke-width="0.8"/>
<line x1="328.2" y1="1245.2" x2="328.2" y2="1248.7" stroke="#333" stroke-width="1"/>
<line x1="337.02" y1="1245.2" x2="337.02" y2="1247" stroke="#333" stroke-width="0.8"/>
<line x1="342.18" y1="1245.2" x2="342.18" y2="1247" stroke="#333" stroke-width="0.8"/>
<line x1="345.84" y1="1245.2" x2="345.84" y2="1247" stroke="#333" stroke-width="0.8"/>
<line x1="348.68" y1="1245.2" x2="348.68" y2="1247" stroke="#333" stroke-width="0.8"/>
<text transform="matrix(0.03521 0 0 0.03521 213.08 1262.43)" font-size="200" font-weight="bold" fill="#2a2a2a"  stroke="#2a2a2a" stroke-width="8.52" stroke-linejoin="round">10</text>
<text transform="matrix(0.03333 0 0 0.03333 220.81 1255.8)" font-size="200" font-weight="bold" fill="#2a2a2a"  stroke="#2a2a2a" stroke-width="9" stroke-linejoin="round">1</text>
<text transform="matrix(0.03521 0 0 0.03521 239.38 1262.43)" font-size="200" font-weight="bold" fill="#2a2a2a"  stroke="#2a2a2a" stroke-width="8.52" stroke-linejoin="round">10</text>
<text transform="matrix(0.03286 0 0 0.03286 247.28 1255.8)" font-size="200" font-weight="bold" fill="#2a2a2a"  stroke="#2a2a2a" stroke-width="9.13" stroke-linejoin="round">2</text>
<text transform="matrix(0.03521 0 0 0.03521 268.68 1262.43)" font-size="200" font-weight="bold" fill="#2a2a2a"  stroke="#2a2a2a" stroke-width="8.52" stroke-linejoin="round">10</text>
<text transform="matrix(0.03239 0 0 0.03239 276.65 1255.74)" font-size="200" font-weight="bold" fill="#2a2a2a"  stroke="#2a2a2a" stroke-width="9.26" stroke-linejoin="round">3</text>
<text transform="matrix(0.03521 0 0 0.03521 297.98 1262.43)" font-size="200" font-weight="bold" fill="#2a2a2a"  stroke="#2a2a2a" stroke-width="8.52" stroke-linejoin="round">10</text>
<text transform="matrix(0.03333 0 0 0.03333 306.01 1255.8)" font-size="200" font-weight="bold" fill="#2a2a2a"  stroke="#2a2a2a" stroke-width="9" stroke-linejoin="round">4</text>
<text transform="matrix(0.03521 0 0 0.03521 327.28 1262.43)" font-size="200" font-weight="bold" fill="#2a2a2a"  stroke="#2a2a2a" stroke-width="8.52" stroke-linejoin="round">10</text>
<text transform="matrix(0.03286 0 0 0.03286 335.22 1255.73)" font-size="200" font-weight="bold" fill="#2a2a2a"  stroke="#2a2a2a" stroke-width="9.13" stroke-linejoin="round">5</text>
<text transform="matrix(0.06578 0 0 0.06578 212.51 1128.34)" font-size="200" font-weight="normal" fill="#1a1aff"  stroke="#1a1aff" stroke-width="6.39" stroke-linejoin="round">(-)</text>
<text transform="matrix(0.0669 0 0 0.0669 212.7 1147.97)" font-size="200" font-weight="normal" fill="#1a1aff"  stroke="#1a1aff" stroke-width="6.28" stroke-linejoin="round">86.4</text>
<text transform="matrix(0.06578 0 0 0.06578 319.51 1128.34)" font-size="200" font-weight="normal" fill="#1a1aff"  stroke="#1a1aff" stroke-width="6.39" stroke-linejoin="round">(+)</text>
<text transform="matrix(0.0669 0 0 0.0669 309.61 1147.97)" font-size="200" font-weight="normal" fill="#1a1aff"  stroke="#1a1aff" stroke-width="6.28" stroke-linejoin="round">13.6</text>
<path d="M397.2 1245.20 L397.2 1244.78 L397.7 1244.72 L398.2 1244.66 L398.7 1244.59 L399.2 1244.51 L399.7 1244.42 L400.2 1244.33 L400.7 1244.23 L401.2 1244.12 L401.7 1244.00 L402.2 1243.88 L402.7 1243.75 L403.2 1243.61 L403.7 1243.46 L404.2 1243.30 L404.7 1243.13 L405.2 1242.95 L405.7 1242.76 L406.2 1242.55 L406.7 1242.31 L407.2 1242.05 L407.7 1241.76 L408.2 1241.43 L408.7 1241.05 L409.2 1240.60 L409.7 1240.08 L410.2 1239.46 L410.7 1238.72 L411.2 1237.84 L411.7 1236.80 L412.2 1235.55 L412.7 1234.08 L413.2 1232.35 L413.7 1230.32 L414.2 1227.97 L414.7 1225.25 L415.2 1222.14 L415.7 1218.61 L416.2 1214.66 L416.7 1210.25 L417.2 1205.41 L417.7 1200.13 L418.2 1194.45 L418.7 1188.39 L419.2 1182.03 L419.7 1175.42 L420.2 1168.65 L420.7 1161.81 L421.2 1155.03 L421.7 1148.40 L422.2 1142.07 L422.7 1136.14 L423.2 1130.75 L423.7 1126.01 L424.2 1122.03 L424.7 1118.91 L425.2 1116.71 L425.7 1115.49 L426.2 1115.30 L426.7 1116.69 L427.2 1119.89 L427.7 1124.76 L428.2 1131.10 L428.7 1138.66 L429.2 1147.15 L429.7 1156.27 L430.2 1165.69 L430.7 1175.14 L431.2 1184.36 L431.7 1193.12 L432.2 1201.27 L432.7 1208.67 L433.2 1215.26 L433.7 1221.02 L434.2 1225.95 L434.7 1230.09 L435.2 1233.51 L435.7 1236.29 L436.2 1238.50 L436.7 1240.24 L437.2 1241.58 L437.7 1242.59 L438.2 1243.35 L438.7 1243.90 L439.2 1244.30 L439.7 1244.59 L440.2 1244.79 L440.2 1245.20" fill="#8e8e8e" stroke="#1a1a1a" stroke-width="0.9" stroke-linejoin="round"/>
<line x1="354.7" y1="1105.9" x2="494.5" y2="1105.9" stroke="#9a9a9a" stroke-width="1.2"/>
<line x1="354.7" y1="1105.9" x2="354.7" y2="1245.2" stroke="#6e6e6e" stroke-width="1.2"/>
<line x1="494.5" y1="1105.9" x2="494.5" y2="1245.2" stroke="#4a4a4a" stroke-width="1.2"/>
<line x1="354.2" y1="1245.2" x2="495" y2="1245.2" stroke="#4a4a4a" stroke-width="1.2"/>
<line x1="354.7" y1="1209.4" x2="431.09" y2="1209.4" stroke="#111" stroke-width="0.9"/>
<line x1="431.09" y1="1206.4" x2="431.09" y2="1212.4" stroke="#111" stroke-width="0.9"/>
<line x1="431.09" y1="1216.8" x2="494.5" y2="1216.8" stroke="#111" stroke-width="0.9"/>
<line x1="431.09" y1="1213.8" x2="431.09" y2="1219.8" stroke="#111" stroke-width="0.9"/>
<line x1="355.2" y1="1245.2" x2="355.2" y2="1248.7" stroke="#333" stroke-width="1"/>
<line x1="364.02" y1="1245.2" x2="364.02" y2="1247" stroke="#333" stroke-width="0.8"/>
<line x1="369.18" y1="1245.2" x2="369.18" y2="1247" stroke="#333" stroke-width="0.8"/>
<line x1="372.84" y1="1245.2" x2="372.84" y2="1247" stroke="#333" stroke-width="0.8"/>
<line x1="375.68" y1="1245.2" x2="375.68" y2="1247" stroke="#333" stroke-width="0.8"/>
<line x1="378" y1="1245.2" x2="378" y2="1247" stroke="#333" stroke-width="0.8"/>
<line x1="379.96" y1="1245.2" x2="379.96" y2="1247" stroke="#333" stroke-width="0.8"/>
<line x1="381.66" y1="1245.2" x2="381.66" y2="1247" stroke="#333" stroke-width="0.8"/>
<line x1="383.16" y1="1245.2" x2="383.16" y2="1247" stroke="#333" stroke-width="0.8"/>
<line x1="384.5" y1="1245.2" x2="384.5" y2="1248.7" stroke="#333" stroke-width="1"/>
<line x1="393.32" y1="1245.2" x2="393.32" y2="1247" stroke="#333" stroke-width="0.8"/>
<line x1="398.48" y1="1245.2" x2="398.48" y2="1247" stroke="#333" stroke-width="0.8"/>
<line x1="402.14" y1="1245.2" x2="402.14" y2="1247" stroke="#333" stroke-width="0.8"/>
<line x1="404.98" y1="1245.2" x2="404.98" y2="1247" stroke="#333" stroke-width="0.8"/>
<line x1="407.3" y1="1245.2" x2="407.3" y2="1247" stroke="#333" stroke-width="0.8"/>
<line x1="409.26" y1="1245.2" x2="409.26" y2="1247" stroke="#333" stroke-width="0.8"/>
<line x1="410.96" y1="1245.2" x2="410.96" y2="1247" stroke="#333" stroke-width="0.8"/>
<line x1="412.46" y1="1245.2" x2="412.46" y2="1247" stroke="#333" stroke-width="0.8"/>
<line x1="413.8" y1="1245.2" x2="413.8" y2="1248.7" stroke="#333" stroke-width="1"/>
<line x1="422.62" y1="1245.2" x2="422.62" y2="1247" stroke="#333" stroke-width="0.8"/>
<line x1="427.78" y1="1245.2" x2="427.78" y2="1247" stroke="#333" stroke-width="0.8"/>
<line x1="431.44" y1="1245.2" x2="431.44" y2="1247" stroke="#333" stroke-width="0.8"/>
<line x1="434.28" y1="1245.2" x2="434.28" y2="1247" stroke="#333" stroke-width="0.8"/>
<line x1="436.6" y1="1245.2" x2="436.6" y2="1247" stroke="#333" stroke-width="0.8"/>
<line x1="438.56" y1="1245.2" x2="438.56" y2="1247" stroke="#333" stroke-width="0.8"/>
<line x1="440.26" y1="1245.2" x2="440.26" y2="1247" stroke="#333" stroke-width="0.8"/>
<line x1="441.76" y1="1245.2" x2="441.76" y2="1247" stroke="#333" stroke-width="0.8"/>
<line x1="443.1" y1="1245.2" x2="443.1" y2="1248.7" stroke="#333" stroke-width="1"/>
<line x1="451.92" y1="1245.2" x2="451.92" y2="1247" stroke="#333" stroke-width="0.8"/>
<line x1="457.08" y1="1245.2" x2="457.08" y2="1247" stroke="#333" stroke-width="0.8"/>
<line x1="460.74" y1="1245.2" x2="460.74" y2="1247" stroke="#333" stroke-width="0.8"/>
<line x1="463.58" y1="1245.2" x2="463.58" y2="1247" stroke="#333" stroke-width="0.8"/>
<line x1="465.9" y1="1245.2" x2="465.9" y2="1247" stroke="#333" stroke-width="0.8"/>
<line x1="467.86" y1="1245.2" x2="467.86" y2="1247" stroke="#333" stroke-width="0.8"/>
<line x1="469.56" y1="1245.2" x2="469.56" y2="1247" stroke="#333" stroke-width="0.8"/>
<line x1="471.06" y1="1245.2" x2="471.06" y2="1247" stroke="#333" stroke-width="0.8"/>
<line x1="472.4" y1="1245.2" x2="472.4" y2="1248.7" stroke="#333" stroke-width="1"/>
<line x1="481.22" y1="1245.2" x2="481.22" y2="1247" stroke="#333" stroke-width="0.8"/>
<line x1="486.38" y1="1245.2" x2="486.38" y2="1247" stroke="#333" stroke-width="0.8"/>
<line x1="490.04" y1="1245.2" x2="490.04" y2="1247" stroke="#333" stroke-width="0.8"/>
<line x1="492.88" y1="1245.2" x2="492.88" y2="1247" stroke="#333" stroke-width="0.8"/>
<text transform="matrix(0.03521 0 0 0.03521 357.28 1262.43)" font-size="200" font-weight="bold" fill="#2a2a2a"  stroke="#2a2a2a" stroke-width="8.52" stroke-linejoin="round">10</text>
<text transform="matrix(0.03333 0 0 0.03333 365.01 1255.8)" font-size="200" font-weight="bold" fill="#2a2a2a"  stroke="#2a2a2a" stroke-width="9" stroke-linejoin="round">1</text>
<text transform="matrix(0.03521 0 0 0.03521 383.58 1262.43)" font-size="200" font-weight="bold" fill="#2a2a2a"  stroke="#2a2a2a" stroke-width="8.52" stroke-linejoin="round">10</text>
<text transform="matrix(0.03286 0 0 0.03286 391.48 1255.8)" font-size="200" font-weight="bold" fill="#2a2a2a"  stroke="#2a2a2a" stroke-width="9.13" stroke-linejoin="round">2</text>
<text transform="matrix(0.03521 0 0 0.03521 412.88 1262.43)" font-size="200" font-weight="bold" fill="#2a2a2a"  stroke="#2a2a2a" stroke-width="8.52" stroke-linejoin="round">10</text>
<text transform="matrix(0.03239 0 0 0.03239 420.85 1255.74)" font-size="200" font-weight="bold" fill="#2a2a2a"  stroke="#2a2a2a" stroke-width="9.26" stroke-linejoin="round">3</text>
<text transform="matrix(0.03521 0 0 0.03521 442.18 1262.43)" font-size="200" font-weight="bold" fill="#2a2a2a"  stroke="#2a2a2a" stroke-width="8.52" stroke-linejoin="round">10</text>
<text transform="matrix(0.03333 0 0 0.03333 450.21 1255.8)" font-size="200" font-weight="bold" fill="#2a2a2a"  stroke="#2a2a2a" stroke-width="9" stroke-linejoin="round">4</text>
<text transform="matrix(0.03521 0 0 0.03521 471.48 1262.43)" font-size="200" font-weight="bold" fill="#2a2a2a"  stroke="#2a2a2a" stroke-width="8.52" stroke-linejoin="round">10</text>
<text transform="matrix(0.03286 0 0 0.03286 479.42 1255.73)" font-size="200" font-weight="bold" fill="#2a2a2a"  stroke="#2a2a2a" stroke-width="9.13" stroke-linejoin="round">5</text>
<text transform="matrix(0.06578 0 0 0.06578 356.71 1128.34)" font-size="200" font-weight="normal" fill="#1a1aff"  stroke="#1a1aff" stroke-width="6.39" stroke-linejoin="round">(-)</text>
<text transform="matrix(0.0669 0 0 0.0669 356.9 1147.97)" font-size="200" font-weight="normal" fill="#1a1aff"  stroke="#1a1aff" stroke-width="6.28" stroke-linejoin="round">87.1</text>
<text transform="matrix(0.06578 0 0 0.06578 463.71 1128.34)" font-size="200" font-weight="normal" fill="#1a1aff"  stroke="#1a1aff" stroke-width="6.39" stroke-linejoin="round">(+)</text>
<text transform="matrix(0.0669 0 0 0.0669 453.88 1147.97)" font-size="200" font-weight="normal" fill="#1a1aff"  stroke="#1a1aff" stroke-width="6.28" stroke-linejoin="round">12.9</text>
<path d="M553.0 1101.20 L553.0 1100.78 L553.5 1100.72 L554.0 1100.66 L554.5 1100.58 L555.0 1100.50 L555.5 1100.42 L556.0 1100.32 L556.5 1100.21 L557.0 1100.09 L557.5 1099.97 L558.0 1099.83 L558.5 1099.68 L559.0 1099.52 L559.5 1099.35 L560.0 1099.17 L560.5 1098.97 L561.0 1098.76 L561.5 1098.54 L562.0 1098.31 L562.5 1098.06 L563.0 1097.81 L563.5 1097.54 L564.0 1097.25 L564.5 1096.96 L565.0 1096.65 L565.5 1096.34 L566.0 1096.01 L566.5 1095.66 L567.0 1095.31 L567.5 1094.93 L568.0 1094.55 L568.5 1094.14 L569.0 1093.71 L569.5 1093.26 L570.0 1092.78 L570.5 1092.27 L571.0 1091.73 L571.5 1091.13 L572.0 1090.49 L572.5 1089.78 L573.0 1089.00 L573.5 1088.14 L574.0 1087.18 L574.5 1086.11 L575.0 1084.91 L575.5 1083.58 L576.0 1082.08 L576.5 1080.42 L577.0 1078.55 L577.5 1076.48 L578.0 1074.19 L578.5 1071.65 L579.0 1068.85 L579.5 1065.78 L580.0 1062.44 L580.5 1058.81 L581.0 1054.90 L581.5 1050.71 L582.0 1046.24 L582.5 1041.51 L583.0 1036.55 L583.5 1031.39 L584.0 1026.05 L584.5 1020.59 L585.0 1015.05 L585.5 1009.50 L586.0 1004.01 L586.5 998.64 L587.0 993.48 L587.5 988.61 L588.0 984.13 L588.5 980.13 L589.0 976.70 L589.5 973.96 L590.0 972.00 L590.5 971.00 L591.0 971.48 L591.5 973.88 L592.0 977.74 L592.5 982.77 L593.0 988.76 L593.5 995.47 L594.0 1002.71 L594.5 1010.29 L595.0 1018.01 L595.5 1025.73 L596.0 1033.31 L596.5 1040.63 L597.0 1047.59 L597.5 1054.14 L598.0 1060.20 L598.5 1065.76 L599.0 1070.80 L599.5 1075.32 L600.0 1079.33 L600.5 1082.85 L601.0 1085.92 L601.5 1088.56 L602.0 1090.83 L602.5 1092.74 L603.0 1094.35 L603.5 1095.69 L604.0 1096.80 L604.5 1097.71 L605.0 1098.45 L605.5 1099.05 L606.0 1099.53 L606.5 1099.91 L607.0 1100.21 L607.5 1100.44 L608.0 1100.62 L608.5 1100.77 L608.5 1101.20" fill="#8e8e8e" stroke="#1a1a1a" stroke-width="0.9" stroke-linejoin="round"/>
<line x1="524" y1="962.5" x2="663.8" y2="962.5" stroke="#9a9a9a" stroke-width="1.2"/>
<line x1="524" y1="962.5" x2="524" y2="1101.2" stroke="#6e6e6e" stroke-width="1.2"/>
<line x1="663.8" y1="962.5" x2="663.8" y2="1101.2" stroke="#4a4a4a" stroke-width="1.2"/>
<line x1="523.5" y1="1101.2" x2="664.3" y2="1101.2" stroke="#4a4a4a" stroke-width="1.2"/>
<line x1="524" y1="1051.3" x2="595.41" y2="1051.3" stroke="#111" stroke-width="0.9"/>
<line x1="595.41" y1="1048.3" x2="595.41" y2="1054.3" stroke="#111" stroke-width="0.9"/>
<line x1="595.41" y1="1057.8" x2="663.8" y2="1057.8" stroke="#111" stroke-width="0.9"/>
<line x1="595.41" y1="1054.8" x2="595.41" y2="1060.8" stroke="#111" stroke-width="0.9"/>
<line x1="519.5" y1="1101.2" x2="524" y2="1101.2" stroke="#333" stroke-width="1"/>
<text transform="matrix(0.03521 0 0 0.03521 512.84 1104.23)" font-size="200" font-weight="normal" fill="#333"  stroke="#333" stroke-width="12.78" stroke-linejoin="round">0</text>
<line x1="521.8" y1="1095.52" x2="524" y2="1095.52" stroke="#333" stroke-width="1"/>
<line x1="521.8" y1="1089.84" x2="524" y2="1089.84" stroke="#333" stroke-width="1"/>
<line x1="521.8" y1="1084.16" x2="524" y2="1084.16" stroke="#333" stroke-width="1"/>
<line x1="521.8" y1="1078.48" x2="524" y2="1078.48" stroke="#333" stroke-width="1"/>
<line x1="519.5" y1="1072.8" x2="524" y2="1072.8" stroke="#333" stroke-width="1"/>
<text transform="matrix(0.03521 0 0 0.03521 505.02 1075.83)" font-size="200" font-weight="normal" fill="#333"  stroke="#333" stroke-width="12.78" stroke-linejoin="round">100</text>
<line x1="521.8" y1="1067.12" x2="524" y2="1067.12" stroke="#333" stroke-width="1"/>
<line x1="521.8" y1="1061.44" x2="524" y2="1061.44" stroke="#333" stroke-width="1"/>
<line x1="521.8" y1="1055.76" x2="524" y2="1055.76" stroke="#333" stroke-width="1"/>
<line x1="521.8" y1="1050.08" x2="524" y2="1050.08" stroke="#333" stroke-width="1"/>
<line x1="519.5" y1="1044.4" x2="524" y2="1044.4" stroke="#333" stroke-width="1"/>
<text transform="matrix(0.03521 0 0 0.03521 505.02 1047.43)" font-size="200" font-weight="normal" fill="#333"  stroke="#333" stroke-width="12.78" stroke-linejoin="round">200</text>
<line x1="521.8" y1="1038.72" x2="524" y2="1038.72" stroke="#333" stroke-width="1"/>
<line x1="521.8" y1="1033.04" x2="524" y2="1033.04" stroke="#333" stroke-width="1"/>
<line x1="521.8" y1="1027.36" x2="524" y2="1027.36" stroke="#333" stroke-width="1"/>
<line x1="521.8" y1="1021.68" x2="524" y2="1021.68" stroke="#333" stroke-width="1"/>
<line x1="519.5" y1="1016" x2="524" y2="1016" stroke="#333" stroke-width="1"/>
<text transform="matrix(0.03521 0 0 0.03521 505.02 1019.03)" font-size="200" font-weight="normal" fill="#333"  stroke="#333" stroke-width="12.78" stroke-linejoin="round">300</text>
<line x1="521.8" y1="1010.32" x2="524" y2="1010.32" stroke="#333" stroke-width="1"/>
<line x1="521.8" y1="1004.64" x2="524" y2="1004.64" stroke="#333" stroke-width="1"/>
<line x1="521.8" y1="998.96" x2="524" y2="998.96" stroke="#333" stroke-width="1"/>
<line x1="521.8" y1="993.28" x2="524" y2="993.28" stroke="#333" stroke-width="1"/>
<line x1="519.5" y1="987.6" x2="524" y2="987.6" stroke="#333" stroke-width="1"/>
<text transform="matrix(0.03521 0 0 0.03521 505.02 990.63)" font-size="200" font-weight="normal" fill="#333"  stroke="#333" stroke-width="12.78" stroke-linejoin="round">400</text>
<line x1="521.8" y1="981.92" x2="524" y2="981.92" stroke="#333" stroke-width="1"/>
<line x1="521.8" y1="976.24" x2="524" y2="976.24" stroke="#333" stroke-width="1"/>
<line x1="521.8" y1="970.56" x2="524" y2="970.56" stroke="#333" stroke-width="1"/>
<line x1="521.8" y1="964.88" x2="524" y2="964.88" stroke="#333" stroke-width="1"/>
<text transform="matrix(0.06578 0 0 0.06578 526.01 984.94)" font-size="200" font-weight="normal" fill="#1a1aff"  stroke="#1a1aff" stroke-width="6.39" stroke-linejoin="round">(-)</text>
<text transform="matrix(0.0669 0 0 0.0669 526.2 1004.57)" font-size="200" font-weight="normal" fill="#1a1aff"  stroke="#1a1aff" stroke-width="6.28" stroke-linejoin="round">89.6</text>
<text transform="matrix(0.06578 0 0 0.06578 633.01 984.94)" font-size="200" font-weight="normal" fill="#1a1aff"  stroke="#1a1aff" stroke-width="6.39" stroke-linejoin="round">(+)</text>
<text transform="matrix(0.0669 0 0 0.0669 622.98 1004.57)" font-size="200" font-weight="normal" fill="#1a1aff"  stroke="#1a1aff" stroke-width="6.28" stroke-linejoin="round">10.4</text>
<path d="M705.2 1101.20 L705.2 1100.81 L705.7 1100.74 L706.2 1100.67 L706.7 1100.59 L707.2 1100.51 L707.7 1100.41 L708.2 1100.30 L708.7 1100.18 L709.2 1100.05 L709.7 1099.91 L710.2 1099.76 L710.7 1099.59 L711.2 1099.40 L711.7 1099.20 L712.2 1098.99 L712.7 1098.75 L713.2 1098.50 L713.7 1098.23 L714.2 1097.93 L714.7 1097.62 L715.2 1097.27 L715.7 1096.89 L716.2 1096.48 L716.7 1096.03 L717.2 1095.54 L717.7 1094.99 L718.2 1094.39 L718.7 1093.72 L719.2 1092.97 L719.7 1092.13 L720.2 1091.18 L720.7 1090.13 L721.2 1088.94 L721.7 1087.60 L722.2 1086.10 L722.7 1084.41 L723.2 1082.52 L723.7 1080.41 L724.2 1078.07 L724.7 1075.47 L725.2 1072.60 L725.7 1069.45 L726.2 1066.00 L726.7 1062.26 L727.2 1058.21 L727.7 1053.87 L728.2 1049.25 L728.7 1044.36 L729.2 1039.22 L729.7 1033.88 L730.2 1028.37 L730.7 1022.74 L731.2 1017.06 L731.7 1011.38 L732.2 1005.79 L732.7 1000.36 L733.2 995.20 L733.7 990.39 L734.2 986.03 L734.7 982.23 L735.2 979.10 L735.7 976.75 L736.2 975.34 L736.7 975.20 L737.2 977.03 L737.7 980.37 L738.2 984.94 L738.7 990.50 L739.2 996.82 L739.7 1003.72 L740.2 1010.99 L740.7 1018.46 L741.2 1025.97 L741.7 1033.38 L742.2 1040.56 L742.7 1047.43 L743.2 1053.90 L743.7 1059.92 L744.2 1065.45 L744.7 1070.48 L745.2 1075.01 L745.7 1079.03 L746.2 1082.58 L746.7 1085.67 L747.2 1088.34 L747.7 1090.63 L748.2 1092.58 L748.7 1094.21 L749.2 1095.58 L749.7 1096.71 L750.2 1097.64 L750.7 1098.39 L751.2 1099.00 L751.7 1099.49 L752.2 1099.88 L752.7 1100.19 L753.2 1100.43 L753.7 1100.62 L754.2 1100.76 L754.2 1101.20" fill="#8e8e8e" stroke="#1a1a1a" stroke-width="0.9" stroke-linejoin="round"/>
<line x1="667.2" y1="962.5" x2="807" y2="962.5" stroke="#9a9a9a" stroke-width="1.2"/>
<line x1="667.2" y1="962.5" x2="667.2" y2="1101.2" stroke="#6e6e6e" stroke-width="1.2"/>
<line x1="807" y1="962.5" x2="807" y2="1101.2" stroke="#4a4a4a" stroke-width="1.2"/>
<line x1="666.7" y1="1101.2" x2="807.5" y2="1101.2" stroke="#4a4a4a" stroke-width="1.2"/>
<line x1="667.2" y1="1051.3" x2="738.9" y2="1051.3" stroke="#111" stroke-width="0.9"/>
<line x1="738.9" y1="1048.3" x2="738.9" y2="1054.3" stroke="#111" stroke-width="0.9"/>
<line x1="738.9" y1="1057.8" x2="807" y2="1057.8" stroke="#111" stroke-width="0.9"/>
<line x1="738.9" y1="1054.8" x2="738.9" y2="1060.8" stroke="#111" stroke-width="0.9"/>
<text transform="matrix(0.06578 0 0 0.06578 669.21 984.94)" font-size="200" font-weight="normal" fill="#1a1aff"  stroke="#1a1aff" stroke-width="6.39" stroke-linejoin="round">(-)</text>
<text transform="matrix(0.0669 0 0 0.0669 669.33 1004.57)" font-size="200" font-weight="normal" fill="#1a1aff"  stroke="#1a1aff" stroke-width="6.28" stroke-linejoin="round">73.4</text>
<text transform="matrix(0.06578 0 0 0.06578 776.21 984.94)" font-size="200" font-weight="normal" fill="#1a1aff"  stroke="#1a1aff" stroke-width="6.39" stroke-linejoin="round">(+)</text>
<text transform="matrix(0.0669 0 0 0.0669 766.31 1004.57)" font-size="200" font-weight="normal" fill="#1a1aff"  stroke="#1a1aff" stroke-width="6.28" stroke-linejoin="round">26.6</text>
<path d="M852.4 1101.20 L852.4 1100.76 L852.9 1100.69 L853.4 1100.61 L853.9 1100.51 L854.4 1100.41 L854.9 1100.30 L855.4 1100.17 L855.9 1100.03 L856.4 1099.88 L856.9 1099.71 L857.4 1099.52 L857.9 1099.32 L858.4 1099.10 L858.9 1098.86 L859.4 1098.60 L859.9 1098.31 L860.4 1098.00 L860.9 1097.67 L861.4 1097.30 L861.9 1096.89 L862.4 1096.45 L862.9 1095.96 L863.4 1095.41 L863.9 1094.81 L864.4 1094.13 L864.9 1093.36 L865.4 1092.50 L865.9 1091.54 L866.4 1090.44 L866.9 1089.20 L867.4 1087.80 L867.9 1086.21 L868.4 1084.43 L868.9 1082.42 L869.4 1080.17 L869.9 1077.65 L870.4 1074.85 L870.9 1071.75 L871.4 1068.34 L871.9 1064.61 L872.4 1060.55 L872.9 1056.18 L873.4 1051.48 L873.9 1046.49 L874.4 1041.22 L874.9 1035.72 L875.4 1030.01 L875.9 1024.17 L876.4 1018.25 L876.9 1012.33 L877.4 1006.49 L877.9 1000.82 L878.4 995.43 L878.9 990.41 L879.4 985.89 L879.9 981.97 L880.4 978.79 L880.9 976.48 L881.4 975.20 L881.9 975.48 L882.4 977.70 L882.9 981.34 L883.4 986.15 L883.9 991.90 L884.4 998.37 L884.9 1005.34 L885.4 1012.63 L885.9 1020.05 L886.4 1027.42 L886.9 1034.59 L887.4 1041.41 L887.9 1047.75 L888.4 1053.52 L888.9 1058.63 L889.4 1063.03 L889.9 1066.70 L890.4 1069.66 L890.9 1071.93 L891.4 1073.61 L891.9 1074.79 L892.4 1075.59 L892.9 1076.11 L893.4 1076.48 L893.9 1076.80 L894.4 1077.13 L894.9 1077.53 L895.4 1078.00 L895.9 1078.55 L896.4 1079.10 L896.9 1079.64 L897.4 1080.29 L897.9 1081.11 L898.4 1082.16 L898.9 1083.44 L899.4 1084.95 L899.9 1086.64 L900.4 1088.46 L900.9 1090.32 L901.4 1092.16 L901.9 1093.90 L902.4 1095.48 L902.9 1096.86 L903.4 1098.01 L903.9 1098.93 L904.4 1099.64 L904.9 1100.17 L905.4 1100.54 L905.9 1100.80 L905.9 1101.20" fill="#8e8e8e" stroke="#1a1a1a" stroke-width="0.9" stroke-linejoin="round"/>
<line x1="811.4" y1="962.5" x2="951.2" y2="962.5" stroke="#9a9a9a" stroke-width="1.2"/>
<line x1="811.4" y1="962.5" x2="811.4" y2="1101.2" stroke="#6e6e6e" stroke-width="1.2"/>
<line x1="951.2" y1="962.5" x2="951.2" y2="1101.2" stroke="#4a4a4a" stroke-width="1.2"/>
<line x1="810.9" y1="1101.2" x2="951.7" y2="1101.2" stroke="#4a4a4a" stroke-width="1.2"/>
<line x1="811.4" y1="1051.3" x2="882.81" y2="1051.3" stroke="#111" stroke-width="0.9"/>
<line x1="882.81" y1="1048.3" x2="882.81" y2="1054.3" stroke="#111" stroke-width="0.9"/>
<line x1="882.81" y1="1057.8" x2="951.2" y2="1057.8" stroke="#111" stroke-width="0.9"/>
<line x1="882.81" y1="1054.8" x2="882.81" y2="1060.8" stroke="#111" stroke-width="0.9"/>
<text transform="matrix(0.06578 0 0 0.06578 813.41 984.94)" font-size="200" font-weight="normal" fill="#1a1aff"  stroke="#1a1aff" stroke-width="6.39" stroke-linejoin="round">(-)</text>
<text transform="matrix(0.0669 0 0 0.0669 813.66 1004.57)" font-size="200" font-weight="normal" fill="#1a1aff"  stroke="#1a1aff" stroke-width="6.28" stroke-linejoin="round">58.8</text>
<text transform="matrix(0.06578 0 0 0.06578 920.41 984.94)" font-size="200" font-weight="normal" fill="#1a1aff"  stroke="#1a1aff" stroke-width="6.39" stroke-linejoin="round">(+)</text>
<text transform="matrix(0.06786 0 0 0.06786 910.28 1004.7)" font-size="200" font-weight="normal" fill="#1a1aff"  stroke="#1a1aff" stroke-width="6.19" stroke-linejoin="round">41.2</text>
<path d="M556.5 1245.20 L556.5 1244.82 L557.0 1244.77 L557.5 1244.72 L558.0 1244.66 L558.5 1244.60 L559.0 1244.54 L559.5 1244.47 L560.0 1244.39 L560.5 1244.31 L561.0 1244.22 L561.5 1244.13 L562.0 1244.03 L562.5 1243.93 L563.0 1243.82 L563.5 1243.70 L564.0 1243.58 L564.5 1243.46 L565.0 1243.33 L565.5 1243.19 L566.0 1243.05 L566.5 1242.91 L567.0 1242.76 L567.5 1242.60 L568.0 1242.44 L568.5 1242.28 L569.0 1242.10 L569.5 1241.92 L570.0 1241.72 L570.5 1241.51 L571.0 1241.28 L571.5 1241.03 L572.0 1240.76 L572.5 1240.45 L573.0 1240.10 L573.5 1239.71 L574.0 1239.25 L574.5 1238.73 L575.0 1238.12 L575.5 1237.42 L576.0 1236.61 L576.5 1235.66 L577.0 1234.57 L577.5 1233.32 L578.0 1231.88 L578.5 1230.24 L579.0 1228.37 L579.5 1226.26 L580.0 1223.89 L580.5 1221.25 L581.0 1218.33 L581.5 1215.11 L582.0 1211.59 L582.5 1207.78 L583.0 1203.68 L583.5 1199.30 L584.0 1194.67 L584.5 1189.80 L585.0 1184.74 L585.5 1179.53 L586.0 1174.21 L586.5 1168.84 L587.0 1163.48 L587.5 1158.19 L588.0 1153.04 L588.5 1148.11 L589.0 1143.45 L589.5 1139.15 L590.0 1135.26 L590.5 1131.86 L591.0 1128.99 L591.5 1126.70 L592.0 1125.04 L592.5 1124.04 L593.0 1123.70 L593.5 1124.08 L594.0 1125.23 L594.5 1127.12 L595.0 1129.73 L595.5 1133.00 L596.0 1136.87 L596.5 1141.28 L597.0 1146.16 L597.5 1151.41 L598.0 1156.95 L598.5 1162.70 L599.0 1168.57 L599.5 1174.47 L600.0 1180.35 L600.5 1186.12 L601.0 1191.72 L601.5 1197.10 L602.0 1202.22 L602.5 1207.04 L603.0 1211.54 L603.5 1215.70 L604.0 1219.51 L604.5 1222.98 L605.0 1226.10 L605.5 1228.88 L606.0 1231.35 L606.5 1233.53 L607.0 1235.42 L607.5 1237.06 L608.0 1238.47 L608.5 1239.67 L609.0 1240.69 L609.5 1241.54 L610.0 1242.25 L610.5 1242.84 L611.0 1243.32 L611.5 1243.72 L612.0 1244.03 L612.5 1244.29 L613.0 1244.50 L613.5 1244.66 L614.0 1244.78 L614.0 1245.20" fill="#8e8e8e" stroke="#1a1a1a" stroke-width="0.9" stroke-linejoin="round"/>
<line x1="524" y1="1105.9" x2="663.8" y2="1105.9" stroke="#9a9a9a" stroke-width="1.2"/>
<line x1="524" y1="1105.9" x2="524" y2="1245.2" stroke="#6e6e6e" stroke-width="1.2"/>
<line x1="663.8" y1="1105.9" x2="663.8" y2="1245.2" stroke="#4a4a4a" stroke-width="1.2"/>
<line x1="523.5" y1="1245.2" x2="664.3" y2="1245.2" stroke="#4a4a4a" stroke-width="1.2"/>
<line x1="524" y1="1191.6" x2="601.85" y2="1191.6" stroke="#111" stroke-width="0.9"/>
<line x1="601.85" y1="1188.6" x2="601.85" y2="1194.6" stroke="#111" stroke-width="0.9"/>
<line x1="601.85" y1="1198.6" x2="663.8" y2="1198.6" stroke="#111" stroke-width="0.9"/>
<line x1="601.85" y1="1195.6" x2="601.85" y2="1201.6" stroke="#111" stroke-width="0.9"/>
<line x1="524.5" y1="1245.2" x2="524.5" y2="1248.7" stroke="#333" stroke-width="1"/>
<line x1="533.32" y1="1245.2" x2="533.32" y2="1247" stroke="#333" stroke-width="0.8"/>
<line x1="538.48" y1="1245.2" x2="538.48" y2="1247" stroke="#333" stroke-width="0.8"/>
<line x1="542.14" y1="1245.2" x2="542.14" y2="1247" stroke="#333" stroke-width="0.8"/>
<line x1="544.98" y1="1245.2" x2="544.98" y2="1247" stroke="#333" stroke-width="0.8"/>
<line x1="547.3" y1="1245.2" x2="547.3" y2="1247" stroke="#333" stroke-width="0.8"/>
<line x1="549.26" y1="1245.2" x2="549.26" y2="1247" stroke="#333" stroke-width="0.8"/>
<line x1="550.96" y1="1245.2" x2="550.96" y2="1247" stroke="#333" stroke-width="0.8"/>
<line x1="552.46" y1="1245.2" x2="552.46" y2="1247" stroke="#333" stroke-width="0.8"/>
<line x1="553.8" y1="1245.2" x2="553.8" y2="1248.7" stroke="#333" stroke-width="1"/>
<line x1="562.62" y1="1245.2" x2="562.62" y2="1247" stroke="#333" stroke-width="0.8"/>
<line x1="567.78" y1="1245.2" x2="567.78" y2="1247" stroke="#333" stroke-width="0.8"/>
<line x1="571.44" y1="1245.2" x2="571.44" y2="1247" stroke="#333" stroke-width="0.8"/>
<line x1="574.28" y1="1245.2" x2="574.28" y2="1247" stroke="#333" stroke-width="0.8"/>
<line x1="576.6" y1="1245.2" x2="576.6" y2="1247" stroke="#333" stroke-width="0.8"/>
<line x1="578.56" y1="1245.2" x2="578.56" y2="1247" stroke="#333" stroke-width="0.8"/>
<line x1="580.26" y1="1245.2" x2="580.26" y2="1247" stroke="#333" stroke-width="0.8"/>
<line x1="581.76" y1="1245.2" x2="581.76" y2="1247" stroke="#333" stroke-width="0.8"/>
<line x1="583.1" y1="1245.2" x2="583.1" y2="1248.7" stroke="#333" stroke-width="1"/>
<line x1="591.92" y1="1245.2" x2="591.92" y2="1247" stroke="#333" stroke-width="0.8"/>
<line x1="597.08" y1="1245.2" x2="597.08" y2="1247" stroke="#333" stroke-width="0.8"/>
<line x1="600.74" y1="1245.2" x2="600.74" y2="1247" stroke="#333" stroke-width="0.8"/>
<line x1="603.58" y1="1245.2" x2="603.58" y2="1247" stroke="#333" stroke-width="0.8"/>
<line x1="605.9" y1="1245.2" x2="605.9" y2="1247" stroke="#333" stroke-width="0.8"/>
<line x1="607.86" y1="1245.2" x2="607.86" y2="1247" stroke="#333" stroke-width="0.8"/>
<line x1="609.56" y1="1245.2" x2="609.56" y2="1247" stroke="#333" stroke-width="0.8"/>
<line x1="611.06" y1="1245.2" x2="611.06" y2="1247" stroke="#333" stroke-width="0.8"/>
<line x1="612.4" y1="1245.2" x2="612.4" y2="1248.7" stroke="#333" stroke-width="1"/>
<line x1="621.22" y1="1245.2" x2="621.22" y2="1247" stroke="#333" stroke-width="0.8"/>
<line x1="626.38" y1="1245.2" x2="626.38" y2="1247" stroke="#333" stroke-width="0.8"/>
<line x1="630.04" y1="1245.2" x2="630.04" y2="1247" stroke="#333" stroke-width="0.8"/>
<line x1="632.88" y1="1245.2" x2="632.88" y2="1247" stroke="#333" stroke-width="0.8"/>
<line x1="635.2" y1="1245.2" x2="635.2" y2="1247" stroke="#333" stroke-width="0.8"/>
<line x1="637.16" y1="1245.2" x2="637.16" y2="1247" stroke="#333" stroke-width="0.8"/>
<line x1="638.86" y1="1245.2" x2="638.86" y2="1247" stroke="#333" stroke-width="0.8"/>
<line x1="640.36" y1="1245.2" x2="640.36" y2="1247" stroke="#333" stroke-width="0.8"/>
<line x1="641.7" y1="1245.2" x2="641.7" y2="1248.7" stroke="#333" stroke-width="1"/>
<line x1="650.52" y1="1245.2" x2="650.52" y2="1247" stroke="#333" stroke-width="0.8"/>
<line x1="655.68" y1="1245.2" x2="655.68" y2="1247" stroke="#333" stroke-width="0.8"/>
<line x1="659.34" y1="1245.2" x2="659.34" y2="1247" stroke="#333" stroke-width="0.8"/>
<line x1="662.18" y1="1245.2" x2="662.18" y2="1247" stroke="#333" stroke-width="0.8"/>
<text transform="matrix(0.03521 0 0 0.03521 526.58 1262.43)" font-size="200" font-weight="bold" fill="#2a2a2a"  stroke="#2a2a2a" stroke-width="8.52" stroke-linejoin="round">10</text>
<text transform="matrix(0.03333 0 0 0.03333 534.31 1255.8)" font-size="200" font-weight="bold" fill="#2a2a2a"  stroke="#2a2a2a" stroke-width="9" stroke-linejoin="round">1</text>
<text transform="matrix(0.03521 0 0 0.03521 552.88 1262.43)" font-size="200" font-weight="bold" fill="#2a2a2a"  stroke="#2a2a2a" stroke-width="8.52" stroke-linejoin="round">10</text>
<text transform="matrix(0.03286 0 0 0.03286 560.78 1255.8)" font-size="200" font-weight="bold" fill="#2a2a2a"  stroke="#2a2a2a" stroke-width="9.13" stroke-linejoin="round">2</text>
<text transform="matrix(0.03521 0 0 0.03521 582.18 1262.43)" font-size="200" font-weight="bold" fill="#2a2a2a"  stroke="#2a2a2a" stroke-width="8.52" stroke-linejoin="round">10</text>
<text transform="matrix(0.03239 0 0 0.03239 590.15 1255.74)" font-size="200" font-weight="bold" fill="#2a2a2a"  stroke="#2a2a2a" stroke-width="9.26" stroke-linejoin="round">3</text>
<text transform="matrix(0.03521 0 0 0.03521 611.48 1262.43)" font-size="200" font-weight="bold" fill="#2a2a2a"  stroke="#2a2a2a" stroke-width="8.52" stroke-linejoin="round">10</text>
<text transform="matrix(0.03333 0 0 0.03333 619.51 1255.8)" font-size="200" font-weight="bold" fill="#2a2a2a"  stroke="#2a2a2a" stroke-width="9" stroke-linejoin="round">4</text>
<text transform="matrix(0.03521 0 0 0.03521 640.78 1262.43)" font-size="200" font-weight="bold" fill="#2a2a2a"  stroke="#2a2a2a" stroke-width="8.52" stroke-linejoin="round">10</text>
<text transform="matrix(0.03286 0 0 0.03286 648.72 1255.73)" font-size="200" font-weight="bold" fill="#2a2a2a"  stroke="#2a2a2a" stroke-width="9.13" stroke-linejoin="round">5</text>
<line x1="519.5" y1="1245.2" x2="524" y2="1245.2" stroke="#333" stroke-width="1"/>
<text transform="matrix(0.03521 0 0 0.03521 512.84 1248.23)" font-size="200" font-weight="normal" fill="#333"  stroke="#333" stroke-width="12.78" stroke-linejoin="round">0</text>
<line x1="521.8" y1="1238.68" x2="524" y2="1238.68" stroke="#333" stroke-width="1"/>
<line x1="521.8" y1="1232.17" x2="524" y2="1232.17" stroke="#333" stroke-width="1"/>
<line x1="521.8" y1="1225.65" x2="524" y2="1225.65" stroke="#333" stroke-width="1"/>
<line x1="521.8" y1="1219.14" x2="524" y2="1219.14" stroke="#333" stroke-width="1"/>
<line x1="519.5" y1="1212.62" x2="524" y2="1212.62" stroke="#333" stroke-width="1"/>
<text transform="matrix(0.03521 0 0 0.03521 508.93 1215.65)" font-size="200" font-weight="normal" fill="#333"  stroke="#333" stroke-width="12.78" stroke-linejoin="round">50</text>
<line x1="521.8" y1="1206.11" x2="524" y2="1206.11" stroke="#333" stroke-width="1"/>
<line x1="521.8" y1="1199.6" x2="524" y2="1199.6" stroke="#333" stroke-width="1"/>
<line x1="521.8" y1="1193.08" x2="524" y2="1193.08" stroke="#333" stroke-width="1"/>
<line x1="521.8" y1="1186.57" x2="524" y2="1186.57" stroke="#333" stroke-width="1"/>
<line x1="519.5" y1="1180.05" x2="524" y2="1180.05" stroke="#333" stroke-width="1"/>
<text transform="matrix(0.03521 0 0 0.03521 505.02 1183.08)" font-size="200" font-weight="normal" fill="#333"  stroke="#333" stroke-width="12.78" stroke-linejoin="round">100</text>
<line x1="521.8" y1="1173.54" x2="524" y2="1173.54" stroke="#333" stroke-width="1"/>
<line x1="521.8" y1="1167.02" x2="524" y2="1167.02" stroke="#333" stroke-width="1"/>
<line x1="521.8" y1="1160.51" x2="524" y2="1160.51" stroke="#333" stroke-width="1"/>
<line x1="521.8" y1="1153.99" x2="524" y2="1153.99" stroke="#333" stroke-width="1"/>
<line x1="519.5" y1="1147.48" x2="524" y2="1147.48" stroke="#333" stroke-width="1"/>
<text transform="matrix(0.03521 0 0 0.03521 505.02 1150.5)" font-size="200" font-weight="normal" fill="#333"  stroke="#333" stroke-width="12.78" stroke-linejoin="round">150</text>
<line x1="521.8" y1="1140.96" x2="524" y2="1140.96" stroke="#333" stroke-width="1"/>
<line x1="521.8" y1="1134.45" x2="524" y2="1134.45" stroke="#333" stroke-width="1"/>
<line x1="521.8" y1="1127.93" x2="524" y2="1127.93" stroke="#333" stroke-width="1"/>
<line x1="521.8" y1="1121.41" x2="524" y2="1121.41" stroke="#333" stroke-width="1"/>
<line x1="519.5" y1="1114.9" x2="524" y2="1114.9" stroke="#333" stroke-width="1"/>
<text transform="matrix(0.03521 0 0 0.03521 505.02 1117.93)" font-size="200" font-weight="normal" fill="#333"  stroke="#333" stroke-width="12.78" stroke-linejoin="round">200</text>
<line x1="521.8" y1="1108.38" x2="524" y2="1108.38" stroke="#333" stroke-width="1"/>
<text transform="matrix(0.06578 0 0 0.06578 526.01 1128.34)" font-size="200" font-weight="normal" fill="#1a1aff"  stroke="#1a1aff" stroke-width="6.39" stroke-linejoin="round">(-)</text>
<text transform="matrix(0.0669 0 0 0.0669 526.2 1147.97)" font-size="200" font-weight="normal" fill="#1a1aff"  stroke="#1a1aff" stroke-width="6.28" stroke-linejoin="round">89.7</text>
<text transform="matrix(0.06578 0 0 0.06578 633.01 1128.34)" font-size="200" font-weight="normal" fill="#1a1aff"  stroke="#1a1aff" stroke-width="6.39" stroke-linejoin="round">(+)</text>
<text transform="matrix(0.0669 0 0 0.0669 623.11 1147.97)" font-size="200" font-weight="normal" fill="#1a1aff"  stroke="#1a1aff" stroke-width="6.28" stroke-linejoin="round">10.3</text>
<path d="M700.7 1245.20 L700.7 1244.81 L701.2 1244.76 L701.7 1244.71 L702.2 1244.65 L702.7 1244.59 L703.2 1244.52 L703.7 1244.45 L704.2 1244.37 L704.7 1244.28 L705.2 1244.19 L705.7 1244.10 L706.2 1243.99 L706.7 1243.89 L707.2 1243.77 L707.7 1243.65 L708.2 1243.53 L708.7 1243.40 L709.2 1243.26 L709.7 1243.12 L710.2 1242.97 L710.7 1242.82 L711.2 1242.66 L711.7 1242.50 L712.2 1242.33 L712.7 1242.16 L713.2 1241.97 L713.7 1241.78 L714.2 1241.58 L714.7 1241.36 L715.2 1241.12 L715.7 1240.87 L716.2 1240.59 L716.7 1240.27 L717.2 1239.92 L717.7 1239.52 L718.2 1239.06 L718.7 1238.53 L719.2 1237.92 L719.7 1237.21 L720.2 1236.39 L720.7 1235.43 L721.2 1234.33 L721.7 1233.06 L722.2 1231.60 L722.7 1229.93 L723.2 1228.03 L723.7 1225.88 L724.2 1223.47 L724.7 1220.76 L725.2 1217.76 L725.7 1214.45 L726.2 1210.83 L726.7 1206.88 L727.2 1202.63 L727.7 1198.08 L728.2 1193.25 L728.7 1188.17 L729.2 1182.86 L729.7 1177.37 L730.2 1171.76 L730.7 1166.07 L731.2 1160.36 L731.7 1154.71 L732.2 1149.18 L732.7 1143.85 L733.2 1138.80 L733.7 1134.09 L734.2 1129.81 L734.7 1126.01 L735.2 1122.76 L735.7 1120.11 L736.2 1118.12 L736.7 1116.80 L737.2 1116.20 L737.7 1116.33 L738.2 1117.27 L738.7 1119.01 L739.2 1121.52 L739.7 1124.76 L740.2 1128.66 L740.7 1133.16 L741.2 1138.18 L741.7 1143.63 L742.2 1149.42 L742.7 1155.46 L743.2 1161.66 L743.7 1167.93 L744.2 1174.19 L744.7 1180.36 L745.2 1186.38 L745.7 1192.18 L746.2 1197.72 L746.7 1202.95 L747.2 1207.85 L747.7 1212.39 L748.2 1216.57 L748.7 1220.37 L749.2 1223.81 L749.7 1226.89 L750.2 1229.63 L750.7 1232.04 L751.2 1234.15 L751.7 1235.99 L752.2 1237.56 L752.7 1238.91 L753.2 1240.06 L753.7 1241.02 L754.2 1241.82 L754.7 1242.49 L755.2 1243.04 L755.7 1243.49 L756.2 1243.85 L756.7 1244.15 L757.2 1244.38 L757.7 1244.57 L758.2 1244.72 L758.2 1245.20" fill="#8e8e8e" stroke="#1a1a1a" stroke-width="0.9" stroke-linejoin="round"/>
<line x1="667.2" y1="1105.9" x2="807" y2="1105.9" stroke="#9a9a9a" stroke-width="1.2"/>
<line x1="667.2" y1="1105.9" x2="667.2" y2="1245.2" stroke="#6e6e6e" stroke-width="1.2"/>
<line x1="807" y1="1105.9" x2="807" y2="1245.2" stroke="#4a4a4a" stroke-width="1.2"/>
<line x1="666.7" y1="1245.2" x2="807.5" y2="1245.2" stroke="#4a4a4a" stroke-width="1.2"/>
<line x1="667.2" y1="1191.6" x2="744.76" y2="1191.6" stroke="#111" stroke-width="0.9"/>
<line x1="744.76" y1="1188.6" x2="744.76" y2="1194.6" stroke="#111" stroke-width="0.9"/>
<line x1="744.76" y1="1198.6" x2="807" y2="1198.6" stroke="#111" stroke-width="0.9"/>
<line x1="744.76" y1="1195.6" x2="744.76" y2="1201.6" stroke="#111" stroke-width="0.9"/>
<line x1="667.7" y1="1245.2" x2="667.7" y2="1248.7" stroke="#333" stroke-width="1"/>
<line x1="676.52" y1="1245.2" x2="676.52" y2="1247" stroke="#333" stroke-width="0.8"/>
<line x1="681.68" y1="1245.2" x2="681.68" y2="1247" stroke="#333" stroke-width="0.8"/>
<line x1="685.34" y1="1245.2" x2="685.34" y2="1247" stroke="#333" stroke-width="0.8"/>
<line x1="688.18" y1="1245.2" x2="688.18" y2="1247" stroke="#333" stroke-width="0.8"/>
<line x1="690.5" y1="1245.2" x2="690.5" y2="1247" stroke="#333" stroke-width="0.8"/>
<line x1="692.46" y1="1245.2" x2="692.46" y2="1247" stroke="#333" stroke-width="0.8"/>
<line x1="694.16" y1="1245.2" x2="694.16" y2="1247" stroke="#333" stroke-width="0.8"/>
<line x1="695.66" y1="1245.2" x2="695.66" y2="1247" stroke="#333" stroke-width="0.8"/>
<line x1="697" y1="1245.2" x2="697" y2="1248.7" stroke="#333" stroke-width="1"/>
<line x1="705.82" y1="1245.2" x2="705.82" y2="1247" stroke="#333" stroke-width="0.8"/>
<line x1="710.98" y1="1245.2" x2="710.98" y2="1247" stroke="#333" stroke-width="0.8"/>
<line x1="714.64" y1="1245.2" x2="714.64" y2="1247" stroke="#333" stroke-width="0.8"/>
<line x1="717.48" y1="1245.2" x2="717.48" y2="1247" stroke="#333" stroke-width="0.8"/>
<line x1="719.8" y1="1245.2" x2="719.8" y2="1247" stroke="#333" stroke-width="0.8"/>
<line x1="721.76" y1="1245.2" x2="721.76" y2="1247" stroke="#333" stroke-width="0.8"/>
<line x1="723.46" y1="1245.2" x2="723.46" y2="1247" stroke="#333" stroke-width="0.8"/>
<line x1="724.96" y1="1245.2" x2="724.96" y2="1247" stroke="#333" stroke-width="0.8"/>
<line x1="726.3" y1="1245.2" x2="726.3" y2="1248.7" stroke="#333" stroke-width="1"/>
<line x1="735.12" y1="1245.2" x2="735.12" y2="1247" stroke="#333" stroke-width="0.8"/>
<line x1="740.28" y1="1245.2" x2="740.28" y2="1247" stroke="#333" stroke-width="0.8"/>
<line x1="743.94" y1="1245.2" x2="743.94" y2="1247" stroke="#333" stroke-width="0.8"/>
<line x1="746.78" y1="1245.2" x2="746.78" y2="1247" stroke="#333" stroke-width="0.8"/>
<line x1="749.1" y1="1245.2" x2="749.1" y2="1247" stroke="#333" stroke-width="0.8"/>
<line x1="751.06" y1="1245.2" x2="751.06" y2="1247" stroke="#333" stroke-width="0.8"/>
<line x1="752.76" y1="1245.2" x2="752.76" y2="1247" stroke="#333" stroke-width="0.8"/>
<line x1="754.26" y1="1245.2" x2="754.26" y2="1247" stroke="#333" stroke-width="0.8"/>
<line x1="755.6" y1="1245.2" x2="755.6" y2="1248.7" stroke="#333" stroke-width="1"/>
<line x1="764.42" y1="1245.2" x2="764.42" y2="1247" stroke="#333" stroke-width="0.8"/>
<line x1="769.58" y1="1245.2" x2="769.58" y2="1247" stroke="#333" stroke-width="0.8"/>
<line x1="773.24" y1="1245.2" x2="773.24" y2="1247" stroke="#333" stroke-width="0.8"/>
<line x1="776.08" y1="1245.2" x2="776.08" y2="1247" stroke="#333" stroke-width="0.8"/>
<line x1="778.4" y1="1245.2" x2="778.4" y2="1247" stroke="#333" stroke-width="0.8"/>
<line x1="780.36" y1="1245.2" x2="780.36" y2="1247" stroke="#333" stroke-width="0.8"/>
<line x1="782.06" y1="1245.2" x2="782.06" y2="1247" stroke="#333" stroke-width="0.8"/>
<line x1="783.56" y1="1245.2" x2="783.56" y2="1247" stroke="#333" stroke-width="0.8"/>
<line x1="784.9" y1="1245.2" x2="784.9" y2="1248.7" stroke="#333" stroke-width="1"/>
<line x1="793.72" y1="1245.2" x2="793.72" y2="1247" stroke="#333" stroke-width="0.8"/>
<line x1="798.88" y1="1245.2" x2="798.88" y2="1247" stroke="#333" stroke-width="0.8"/>
<line x1="802.54" y1="1245.2" x2="802.54" y2="1247" stroke="#333" stroke-width="0.8"/>
<line x1="805.38" y1="1245.2" x2="805.38" y2="1247" stroke="#333" stroke-width="0.8"/>
<text transform="matrix(0.03521 0 0 0.03521 669.78 1262.43)" font-size="200" font-weight="bold" fill="#2a2a2a"  stroke="#2a2a2a" stroke-width="8.52" stroke-linejoin="round">10</text>
<text transform="matrix(0.03333 0 0 0.03333 677.51 1255.8)" font-size="200" font-weight="bold" fill="#2a2a2a"  stroke="#2a2a2a" stroke-width="9" stroke-linejoin="round">1</text>
<text transform="matrix(0.03521 0 0 0.03521 696.08 1262.43)" font-size="200" font-weight="bold" fill="#2a2a2a"  stroke="#2a2a2a" stroke-width="8.52" stroke-linejoin="round">10</text>
<text transform="matrix(0.03286 0 0 0.03286 703.98 1255.8)" font-size="200" font-weight="bold" fill="#2a2a2a"  stroke="#2a2a2a" stroke-width="9.13" stroke-linejoin="round">2</text>
<text transform="matrix(0.03521 0 0 0.03521 725.38 1262.43)" font-size="200" font-weight="bold" fill="#2a2a2a"  stroke="#2a2a2a" stroke-width="8.52" stroke-linejoin="round">10</text>
<text transform="matrix(0.03239 0 0 0.03239 733.35 1255.74)" font-size="200" font-weight="bold" fill="#2a2a2a"  stroke="#2a2a2a" stroke-width="9.26" stroke-linejoin="round">3</text>
<text transform="matrix(0.03521 0 0 0.03521 754.68 1262.43)" font-size="200" font-weight="bold" fill="#2a2a2a"  stroke="#2a2a2a" stroke-width="8.52" stroke-linejoin="round">10</text>
<text transform="matrix(0.03333 0 0 0.03333 762.71 1255.8)" font-size="200" font-weight="bold" fill="#2a2a2a"  stroke="#2a2a2a" stroke-width="9" stroke-linejoin="round">4</text>
<text transform="matrix(0.03521 0 0 0.03521 783.98 1262.43)" font-size="200" font-weight="bold" fill="#2a2a2a"  stroke="#2a2a2a" stroke-width="8.52" stroke-linejoin="round">10</text>
<text transform="matrix(0.03286 0 0 0.03286 791.92 1255.73)" font-size="200" font-weight="bold" fill="#2a2a2a"  stroke="#2a2a2a" stroke-width="9.13" stroke-linejoin="round">5</text>
<text transform="matrix(0.06578 0 0 0.06578 669.21 1128.34)" font-size="200" font-weight="normal" fill="#1a1aff"  stroke="#1a1aff" stroke-width="6.39" stroke-linejoin="round">(-)</text>
<text transform="matrix(0.0669 0 0 0.0669 669.4 1147.97)" font-size="200" font-weight="normal" fill="#1a1aff"  stroke="#1a1aff" stroke-width="6.28" stroke-linejoin="round">91.8</text>
<text transform="matrix(0.06578 0 0 0.06578 776.21 1128.34)" font-size="200" font-weight="normal" fill="#1a1aff"  stroke="#1a1aff" stroke-width="6.39" stroke-linejoin="round">(+)</text>
<text transform="matrix(0.0669 0 0 0.0669 766.31 1147.97)" font-size="200" font-weight="normal" fill="#1a1aff"  stroke="#1a1aff" stroke-width="6.28" stroke-linejoin="round">8.25</text>
<path d="M844.4 1245.20 L844.4 1244.80 L844.9 1244.75 L845.4 1244.70 L845.9 1244.64 L846.4 1244.58 L846.9 1244.51 L847.4 1244.44 L847.9 1244.36 L848.4 1244.27 L848.9 1244.18 L849.4 1244.08 L849.9 1243.98 L850.4 1243.87 L850.9 1243.75 L851.4 1243.63 L851.9 1243.51 L852.4 1243.37 L852.9 1243.24 L853.4 1243.09 L853.9 1242.95 L854.4 1242.79 L854.9 1242.64 L855.4 1242.47 L855.9 1242.30 L856.4 1242.13 L856.9 1241.94 L857.4 1241.75 L857.9 1241.54 L858.4 1241.32 L858.9 1241.08 L859.4 1240.82 L859.9 1240.54 L860.4 1240.22 L860.9 1239.86 L861.4 1239.45 L861.9 1238.97 L862.4 1238.43 L862.9 1237.80 L863.4 1237.08 L863.9 1236.23 L864.4 1235.26 L864.9 1234.13 L865.4 1232.83 L865.9 1231.33 L866.4 1229.63 L866.9 1227.69 L867.4 1225.49 L867.9 1223.03 L868.4 1220.27 L868.9 1217.22 L869.4 1213.86 L869.9 1210.18 L870.4 1206.18 L870.9 1201.88 L871.4 1197.28 L871.9 1192.41 L872.4 1187.28 L872.9 1181.94 L873.4 1176.43 L873.9 1170.80 L874.4 1165.10 L874.9 1159.40 L875.4 1153.77 L875.9 1148.27 L876.4 1142.99 L876.9 1137.99 L877.4 1133.35 L877.9 1129.14 L878.4 1125.44 L878.9 1122.29 L879.4 1119.75 L879.9 1117.87 L880.4 1116.68 L880.9 1116.20 L881.4 1116.47 L881.9 1117.54 L882.4 1119.42 L882.9 1122.06 L883.4 1125.42 L883.9 1129.43 L884.4 1134.02 L884.9 1139.11 L885.4 1144.63 L885.9 1150.46 L886.4 1156.54 L886.9 1162.75 L887.4 1169.02 L887.9 1175.27 L888.4 1181.42 L888.9 1187.40 L889.4 1193.16 L889.9 1198.65 L890.4 1203.83 L890.9 1208.66 L891.4 1213.14 L891.9 1217.25 L892.4 1221.00 L892.9 1224.37 L893.4 1227.39 L893.9 1230.07 L894.4 1232.43 L894.9 1234.49 L895.4 1236.28 L895.9 1237.81 L896.4 1239.13 L896.9 1240.24 L897.4 1241.17 L897.9 1241.95 L898.4 1242.59 L898.9 1243.12 L899.4 1243.56 L899.9 1243.91 L900.4 1244.19 L900.9 1244.42 L901.4 1244.60 L901.9 1244.74 L901.9 1245.20" fill="#8e8e8e" stroke="#1a1a1a" stroke-width="0.9" stroke-linejoin="round"/>
<line x1="811.4" y1="1105.9" x2="951.2" y2="1105.9" stroke="#9a9a9a" stroke-width="1.2"/>
<line x1="811.4" y1="1105.9" x2="811.4" y2="1245.2" stroke="#6e6e6e" stroke-width="1.2"/>
<line x1="951.2" y1="1105.9" x2="951.2" y2="1245.2" stroke="#4a4a4a" stroke-width="1.2"/>
<line x1="810.9" y1="1245.2" x2="951.7" y2="1245.2" stroke="#4a4a4a" stroke-width="1.2"/>
<line x1="811.4" y1="1191.6" x2="888.96" y2="1191.6" stroke="#111" stroke-width="0.9"/>
<line x1="888.96" y1="1188.6" x2="888.96" y2="1194.6" stroke="#111" stroke-width="0.9"/>
<line x1="888.96" y1="1198.6" x2="951.2" y2="1198.6" stroke="#111" stroke-width="0.9"/>
<line x1="888.96" y1="1195.6" x2="888.96" y2="1201.6" stroke="#111" stroke-width="0.9"/>
<line x1="811.9" y1="1245.2" x2="811.9" y2="1248.7" stroke="#333" stroke-width="1"/>
<line x1="820.72" y1="1245.2" x2="820.72" y2="1247" stroke="#333" stroke-width="0.8"/>
<line x1="825.88" y1="1245.2" x2="825.88" y2="1247" stroke="#333" stroke-width="0.8"/>
<line x1="829.54" y1="1245.2" x2="829.54" y2="1247" stroke="#333" stroke-width="0.8"/>
<line x1="832.38" y1="1245.2" x2="832.38" y2="1247" stroke="#333" stroke-width="0.8"/>
<line x1="834.7" y1="1245.2" x2="834.7" y2="1247" stroke="#333" stroke-width="0.8"/>
<line x1="836.66" y1="1245.2" x2="836.66" y2="1247" stroke="#333" stroke-width="0.8"/>
<line x1="838.36" y1="1245.2" x2="838.36" y2="1247" stroke="#333" stroke-width="0.8"/>
<line x1="839.86" y1="1245.2" x2="839.86" y2="1247" stroke="#333" stroke-width="0.8"/>
<line x1="841.2" y1="1245.2" x2="841.2" y2="1248.7" stroke="#333" stroke-width="1"/>
<line x1="850.02" y1="1245.2" x2="850.02" y2="1247" stroke="#333" stroke-width="0.8"/>
<line x1="855.18" y1="1245.2" x2="855.18" y2="1247" stroke="#333" stroke-width="0.8"/>
<line x1="858.84" y1="1245.2" x2="858.84" y2="1247" stroke="#333" stroke-width="0.8"/>
<line x1="861.68" y1="1245.2" x2="861.68" y2="1247" stroke="#333" stroke-width="0.8"/>
<line x1="864" y1="1245.2" x2="864" y2="1247" stroke="#333" stroke-width="0.8"/>
<line x1="865.96" y1="1245.2" x2="865.96" y2="1247" stroke="#333" stroke-width="0.8"/>
<line x1="867.66" y1="1245.2" x2="867.66" y2="1247" stroke="#333" stroke-width="0.8"/>
<line x1="869.16" y1="1245.2" x2="869.16" y2="1247" stroke="#333" stroke-width="0.8"/>
<line x1="870.5" y1="1245.2" x2="870.5" y2="1248.7" stroke="#333" stroke-width="1"/>
<line x1="879.32" y1="1245.2" x2="879.32" y2="1247" stroke="#333" stroke-width="0.8"/>
<line x1="884.48" y1="1245.2" x2="884.48" y2="1247" stroke="#333" stroke-width="0.8"/>
<line x1="888.14" y1="1245.2" x2="888.14" y2="1247" stroke="#333" stroke-width="0.8"/>
<line x1="890.98" y1="1245.2" x2="890.98" y2="1247" stroke="#333" stroke-width="0.8"/>
<line x1="893.3" y1="1245.2" x2="893.3" y2="1247" stroke="#333" stroke-width="0.8"/>
<line x1="895.26" y1="1245.2" x2="895.26" y2="1247" stroke="#333" stroke-width="0.8"/>
<line x1="896.96" y1="1245.2" x2="896.96" y2="1247" stroke="#333" stroke-width="0.8"/>
<line x1="898.46" y1="1245.2" x2="898.46" y2="1247" stroke="#333" stroke-width="0.8"/>
<line x1="899.8" y1="1245.2" x2="899.8" y2="1248.7" stroke="#333" stroke-width="1"/>
<line x1="908.62" y1="1245.2" x2="908.62" y2="1247" stroke="#333" stroke-width="0.8"/>
<line x1="913.78" y1="1245.2" x2="913.78" y2="1247" stroke="#333" stroke-width="0.8"/>
<line x1="917.44" y1="1245.2" x2="917.44" y2="1247" stroke="#333" stroke-width="0.8"/>
<line x1="920.28" y1="1245.2" x2="920.28" y2="1247" stroke="#333" stroke-width="0.8"/>
<line x1="922.6" y1="1245.2" x2="922.6" y2="1247" stroke="#333" stroke-width="0.8"/>
<line x1="924.56" y1="1245.2" x2="924.56" y2="1247" stroke="#333" stroke-width="0.8"/>
<line x1="926.26" y1="1245.2" x2="926.26" y2="1247" stroke="#333" stroke-width="0.8"/>
<line x1="927.76" y1="1245.2" x2="927.76" y2="1247" stroke="#333" stroke-width="0.8"/>
<line x1="929.1" y1="1245.2" x2="929.1" y2="1248.7" stroke="#333" stroke-width="1"/>
<line x1="937.92" y1="1245.2" x2="937.92" y2="1247" stroke="#333" stroke-width="0.8"/>
<line x1="943.08" y1="1245.2" x2="943.08" y2="1247" stroke="#333" stroke-width="0.8"/>
<line x1="946.74" y1="1245.2" x2="946.74" y2="1247" stroke="#333" stroke-width="0.8"/>
<line x1="949.58" y1="1245.2" x2="949.58" y2="1247" stroke="#333" stroke-width="0.8"/>
<text transform="matrix(0.03521 0 0 0.03521 813.98 1262.43)" font-size="200" font-weight="bold" fill="#2a2a2a"  stroke="#2a2a2a" stroke-width="8.52" stroke-linejoin="round">10</text>
<text transform="matrix(0.03333 0 0 0.03333 821.71 1255.8)" font-size="200" font-weight="bold" fill="#2a2a2a"  stroke="#2a2a2a" stroke-width="9" stroke-linejoin="round">1</text>
<text transform="matrix(0.03521 0 0 0.03521 840.28 1262.43)" font-size="200" font-weight="bold" fill="#2a2a2a"  stroke="#2a2a2a" stroke-width="8.52" stroke-linejoin="round">10</text>
<text transform="matrix(0.03286 0 0 0.03286 848.18 1255.8)" font-size="200" font-weight="bold" fill="#2a2a2a"  stroke="#2a2a2a" stroke-width="9.13" stroke-linejoin="round">2</text>
<text transform="matrix(0.03521 0 0 0.03521 869.58 1262.43)" font-size="200" font-weight="bold" fill="#2a2a2a"  stroke="#2a2a2a" stroke-width="8.52" stroke-linejoin="round">10</text>
<text transform="matrix(0.03239 0 0 0.03239 877.55 1255.74)" font-size="200" font-weight="bold" fill="#2a2a2a"  stroke="#2a2a2a" stroke-width="9.26" stroke-linejoin="round">3</text>
<text transform="matrix(0.03521 0 0 0.03521 898.88 1262.43)" font-size="200" font-weight="bold" fill="#2a2a2a"  stroke="#2a2a2a" stroke-width="8.52" stroke-linejoin="round">10</text>
<text transform="matrix(0.03333 0 0 0.03333 906.91 1255.8)" font-size="200" font-weight="bold" fill="#2a2a2a"  stroke="#2a2a2a" stroke-width="9" stroke-linejoin="round">4</text>
<text transform="matrix(0.03521 0 0 0.03521 928.18 1262.43)" font-size="200" font-weight="bold" fill="#2a2a2a"  stroke="#2a2a2a" stroke-width="8.52" stroke-linejoin="round">10</text>
<text transform="matrix(0.03286 0 0 0.03286 936.12 1255.73)" font-size="200" font-weight="bold" fill="#2a2a2a"  stroke="#2a2a2a" stroke-width="9.13" stroke-linejoin="round">5</text>
<text transform="matrix(0.06578 0 0 0.06578 813.41 1128.34)" font-size="200" font-weight="normal" fill="#1a1aff"  stroke="#1a1aff" stroke-width="6.39" stroke-linejoin="round">(-)</text>
<text transform="matrix(0.0669 0 0 0.0669 813.6 1147.97)" font-size="200" font-weight="normal" fill="#1a1aff"  stroke="#1a1aff" stroke-width="6.28" stroke-linejoin="round">92.2</text>
<text transform="matrix(0.06578 0 0 0.06578 920.41 1128.34)" font-size="200" font-weight="normal" fill="#1a1aff"  stroke="#1a1aff" stroke-width="6.39" stroke-linejoin="round">(+)</text>
<text transform="matrix(0.0669 0 0 0.0669 910.58 1147.97)" font-size="200" font-weight="normal" fill="#1a1aff"  stroke="#1a1aff" stroke-width="6.28" stroke-linejoin="round">7.79</text>
<path d="M1020.7 1101.20 L1020.7 1100.77 L1021.2 1100.71 L1021.7 1100.64 L1022.2 1100.57 L1022.7 1100.49 L1023.2 1100.40 L1023.7 1100.31 L1024.2 1100.20 L1024.7 1100.09 L1025.2 1099.98 L1025.7 1099.85 L1026.2 1099.72 L1026.7 1099.58 L1027.2 1099.43 L1027.7 1099.27 L1028.2 1099.10 L1028.7 1098.91 L1029.2 1098.71 L1029.7 1098.50 L1030.2 1098.26 L1030.7 1097.99 L1031.2 1097.70 L1031.7 1097.35 L1032.2 1096.96 L1032.7 1096.49 L1033.2 1095.95 L1033.7 1095.30 L1034.2 1094.53 L1034.7 1093.61 L1035.2 1092.52 L1035.7 1091.23 L1036.2 1089.69 L1036.7 1087.89 L1037.2 1085.79 L1037.7 1083.35 L1038.2 1080.54 L1038.7 1077.34 L1039.2 1073.72 L1039.7 1069.66 L1040.2 1065.16 L1040.7 1060.22 L1041.2 1054.85 L1041.7 1049.09 L1042.2 1042.98 L1042.7 1036.57 L1043.2 1029.94 L1043.7 1023.18 L1044.2 1016.38 L1044.7 1009.66 L1045.2 1003.14 L1045.7 996.93 L1046.2 991.17 L1046.7 985.98 L1047.2 981.46 L1047.7 977.73 L1048.2 974.86 L1048.7 972.94 L1049.2 972.00 L1049.7 972.16 L1050.2 974.05 L1050.7 977.70 L1051.2 982.97 L1051.7 989.64 L1052.2 997.45 L1052.7 1006.09 L1053.2 1015.27 L1053.7 1024.69 L1054.2 1034.05 L1054.7 1043.11 L1055.2 1051.68 L1055.7 1059.59 L1056.2 1066.74 L1056.7 1073.07 L1057.2 1078.57 L1057.7 1083.25 L1058.2 1087.17 L1058.7 1090.39 L1059.2 1092.99 L1059.7 1095.06 L1060.2 1096.67 L1060.7 1097.90 L1061.2 1098.83 L1061.7 1099.53 L1062.2 1100.03 L1062.7 1100.40 L1063.2 1100.66 L1063.2 1101.20" fill="#8e8e8e" stroke="#1a1a1a" stroke-width="0.9" stroke-linejoin="round"/>
<line x1="980.7" y1="962.5" x2="1120.5" y2="962.5" stroke="#9a9a9a" stroke-width="1.2"/>
<line x1="980.7" y1="962.5" x2="980.7" y2="1101.2" stroke="#6e6e6e" stroke-width="1.2"/>
<line x1="1120.5" y1="962.5" x2="1120.5" y2="1101.2" stroke="#4a4a4a" stroke-width="1.2"/>
<line x1="980.2" y1="1101.2" x2="1121" y2="1101.2" stroke="#4a4a4a" stroke-width="1.2"/>
<line x1="980.7" y1="1063.6" x2="1055.33" y2="1063.6" stroke="#111" stroke-width="0.9"/>
<line x1="1055.33" y1="1060.6" x2="1055.33" y2="1066.6" stroke="#111" stroke-width="0.9"/>
<line x1="1055.33" y1="1071" x2="1120.5" y2="1071" stroke="#111" stroke-width="0.9"/>
<line x1="1055.33" y1="1068" x2="1055.33" y2="1074" stroke="#111" stroke-width="0.9"/>
<line x1="976.2" y1="1101.2" x2="980.7" y2="1101.2" stroke="#333" stroke-width="1"/>
<text transform="matrix(0.03521 0 0 0.03521 969.54 1104.23)" font-size="200" font-weight="normal" fill="#333"  stroke="#333" stroke-width="12.78" stroke-linejoin="round">0</text>
<line x1="978.5" y1="1094.55" x2="980.7" y2="1094.55" stroke="#333" stroke-width="1"/>
<line x1="978.5" y1="1087.9" x2="980.7" y2="1087.9" stroke="#333" stroke-width="1"/>
<line x1="978.5" y1="1081.25" x2="980.7" y2="1081.25" stroke="#333" stroke-width="1"/>
<line x1="978.5" y1="1074.6" x2="980.7" y2="1074.6" stroke="#333" stroke-width="1"/>
<line x1="976.2" y1="1067.95" x2="980.7" y2="1067.95" stroke="#333" stroke-width="1"/>
<text transform="matrix(0.03521 0 0 0.03521 961.72 1070.98)" font-size="200" font-weight="normal" fill="#333"  stroke="#333" stroke-width="12.78" stroke-linejoin="round">100</text>
<line x1="978.5" y1="1061.3" x2="980.7" y2="1061.3" stroke="#333" stroke-width="1"/>
<line x1="978.5" y1="1054.65" x2="980.7" y2="1054.65" stroke="#333" stroke-width="1"/>
<line x1="978.5" y1="1048" x2="980.7" y2="1048" stroke="#333" stroke-width="1"/>
<line x1="978.5" y1="1041.35" x2="980.7" y2="1041.35" stroke="#333" stroke-width="1"/>
<line x1="976.2" y1="1034.7" x2="980.7" y2="1034.7" stroke="#333" stroke-width="1"/>
<text transform="matrix(0.03521 0 0 0.03521 961.72 1037.73)" font-size="200" font-weight="normal" fill="#333"  stroke="#333" stroke-width="12.78" stroke-linejoin="round">200</text>
<line x1="978.5" y1="1028.05" x2="980.7" y2="1028.05" stroke="#333" stroke-width="1"/>
<line x1="978.5" y1="1021.4" x2="980.7" y2="1021.4" stroke="#333" stroke-width="1"/>
<line x1="978.5" y1="1014.75" x2="980.7" y2="1014.75" stroke="#333" stroke-width="1"/>
<line x1="978.5" y1="1008.1" x2="980.7" y2="1008.1" stroke="#333" stroke-width="1"/>
<line x1="976.2" y1="1001.45" x2="980.7" y2="1001.45" stroke="#333" stroke-width="1"/>
<text transform="matrix(0.03521 0 0 0.03521 961.72 1004.48)" font-size="200" font-weight="normal" fill="#333"  stroke="#333" stroke-width="12.78" stroke-linejoin="round">300</text>
<line x1="978.5" y1="994.8" x2="980.7" y2="994.8" stroke="#333" stroke-width="1"/>
<line x1="978.5" y1="988.15" x2="980.7" y2="988.15" stroke="#333" stroke-width="1"/>
<line x1="978.5" y1="981.5" x2="980.7" y2="981.5" stroke="#333" stroke-width="1"/>
<line x1="978.5" y1="974.85" x2="980.7" y2="974.85" stroke="#333" stroke-width="1"/>
<line x1="976.2" y1="968.2" x2="980.7" y2="968.2" stroke="#333" stroke-width="1"/>
<text transform="matrix(0.03521 0 0 0.03521 961.72 971.23)" font-size="200" font-weight="normal" fill="#333"  stroke="#333" stroke-width="12.78" stroke-linejoin="round">400</text>
<text transform="matrix(0.06578 0 0 0.06578 982.71 984.94)" font-size="200" font-weight="normal" fill="#1a1aff"  stroke="#1a1aff" stroke-width="6.39" stroke-linejoin="round">(-)</text>
<text transform="matrix(0.0669 0 0 0.0669 982.9 1004.57)" font-size="200" font-weight="normal" fill="#1a1aff"  stroke="#1a1aff" stroke-width="6.28" stroke-linejoin="round">89.7</text>
<text transform="matrix(0.06578 0 0 0.06578 1089.71 984.94)" font-size="200" font-weight="normal" fill="#1a1aff"  stroke="#1a1aff" stroke-width="6.39" stroke-linejoin="round">(+)</text>
<text transform="matrix(0.0669 0 0 0.0669 1079.81 1004.57)" font-size="200" font-weight="normal" fill="#1a1aff"  stroke="#1a1aff" stroke-width="6.28" stroke-linejoin="round">10.3</text>
<path d="M1165.8 1101.20 L1165.8 1100.80 L1166.3 1100.74 L1166.8 1100.68 L1167.3 1100.61 L1167.8 1100.53 L1168.3 1100.45 L1168.8 1100.36 L1169.3 1100.26 L1169.8 1100.15 L1170.3 1100.04 L1170.8 1099.92 L1171.3 1099.79 L1171.8 1099.65 L1172.3 1099.51 L1172.8 1099.35 L1173.3 1099.19 L1173.8 1099.01 L1174.3 1098.82 L1174.8 1098.61 L1175.3 1098.39 L1175.8 1098.14 L1176.3 1097.86 L1176.8 1097.54 L1177.3 1097.17 L1177.8 1096.74 L1178.3 1096.24 L1178.8 1095.65 L1179.3 1094.95 L1179.8 1094.11 L1180.3 1093.11 L1180.8 1091.93 L1181.3 1090.52 L1181.8 1088.87 L1182.3 1086.93 L1182.8 1084.67 L1183.3 1082.05 L1183.8 1079.06 L1184.3 1075.66 L1184.8 1071.83 L1185.3 1067.56 L1185.8 1062.85 L1186.3 1057.70 L1186.8 1052.15 L1187.3 1046.21 L1187.8 1039.95 L1188.3 1033.43 L1188.8 1026.73 L1189.3 1019.94 L1189.8 1013.18 L1190.3 1006.54 L1190.8 1000.16 L1191.3 994.16 L1191.8 988.66 L1192.3 983.78 L1192.8 979.64 L1193.3 976.32 L1193.8 973.90 L1194.3 972.45 L1194.8 972.00 L1195.3 972.94 L1195.8 975.69 L1196.3 980.15 L1196.8 986.12 L1197.3 993.37 L1197.8 1001.61 L1198.3 1010.55 L1198.8 1019.88 L1199.3 1029.29 L1199.8 1038.53 L1200.3 1047.37 L1200.8 1055.63 L1201.3 1063.17 L1201.8 1069.93 L1202.3 1075.85 L1202.8 1080.95 L1203.3 1085.25 L1203.8 1088.82 L1204.3 1091.73 L1204.8 1094.06 L1205.3 1095.89 L1205.8 1097.31 L1206.3 1098.39 L1206.8 1099.20 L1207.3 1099.79 L1207.8 1100.23 L1208.3 1100.53 L1208.8 1100.75 L1208.8 1101.20" fill="#8e8e8e" stroke="#1a1a1a" stroke-width="0.9" stroke-linejoin="round"/>
<line x1="1124.3" y1="962.5" x2="1264.1" y2="962.5" stroke="#9a9a9a" stroke-width="1.2"/>
<line x1="1124.3" y1="962.5" x2="1124.3" y2="1101.2" stroke="#6e6e6e" stroke-width="1.2"/>
<line x1="1264.1" y1="962.5" x2="1264.1" y2="1101.2" stroke="#4a4a4a" stroke-width="1.2"/>
<line x1="1123.8" y1="1101.2" x2="1264.6" y2="1101.2" stroke="#4a4a4a" stroke-width="1.2"/>
<line x1="1124.3" y1="1063.6" x2="1198.93" y2="1063.6" stroke="#111" stroke-width="0.9"/>
<line x1="1198.93" y1="1060.6" x2="1198.93" y2="1066.6" stroke="#111" stroke-width="0.9"/>
<line x1="1198.93" y1="1071" x2="1264.1" y2="1071" stroke="#111" stroke-width="0.9"/>
<line x1="1198.93" y1="1068" x2="1198.93" y2="1074" stroke="#111" stroke-width="0.9"/>
<text transform="matrix(0.06578 0 0 0.06578 1126.31 984.94)" font-size="200" font-weight="normal" fill="#1a1aff"  stroke="#1a1aff" stroke-width="6.39" stroke-linejoin="round">(-)</text>
<text transform="matrix(0.0669 0 0 0.0669 1126.5 1004.57)" font-size="200" font-weight="normal" fill="#1a1aff"  stroke="#1a1aff" stroke-width="6.28" stroke-linejoin="round">80.8</text>
<text transform="matrix(0.06578 0 0 0.06578 1233.31 984.94)" font-size="200" font-weight="normal" fill="#1a1aff"  stroke="#1a1aff" stroke-width="6.39" stroke-linejoin="round">(+)</text>
<text transform="matrix(0.0669 0 0 0.0669 1223.54 1004.57)" font-size="200" font-weight="normal" fill="#1a1aff"  stroke="#1a1aff" stroke-width="6.28" stroke-linejoin="round">19.2</text>
<path d="M1310.0 1101.20 L1310.0 1100.79 L1310.5 1100.73 L1311.0 1100.67 L1311.5 1100.60 L1312.0 1100.53 L1312.5 1100.44 L1313.0 1100.35 L1313.5 1100.26 L1314.0 1100.15 L1314.5 1100.04 L1315.0 1099.92 L1315.5 1099.79 L1316.0 1099.66 L1316.5 1099.52 L1317.0 1099.36 L1317.5 1099.20 L1318.0 1099.03 L1318.5 1098.84 L1319.0 1098.63 L1319.5 1098.41 L1320.0 1098.15 L1320.5 1097.87 L1321.0 1097.55 L1321.5 1097.17 L1322.0 1096.74 L1322.5 1096.22 L1323.0 1095.61 L1323.5 1094.89 L1324.0 1094.02 L1324.5 1093.00 L1325.0 1091.77 L1325.5 1090.33 L1326.0 1088.63 L1326.5 1086.65 L1327.0 1084.34 L1327.5 1081.69 L1328.0 1078.66 L1328.5 1075.23 L1329.0 1071.38 L1329.5 1067.11 L1330.0 1062.42 L1330.5 1057.31 L1331.0 1051.83 L1331.5 1046.00 L1332.0 1039.89 L1332.5 1033.55 L1333.0 1027.08 L1333.5 1020.56 L1334.0 1014.11 L1334.5 1007.83 L1335.0 1001.84 L1335.5 996.27 L1336.0 991.23 L1336.5 986.83 L1337.0 983.17 L1337.5 980.34 L1338.0 978.40 L1338.5 977.40 L1339.0 977.42 L1339.5 979.05 L1340.0 982.39 L1340.5 987.29 L1341.0 993.55 L1341.5 1000.94 L1342.0 1009.16 L1342.5 1017.92 L1343.0 1026.93 L1343.5 1035.92 L1344.0 1044.65 L1344.5 1052.92 L1345.0 1060.57 L1345.5 1067.50 L1346.0 1073.65 L1346.5 1079.00 L1347.0 1083.57 L1347.5 1087.40 L1348.0 1090.55 L1348.5 1093.10 L1349.0 1095.13 L1349.5 1096.71 L1350.0 1097.93 L1350.5 1098.85 L1351.0 1099.54 L1351.5 1100.04 L1352.0 1100.40 L1352.5 1100.66 L1352.5 1101.20" fill="#8e8e8e" stroke="#1a1a1a" stroke-width="0.9" stroke-linejoin="round"/>
<line x1="1268" y1="962.5" x2="1407.8" y2="962.5" stroke="#9a9a9a" stroke-width="1.2"/>
<line x1="1268" y1="962.5" x2="1268" y2="1101.2" stroke="#6e6e6e" stroke-width="1.2"/>
<line x1="1407.8" y1="962.5" x2="1407.8" y2="1101.2" stroke="#4a4a4a" stroke-width="1.2"/>
<line x1="1267.5" y1="1101.2" x2="1408.3" y2="1101.2" stroke="#4a4a4a" stroke-width="1.2"/>
<line x1="1268" y1="1063.6" x2="1342.63" y2="1063.6" stroke="#111" stroke-width="0.9"/>
<line x1="1342.63" y1="1060.6" x2="1342.63" y2="1066.6" stroke="#111" stroke-width="0.9"/>
<line x1="1342.63" y1="1071" x2="1407.8" y2="1071" stroke="#111" stroke-width="0.9"/>
<line x1="1342.63" y1="1068" x2="1342.63" y2="1074" stroke="#111" stroke-width="0.9"/>
<text transform="matrix(0.06578 0 0 0.06578 1270.01 984.94)" font-size="200" font-weight="normal" fill="#1a1aff"  stroke="#1a1aff" stroke-width="6.39" stroke-linejoin="round">(-)</text>
<text transform="matrix(0.06786 0 0 0.06786 1270.12 1004.56)" font-size="200" font-weight="normal" fill="#1a1aff"  stroke="#1a1aff" stroke-width="6.19" stroke-linejoin="round">77.5</text>
<text transform="matrix(0.06578 0 0 0.06578 1377.01 984.94)" font-size="200" font-weight="normal" fill="#1a1aff"  stroke="#1a1aff" stroke-width="6.39" stroke-linejoin="round">(+)</text>
<text transform="matrix(0.0669 0 0 0.0669 1367.11 1004.57)" font-size="200" font-weight="normal" fill="#1a1aff"  stroke="#1a1aff" stroke-width="6.28" stroke-linejoin="round">22.5</text>
<path d="M1017.7 1245.20 L1017.7 1244.79 L1018.2 1244.73 L1018.7 1244.67 L1019.2 1244.60 L1019.7 1244.52 L1020.2 1244.44 L1020.7 1244.35 L1021.2 1244.25 L1021.7 1244.15 L1022.2 1244.04 L1022.7 1243.92 L1023.2 1243.79 L1023.7 1243.65 L1024.2 1243.51 L1024.7 1243.35 L1025.2 1243.19 L1025.7 1243.02 L1026.2 1242.83 L1026.7 1242.62 L1027.2 1242.39 L1027.7 1242.14 L1028.2 1241.86 L1028.7 1241.53 L1029.2 1241.16 L1029.7 1240.72 L1030.2 1240.20 L1030.7 1239.59 L1031.2 1238.87 L1031.7 1238.00 L1032.2 1236.97 L1032.7 1235.75 L1033.2 1234.30 L1033.7 1232.60 L1034.2 1230.61 L1034.7 1228.30 L1035.2 1225.64 L1035.7 1222.60 L1036.2 1219.16 L1036.7 1215.30 L1037.2 1211.01 L1037.7 1206.29 L1038.2 1201.16 L1038.7 1195.65 L1039.2 1189.79 L1039.7 1183.63 L1040.2 1177.25 L1040.7 1170.73 L1041.2 1164.16 L1041.7 1157.65 L1042.2 1151.31 L1042.7 1145.27 L1043.2 1139.63 L1043.7 1134.53 L1044.2 1130.07 L1044.7 1126.35 L1045.2 1123.46 L1045.7 1121.47 L1046.2 1120.42 L1046.7 1120.40 L1047.2 1121.98 L1047.7 1125.27 L1048.2 1130.16 L1048.7 1136.43 L1049.2 1143.83 L1049.7 1152.09 L1050.2 1160.91 L1050.7 1169.99 L1051.2 1179.06 L1051.7 1187.87 L1052.2 1196.22 L1052.7 1203.96 L1053.2 1210.98 L1053.7 1217.21 L1054.2 1222.63 L1054.7 1227.27 L1055.2 1231.16 L1055.7 1234.36 L1056.2 1236.95 L1056.7 1239.01 L1057.2 1240.62 L1057.7 1241.86 L1058.2 1242.80 L1058.7 1243.50 L1059.2 1244.01 L1059.7 1244.38 L1060.2 1244.64 L1060.2 1245.20" fill="#8e8e8e" stroke="#1a1a1a" stroke-width="0.9" stroke-linejoin="round"/>
<line x1="980.7" y1="1105.9" x2="1120.5" y2="1105.9" stroke="#9a9a9a" stroke-width="1.2"/>
<line x1="980.7" y1="1105.9" x2="980.7" y2="1245.2" stroke="#6e6e6e" stroke-width="1.2"/>
<line x1="1120.5" y1="1105.9" x2="1120.5" y2="1245.2" stroke="#4a4a4a" stroke-width="1.2"/>
<line x1="980.2" y1="1245.2" x2="1121" y2="1245.2" stroke="#4a4a4a" stroke-width="1.2"/>
<line x1="980.7" y1="1208.2" x2="1053.86" y2="1208.2" stroke="#111" stroke-width="0.9"/>
<line x1="1053.86" y1="1205.2" x2="1053.86" y2="1211.2" stroke="#111" stroke-width="0.9"/>
<line x1="1053.86" y1="1216.3" x2="1120.5" y2="1216.3" stroke="#111" stroke-width="0.9"/>
<line x1="1053.86" y1="1213.3" x2="1053.86" y2="1219.3" stroke="#111" stroke-width="0.9"/>
<line x1="981.2" y1="1245.2" x2="981.2" y2="1248.7" stroke="#333" stroke-width="1"/>
<line x1="990.02" y1="1245.2" x2="990.02" y2="1247" stroke="#333" stroke-width="0.8"/>
<line x1="995.18" y1="1245.2" x2="995.18" y2="1247" stroke="#333" stroke-width="0.8"/>
<line x1="998.84" y1="1245.2" x2="998.84" y2="1247" stroke="#333" stroke-width="0.8"/>
<line x1="1001.68" y1="1245.2" x2="1001.68" y2="1247" stroke="#333" stroke-width="0.8"/>
<line x1="1004" y1="1245.2" x2="1004" y2="1247" stroke="#333" stroke-width="0.8"/>
<line x1="1005.96" y1="1245.2" x2="1005.96" y2="1247" stroke="#333" stroke-width="0.8"/>
<line x1="1007.66" y1="1245.2" x2="1007.66" y2="1247" stroke="#333" stroke-width="0.8"/>
<line x1="1009.16" y1="1245.2" x2="1009.16" y2="1247" stroke="#333" stroke-width="0.8"/>
<line x1="1010.5" y1="1245.2" x2="1010.5" y2="1248.7" stroke="#333" stroke-width="1"/>
<line x1="1019.32" y1="1245.2" x2="1019.32" y2="1247" stroke="#333" stroke-width="0.8"/>
<line x1="1024.48" y1="1245.2" x2="1024.48" y2="1247" stroke="#333" stroke-width="0.8"/>
<line x1="1028.14" y1="1245.2" x2="1028.14" y2="1247" stroke="#333" stroke-width="0.8"/>
<line x1="1030.98" y1="1245.2" x2="1030.98" y2="1247" stroke="#333" stroke-width="0.8"/>
<line x1="1033.3" y1="1245.2" x2="1033.3" y2="1247" stroke="#333" stroke-width="0.8"/>
<line x1="1035.26" y1="1245.2" x2="1035.26" y2="1247" stroke="#333" stroke-width="0.8"/>
<line x1="1036.96" y1="1245.2" x2="1036.96" y2="1247" stroke="#333" stroke-width="0.8"/>
<line x1="1038.46" y1="1245.2" x2="1038.46" y2="1247" stroke="#333" stroke-width="0.8"/>
<line x1="1039.8" y1="1245.2" x2="1039.8" y2="1248.7" stroke="#333" stroke-width="1"/>
<line x1="1048.62" y1="1245.2" x2="1048.62" y2="1247" stroke="#333" stroke-width="0.8"/>
<line x1="1053.78" y1="1245.2" x2="1053.78" y2="1247" stroke="#333" stroke-width="0.8"/>
<line x1="1057.44" y1="1245.2" x2="1057.44" y2="1247" stroke="#333" stroke-width="0.8"/>
<line x1="1060.28" y1="1245.2" x2="1060.28" y2="1247" stroke="#333" stroke-width="0.8"/>
<line x1="1062.6" y1="1245.2" x2="1062.6" y2="1247" stroke="#333" stroke-width="0.8"/>
<line x1="1064.56" y1="1245.2" x2="1064.56" y2="1247" stroke="#333" stroke-width="0.8"/>
<line x1="1066.26" y1="1245.2" x2="1066.26" y2="1247" stroke="#333" stroke-width="0.8"/>
<line x1="1067.76" y1="1245.2" x2="1067.76" y2="1247" stroke="#333" stroke-width="0.8"/>
<line x1="1069.1" y1="1245.2" x2="1069.1" y2="1248.7" stroke="#333" stroke-width="1"/>
<line x1="1077.92" y1="1245.2" x2="1077.92" y2="1247" stroke="#333" stroke-width="0.8"/>
<line x1="1083.08" y1="1245.2" x2="1083.08" y2="1247" stroke="#333" stroke-width="0.8"/>
<line x1="1086.74" y1="1245.2" x2="1086.74" y2="1247" stroke="#333" stroke-width="0.8"/>
<line x1="1089.58" y1="1245.2" x2="1089.58" y2="1247" stroke="#333" stroke-width="0.8"/>
<line x1="1091.9" y1="1245.2" x2="1091.9" y2="1247" stroke="#333" stroke-width="0.8"/>
<line x1="1093.86" y1="1245.2" x2="1093.86" y2="1247" stroke="#333" stroke-width="0.8"/>
<line x1="1095.56" y1="1245.2" x2="1095.56" y2="1247" stroke="#333" stroke-width="0.8"/>
<line x1="1097.06" y1="1245.2" x2="1097.06" y2="1247" stroke="#333" stroke-width="0.8"/>
<line x1="1098.4" y1="1245.2" x2="1098.4" y2="1248.7" stroke="#333" stroke-width="1"/>
<line x1="1107.22" y1="1245.2" x2="1107.22" y2="1247" stroke="#333" stroke-width="0.8"/>
<line x1="1112.38" y1="1245.2" x2="1112.38" y2="1247" stroke="#333" stroke-width="0.8"/>
<line x1="1116.04" y1="1245.2" x2="1116.04" y2="1247" stroke="#333" stroke-width="0.8"/>
<line x1="1118.88" y1="1245.2" x2="1118.88" y2="1247" stroke="#333" stroke-width="0.8"/>
<text transform="matrix(0.03521 0 0 0.03521 983.28 1262.43)" font-size="200" font-weight="bold" fill="#2a2a2a"  stroke="#2a2a2a" stroke-width="8.52" stroke-linejoin="round">10</text>
<text transform="matrix(0.03333 0 0 0.03333 991.01 1255.8)" font-size="200" font-weight="bold" fill="#2a2a2a"  stroke="#2a2a2a" stroke-width="9" stroke-linejoin="round">1</text>
<text transform="matrix(0.03521 0 0 0.03521 1009.58 1262.43)" font-size="200" font-weight="bold" fill="#2a2a2a"  stroke="#2a2a2a" stroke-width="8.52" stroke-linejoin="round">10</text>
<text transform="matrix(0.03286 0 0 0.03286 1017.48 1255.8)" font-size="200" font-weight="bold" fill="#2a2a2a"  stroke="#2a2a2a" stroke-width="9.13" stroke-linejoin="round">2</text>
<text transform="matrix(0.03521 0 0 0.03521 1038.88 1262.43)" font-size="200" font-weight="bold" fill="#2a2a2a"  stroke="#2a2a2a" stroke-width="8.52" stroke-linejoin="round">10</text>
<text transform="matrix(0.03239 0 0 0.03239 1046.85 1255.74)" font-size="200" font-weight="bold" fill="#2a2a2a"  stroke="#2a2a2a" stroke-width="9.26" stroke-linejoin="round">3</text>
<text transform="matrix(0.03521 0 0 0.03521 1068.18 1262.43)" font-size="200" font-weight="bold" fill="#2a2a2a"  stroke="#2a2a2a" stroke-width="8.52" stroke-linejoin="round">10</text>
<text transform="matrix(0.03333 0 0 0.03333 1076.21 1255.8)" font-size="200" font-weight="bold" fill="#2a2a2a"  stroke="#2a2a2a" stroke-width="9" stroke-linejoin="round">4</text>
<text transform="matrix(0.03521 0 0 0.03521 1097.48 1262.43)" font-size="200" font-weight="bold" fill="#2a2a2a"  stroke="#2a2a2a" stroke-width="8.52" stroke-linejoin="round">10</text>
<text transform="matrix(0.03286 0 0 0.03286 1105.42 1255.73)" font-size="200" font-weight="bold" fill="#2a2a2a"  stroke="#2a2a2a" stroke-width="9.13" stroke-linejoin="round">5</text>
<line x1="976.2" y1="1245.2" x2="980.7" y2="1245.2" stroke="#333" stroke-width="1"/>
<text transform="matrix(0.03521 0 0 0.03521 969.54 1248.23)" font-size="200" font-weight="normal" fill="#333"  stroke="#333" stroke-width="12.78" stroke-linejoin="round">0</text>
<line x1="978.5" y1="1238.58" x2="980.7" y2="1238.58" stroke="#333" stroke-width="1"/>
<line x1="978.5" y1="1231.96" x2="980.7" y2="1231.96" stroke="#333" stroke-width="1"/>
<line x1="978.5" y1="1225.34" x2="980.7" y2="1225.34" stroke="#333" stroke-width="1"/>
<line x1="978.5" y1="1218.72" x2="980.7" y2="1218.72" stroke="#333" stroke-width="1"/>
<line x1="976.2" y1="1212.1" x2="980.7" y2="1212.1" stroke="#333" stroke-width="1"/>
<text transform="matrix(0.03521 0 0 0.03521 961.72 1215.13)" font-size="200" font-weight="normal" fill="#333"  stroke="#333" stroke-width="12.78" stroke-linejoin="round">100</text>
<line x1="978.5" y1="1205.48" x2="980.7" y2="1205.48" stroke="#333" stroke-width="1"/>
<line x1="978.5" y1="1198.86" x2="980.7" y2="1198.86" stroke="#333" stroke-width="1"/>
<line x1="978.5" y1="1192.24" x2="980.7" y2="1192.24" stroke="#333" stroke-width="1"/>
<line x1="978.5" y1="1185.62" x2="980.7" y2="1185.62" stroke="#333" stroke-width="1"/>
<line x1="976.2" y1="1179" x2="980.7" y2="1179" stroke="#333" stroke-width="1"/>
<text transform="matrix(0.03521 0 0 0.03521 961.72 1182.03)" font-size="200" font-weight="normal" fill="#333"  stroke="#333" stroke-width="12.78" stroke-linejoin="round">200</text>
<line x1="978.5" y1="1172.38" x2="980.7" y2="1172.38" stroke="#333" stroke-width="1"/>
<line x1="978.5" y1="1165.76" x2="980.7" y2="1165.76" stroke="#333" stroke-width="1"/>
<line x1="978.5" y1="1159.14" x2="980.7" y2="1159.14" stroke="#333" stroke-width="1"/>
<line x1="978.5" y1="1152.52" x2="980.7" y2="1152.52" stroke="#333" stroke-width="1"/>
<line x1="976.2" y1="1145.9" x2="980.7" y2="1145.9" stroke="#333" stroke-width="1"/>
<text transform="matrix(0.03521 0 0 0.03521 961.72 1148.93)" font-size="200" font-weight="normal" fill="#333"  stroke="#333" stroke-width="12.78" stroke-linejoin="round">300</text>
<line x1="978.5" y1="1139.28" x2="980.7" y2="1139.28" stroke="#333" stroke-width="1"/>
<line x1="978.5" y1="1132.66" x2="980.7" y2="1132.66" stroke="#333" stroke-width="1"/>
<line x1="978.5" y1="1126.04" x2="980.7" y2="1126.04" stroke="#333" stroke-width="1"/>
<line x1="978.5" y1="1119.42" x2="980.7" y2="1119.42" stroke="#333" stroke-width="1"/>
<line x1="976.2" y1="1112.8" x2="980.7" y2="1112.8" stroke="#333" stroke-width="1"/>
<text transform="matrix(0.03521 0 0 0.03521 961.72 1115.83)" font-size="200" font-weight="normal" fill="#333"  stroke="#333" stroke-width="12.78" stroke-linejoin="round">400</text>
<line x1="978.5" y1="1106.18" x2="980.7" y2="1106.18" stroke="#333" stroke-width="1"/>
<text transform="matrix(0.06578 0 0 0.06578 982.71 1128.34)" font-size="200" font-weight="normal" fill="#1a1aff"  stroke="#1a1aff" stroke-width="6.39" stroke-linejoin="round">(-)</text>
<text transform="matrix(0.0669 0 0 0.0669 982.9 1147.97)" font-size="200" font-weight="normal" fill="#1a1aff"  stroke="#1a1aff" stroke-width="6.28" stroke-linejoin="round">90.1</text>
<text transform="matrix(0.06578 0 0 0.06578 1089.71 1128.34)" font-size="200" font-weight="normal" fill="#1a1aff"  stroke="#1a1aff" stroke-width="6.39" stroke-linejoin="round">(+)</text>
<text transform="matrix(0.0669 0 0 0.0669 1079.81 1147.97)" font-size="200" font-weight="normal" fill="#1a1aff"  stroke="#1a1aff" stroke-width="6.28" stroke-linejoin="round">9.93</text>
<path d="M1163.8 1245.20 L1163.8 1244.79 L1164.3 1244.73 L1164.8 1244.66 L1165.3 1244.59 L1165.8 1244.51 L1166.3 1244.43 L1166.8 1244.34 L1167.3 1244.24 L1167.8 1244.13 L1168.3 1244.02 L1168.8 1243.89 L1169.3 1243.76 L1169.8 1243.62 L1170.3 1243.47 L1170.8 1243.32 L1171.3 1243.15 L1171.8 1242.97 L1172.3 1242.77 L1172.8 1242.56 L1173.3 1242.33 L1173.8 1242.08 L1174.3 1241.79 L1174.8 1241.46 L1175.3 1241.09 L1175.8 1240.65 L1176.3 1240.13 L1176.8 1239.52 L1177.3 1238.80 L1177.8 1237.94 L1178.3 1236.91 L1178.8 1235.69 L1179.3 1234.25 L1179.8 1232.55 L1180.3 1230.55 L1180.8 1228.23 L1181.3 1225.55 L1181.8 1222.49 L1182.3 1219.00 L1182.8 1215.09 L1183.3 1210.73 L1183.8 1205.92 L1184.3 1200.67 L1184.8 1195.01 L1185.3 1188.98 L1185.8 1182.62 L1186.3 1176.01 L1186.8 1169.22 L1187.3 1162.36 L1187.8 1155.52 L1188.3 1148.83 L1188.8 1142.42 L1189.3 1136.40 L1189.8 1130.90 L1190.3 1126.04 L1190.8 1121.93 L1191.3 1118.66 L1191.8 1116.31 L1192.3 1114.95 L1192.8 1114.60 L1193.3 1115.74 L1193.8 1118.70 L1194.3 1123.37 L1194.8 1129.55 L1195.3 1137.00 L1195.8 1145.42 L1196.3 1154.51 L1196.8 1163.96 L1197.3 1173.47 L1197.8 1182.78 L1198.3 1191.66 L1198.8 1199.94 L1199.3 1207.49 L1199.8 1214.24 L1200.3 1220.14 L1200.8 1225.21 L1201.3 1229.48 L1201.8 1233.02 L1202.3 1235.89 L1202.8 1238.19 L1203.3 1240.00 L1203.8 1241.39 L1204.3 1242.45 L1204.8 1243.25 L1205.3 1243.83 L1205.8 1244.25 L1206.3 1244.55 L1206.8 1244.76 L1206.8 1245.20" fill="#8e8e8e" stroke="#1a1a1a" stroke-width="0.9" stroke-linejoin="round"/>
<line x1="1124.3" y1="1105.9" x2="1264.1" y2="1105.9" stroke="#9a9a9a" stroke-width="1.2"/>
<line x1="1124.3" y1="1105.9" x2="1124.3" y2="1245.2" stroke="#6e6e6e" stroke-width="1.2"/>
<line x1="1264.1" y1="1105.9" x2="1264.1" y2="1245.2" stroke="#4a4a4a" stroke-width="1.2"/>
<line x1="1123.8" y1="1245.2" x2="1264.6" y2="1245.2" stroke="#4a4a4a" stroke-width="1.2"/>
<line x1="1124.3" y1="1208.2" x2="1197.76" y2="1208.2" stroke="#111" stroke-width="0.9"/>
<line x1="1197.76" y1="1205.2" x2="1197.76" y2="1211.2" stroke="#111" stroke-width="0.9"/>
<line x1="1197.76" y1="1216.3" x2="1264.1" y2="1216.3" stroke="#111" stroke-width="0.9"/>
<line x1="1197.76" y1="1213.3" x2="1197.76" y2="1219.3" stroke="#111" stroke-width="0.9"/>
<line x1="1124.8" y1="1245.2" x2="1124.8" y2="1248.7" stroke="#333" stroke-width="1"/>
<line x1="1133.62" y1="1245.2" x2="1133.62" y2="1247" stroke="#333" stroke-width="0.8"/>
<line x1="1138.78" y1="1245.2" x2="1138.78" y2="1247" stroke="#333" stroke-width="0.8"/>
<line x1="1142.44" y1="1245.2" x2="1142.44" y2="1247" stroke="#333" stroke-width="0.8"/>
<line x1="1145.28" y1="1245.2" x2="1145.28" y2="1247" stroke="#333" stroke-width="0.8"/>
<line x1="1147.6" y1="1245.2" x2="1147.6" y2="1247" stroke="#333" stroke-width="0.8"/>
<line x1="1149.56" y1="1245.2" x2="1149.56" y2="1247" stroke="#333" stroke-width="0.8"/>
<line x1="1151.26" y1="1245.2" x2="1151.26" y2="1247" stroke="#333" stroke-width="0.8"/>
<line x1="1152.76" y1="1245.2" x2="1152.76" y2="1247" stroke="#333" stroke-width="0.8"/>
<line x1="1154.1" y1="1245.2" x2="1154.1" y2="1248.7" stroke="#333" stroke-width="1"/>
<line x1="1162.92" y1="1245.2" x2="1162.92" y2="1247" stroke="#333" stroke-width="0.8"/>
<line x1="1168.08" y1="1245.2" x2="1168.08" y2="1247" stroke="#333" stroke-width="0.8"/>
<line x1="1171.74" y1="1245.2" x2="1171.74" y2="1247" stroke="#333" stroke-width="0.8"/>
<line x1="1174.58" y1="1245.2" x2="1174.58" y2="1247" stroke="#333" stroke-width="0.8"/>
<line x1="1176.9" y1="1245.2" x2="1176.9" y2="1247" stroke="#333" stroke-width="0.8"/>
<line x1="1178.86" y1="1245.2" x2="1178.86" y2="1247" stroke="#333" stroke-width="0.8"/>
<line x1="1180.56" y1="1245.2" x2="1180.56" y2="1247" stroke="#333" stroke-width="0.8"/>
<line x1="1182.06" y1="1245.2" x2="1182.06" y2="1247" stroke="#333" stroke-width="0.8"/>
<line x1="1183.4" y1="1245.2" x2="1183.4" y2="1248.7" stroke="#333" stroke-width="1"/>
<line x1="1192.22" y1="1245.2" x2="1192.22" y2="1247" stroke="#333" stroke-width="0.8"/>
<line x1="1197.38" y1="1245.2" x2="1197.38" y2="1247" stroke="#333" stroke-width="0.8"/>
<line x1="1201.04" y1="1245.2" x2="1201.04" y2="1247" stroke="#333" stroke-width="0.8"/>
<line x1="1203.88" y1="1245.2" x2="1203.88" y2="1247" stroke="#333" stroke-width="0.8"/>
<line x1="1206.2" y1="1245.2" x2="1206.2" y2="1247" stroke="#333" stroke-width="0.8"/>
<line x1="1208.16" y1="1245.2" x2="1208.16" y2="1247" stroke="#333" stroke-width="0.8"/>
<line x1="1209.86" y1="1245.2" x2="1209.86" y2="1247" stroke="#333" stroke-width="0.8"/>
<line x1="1211.36" y1="1245.2" x2="1211.36" y2="1247" stroke="#333" stroke-width="0.8"/>
<line x1="1212.7" y1="1245.2" x2="1212.7" y2="1248.7" stroke="#333" stroke-width="1"/>
<line x1="1221.52" y1="1245.2" x2="1221.52" y2="1247" stroke="#333" stroke-width="0.8"/>
<line x1="1226.68" y1="1245.2" x2="1226.68" y2="1247" stroke="#333" stroke-width="0.8"/>
<line x1="1230.34" y1="1245.2" x2="1230.34" y2="1247" stroke="#333" stroke-width="0.8"/>
<line x1="1233.18" y1="1245.2" x2="1233.18" y2="1247" stroke="#333" stroke-width="0.8"/>
<line x1="1235.5" y1="1245.2" x2="1235.5" y2="1247" stroke="#333" stroke-width="0.8"/>
<line x1="1237.46" y1="1245.2" x2="1237.46" y2="1247" stroke="#333" stroke-width="0.8"/>
<line x1="1239.16" y1="1245.2" x2="1239.16" y2="1247" stroke="#333" stroke-width="0.8"/>
<line x1="1240.66" y1="1245.2" x2="1240.66" y2="1247" stroke="#333" stroke-width="0.8"/>
<line x1="1242" y1="1245.2" x2="1242" y2="1248.7" stroke="#333" stroke-width="1"/>
<line x1="1250.82" y1="1245.2" x2="1250.82" y2="1247" stroke="#333" stroke-width="0.8"/>
<line x1="1255.98" y1="1245.2" x2="1255.98" y2="1247" stroke="#333" stroke-width="0.8"/>
<line x1="1259.64" y1="1245.2" x2="1259.64" y2="1247" stroke="#333" stroke-width="0.8"/>
<line x1="1262.48" y1="1245.2" x2="1262.48" y2="1247" stroke="#333" stroke-width="0.8"/>
<text transform="matrix(0.03521 0 0 0.03521 1126.88 1262.43)" font-size="200" font-weight="bold" fill="#2a2a2a"  stroke="#2a2a2a" stroke-width="8.52" stroke-linejoin="round">10</text>
<text transform="matrix(0.03333 0 0 0.03333 1134.61 1255.8)" font-size="200" font-weight="bold" fill="#2a2a2a"  stroke="#2a2a2a" stroke-width="9" stroke-linejoin="round">1</text>
<text transform="matrix(0.03521 0 0 0.03521 1153.18 1262.43)" font-size="200" font-weight="bold" fill="#2a2a2a"  stroke="#2a2a2a" stroke-width="8.52" stroke-linejoin="round">10</text>
<text transform="matrix(0.03286 0 0 0.03286 1161.08 1255.8)" font-size="200" font-weight="bold" fill="#2a2a2a"  stroke="#2a2a2a" stroke-width="9.13" stroke-linejoin="round">2</text>
<text transform="matrix(0.03521 0 0 0.03521 1182.48 1262.43)" font-size="200" font-weight="bold" fill="#2a2a2a"  stroke="#2a2a2a" stroke-width="8.52" stroke-linejoin="round">10</text>
<text transform="matrix(0.03239 0 0 0.03239 1190.45 1255.74)" font-size="200" font-weight="bold" fill="#2a2a2a"  stroke="#2a2a2a" stroke-width="9.26" stroke-linejoin="round">3</text>
<text transform="matrix(0.03521 0 0 0.03521 1211.78 1262.43)" font-size="200" font-weight="bold" fill="#2a2a2a"  stroke="#2a2a2a" stroke-width="8.52" stroke-linejoin="round">10</text>
<text transform="matrix(0.03333 0 0 0.03333 1219.81 1255.8)" font-size="200" font-weight="bold" fill="#2a2a2a"  stroke="#2a2a2a" stroke-width="9" stroke-linejoin="round">4</text>
<text transform="matrix(0.03521 0 0 0.03521 1241.08 1262.43)" font-size="200" font-weight="bold" fill="#2a2a2a"  stroke="#2a2a2a" stroke-width="8.52" stroke-linejoin="round">10</text>
<text transform="matrix(0.03286 0 0 0.03286 1249.02 1255.73)" font-size="200" font-weight="bold" fill="#2a2a2a"  stroke="#2a2a2a" stroke-width="9.13" stroke-linejoin="round">5</text>
<text transform="matrix(0.06578 0 0 0.06578 1126.31 1128.34)" font-size="200" font-weight="normal" fill="#1a1aff"  stroke="#1a1aff" stroke-width="6.39" stroke-linejoin="round">(-)</text>
<text transform="matrix(0.0669 0 0 0.0669 1126.5 1147.97)" font-size="200" font-weight="normal" fill="#1a1aff"  stroke="#1a1aff" stroke-width="6.28" stroke-linejoin="round">88.1</text>
<text transform="matrix(0.06578 0 0 0.06578 1233.31 1128.34)" font-size="200" font-weight="normal" fill="#1a1aff"  stroke="#1a1aff" stroke-width="6.39" stroke-linejoin="round">(+)</text>
<text transform="matrix(0.0669 0 0 0.0669 1224.48 1147.97)" font-size="200" font-weight="normal" fill="#1a1aff"  stroke="#1a1aff" stroke-width="6.28" stroke-linejoin="round">11.9</text>
<path d="M1308.0 1245.20 L1308.0 1244.77 L1308.5 1244.71 L1309.0 1244.65 L1309.5 1244.57 L1310.0 1244.49 L1310.5 1244.41 L1311.0 1244.31 L1311.5 1244.21 L1312.0 1244.10 L1312.5 1243.99 L1313.0 1243.87 L1313.5 1243.73 L1314.0 1243.59 L1314.5 1243.44 L1315.0 1243.29 L1315.5 1243.12 L1316.0 1242.93 L1316.5 1242.74 L1317.0 1242.52 L1317.5 1242.29 L1318.0 1242.02 L1318.5 1241.73 L1319.0 1241.39 L1319.5 1241.00 L1320.0 1240.54 L1320.5 1240.00 L1321.0 1239.35 L1321.5 1238.59 L1322.0 1237.68 L1322.5 1236.60 L1323.0 1235.32 L1323.5 1233.80 L1324.0 1232.02 L1324.5 1229.93 L1325.0 1227.52 L1325.5 1224.73 L1326.0 1221.56 L1326.5 1217.97 L1327.0 1213.95 L1327.5 1209.49 L1328.0 1204.60 L1328.5 1199.28 L1329.0 1193.58 L1329.5 1187.52 L1330.0 1181.17 L1330.5 1174.60 L1331.0 1167.90 L1331.5 1161.17 L1332.0 1154.51 L1332.5 1148.05 L1333.0 1141.90 L1333.5 1136.20 L1334.0 1131.05 L1334.5 1126.57 L1335.0 1122.87 L1335.5 1120.04 L1336.0 1118.13 L1336.5 1117.20 L1337.0 1117.36 L1337.5 1119.23 L1338.0 1122.85 L1338.5 1128.07 L1339.0 1134.68 L1339.5 1142.41 L1340.0 1150.98 L1340.5 1160.07 L1341.0 1169.40 L1341.5 1178.67 L1342.0 1187.65 L1342.5 1196.14 L1343.0 1203.97 L1343.5 1211.06 L1344.0 1217.33 L1344.5 1222.78 L1345.0 1227.42 L1345.5 1231.30 L1346.0 1234.49 L1346.5 1237.07 L1347.0 1239.11 L1347.5 1240.71 L1348.0 1241.93 L1348.5 1242.86 L1349.0 1243.54 L1349.5 1244.04 L1350.0 1244.40 L1350.5 1244.66 L1350.5 1245.20" fill="#8e8e8e" stroke="#1a1a1a" stroke-width="0.9" stroke-linejoin="round"/>
<line x1="1268" y1="1105.9" x2="1407.8" y2="1105.9" stroke="#9a9a9a" stroke-width="1.2"/>
<line x1="1268" y1="1105.9" x2="1268" y2="1245.2" stroke="#6e6e6e" stroke-width="1.2"/>
<line x1="1407.8" y1="1105.9" x2="1407.8" y2="1245.2" stroke="#4a4a4a" stroke-width="1.2"/>
<line x1="1267.5" y1="1245.2" x2="1408.3" y2="1245.2" stroke="#4a4a4a" stroke-width="1.2"/>
<line x1="1268" y1="1208.2" x2="1341.16" y2="1208.2" stroke="#111" stroke-width="0.9"/>
<line x1="1341.16" y1="1205.2" x2="1341.16" y2="1211.2" stroke="#111" stroke-width="0.9"/>
<line x1="1341.16" y1="1216.3" x2="1407.8" y2="1216.3" stroke="#111" stroke-width="0.9"/>
<line x1="1341.16" y1="1213.3" x2="1341.16" y2="1219.3" stroke="#111" stroke-width="0.9"/>
<line x1="1268.5" y1="1245.2" x2="1268.5" y2="1248.7" stroke="#333" stroke-width="1"/>
<line x1="1277.32" y1="1245.2" x2="1277.32" y2="1247" stroke="#333" stroke-width="0.8"/>
<line x1="1282.48" y1="1245.2" x2="1282.48" y2="1247" stroke="#333" stroke-width="0.8"/>
<line x1="1286.14" y1="1245.2" x2="1286.14" y2="1247" stroke="#333" stroke-width="0.8"/>
<line x1="1288.98" y1="1245.2" x2="1288.98" y2="1247" stroke="#333" stroke-width="0.8"/>
<line x1="1291.3" y1="1245.2" x2="1291.3" y2="1247" stroke="#333" stroke-width="0.8"/>
<line x1="1293.26" y1="1245.2" x2="1293.26" y2="1247" stroke="#333" stroke-width="0.8"/>
<line x1="1294.96" y1="1245.2" x2="1294.96" y2="1247" stroke="#333" stroke-width="0.8"/>
<line x1="1296.46" y1="1245.2" x2="1296.46" y2="1247" stroke="#333" stroke-width="0.8"/>
<line x1="1297.8" y1="1245.2" x2="1297.8" y2="1248.7" stroke="#333" stroke-width="1"/>
<line x1="1306.62" y1="1245.2" x2="1306.62" y2="1247" stroke="#333" stroke-width="0.8"/>
<line x1="1311.78" y1="1245.2" x2="1311.78" y2="1247" stroke="#333" stroke-width="0.8"/>
<line x1="1315.44" y1="1245.2" x2="1315.44" y2="1247" stroke="#333" stroke-width="0.8"/>
<line x1="1318.28" y1="1245.2" x2="1318.28" y2="1247" stroke="#333" stroke-width="0.8"/>
<line x1="1320.6" y1="1245.2" x2="1320.6" y2="1247" stroke="#333" stroke-width="0.8"/>
<line x1="1322.56" y1="1245.2" x2="1322.56" y2="1247" stroke="#333" stroke-width="0.8"/>
<line x1="1324.26" y1="1245.2" x2="1324.26" y2="1247" stroke="#333" stroke-width="0.8"/>
<line x1="1325.76" y1="1245.2" x2="1325.76" y2="1247" stroke="#333" stroke-width="0.8"/>
<line x1="1327.1" y1="1245.2" x2="1327.1" y2="1248.7" stroke="#333" stroke-width="1"/>
<line x1="1335.92" y1="1245.2" x2="1335.92" y2="1247" stroke="#333" stroke-width="0.8"/>
<line x1="1341.08" y1="1245.2" x2="1341.08" y2="1247" stroke="#333" stroke-width="0.8"/>
<line x1="1344.74" y1="1245.2" x2="1344.74" y2="1247" stroke="#333" stroke-width="0.8"/>
<line x1="1347.58" y1="1245.2" x2="1347.58" y2="1247" stroke="#333" stroke-width="0.8"/>
<line x1="1349.9" y1="1245.2" x2="1349.9" y2="1247" stroke="#333" stroke-width="0.8"/>
<line x1="1351.86" y1="1245.2" x2="1351.86" y2="1247" stroke="#333" stroke-width="0.8"/>
<line x1="1353.56" y1="1245.2" x2="1353.56" y2="1247" stroke="#333" stroke-width="0.8"/>
<line x1="1355.06" y1="1245.2" x2="1355.06" y2="1247" stroke="#333" stroke-width="0.8"/>
<line x1="1356.4" y1="1245.2" x2="1356.4" y2="1248.7" stroke="#333" stroke-width="1"/>
<line x1="1365.22" y1="1245.2" x2="1365.22" y2="1247" stroke="#333" stroke-width="0.8"/>
<line x1="1370.38" y1="1245.2" x2="1370.38" y2="1247" stroke="#333" stroke-width="0.8"/>
<line x1="1374.04" y1="1245.2" x2="1374.04" y2="1247" stroke="#333" stroke-width="0.8"/>
<line x1="1376.88" y1="1245.2" x2="1376.88" y2="1247" stroke="#333" stroke-width="0.8"/>
<line x1="1379.2" y1="1245.2" x2="1379.2" y2="1247" stroke="#333" stroke-width="0.8"/>
<line x1="1381.16" y1="1245.2" x2="1381.16" y2="1247" stroke="#333" stroke-width="0.8"/>
<line x1="1382.86" y1="1245.2" x2="1382.86" y2="1247" stroke="#333" stroke-width="0.8"/>
<line x1="1384.36" y1="1245.2" x2="1384.36" y2="1247" stroke="#333" stroke-width="0.8"/>
<line x1="1385.7" y1="1245.2" x2="1385.7" y2="1248.7" stroke="#333" stroke-width="1"/>
<line x1="1394.52" y1="1245.2" x2="1394.52" y2="1247" stroke="#333" stroke-width="0.8"/>
<line x1="1399.68" y1="1245.2" x2="1399.68" y2="1247" stroke="#333" stroke-width="0.8"/>
<line x1="1403.34" y1="1245.2" x2="1403.34" y2="1247" stroke="#333" stroke-width="0.8"/>
<line x1="1406.18" y1="1245.2" x2="1406.18" y2="1247" stroke="#333" stroke-width="0.8"/>
<text transform="matrix(0.03521 0 0 0.03521 1270.58 1262.43)" font-size="200" font-weight="bold" fill="#2a2a2a"  stroke="#2a2a2a" stroke-width="8.52" stroke-linejoin="round">10</text>
<text transform="matrix(0.03333 0 0 0.03333 1278.31 1255.8)" font-size="200" font-weight="bold" fill="#2a2a2a"  stroke="#2a2a2a" stroke-width="9" stroke-linejoin="round">1</text>
<text transform="matrix(0.03521 0 0 0.03521 1296.88 1262.43)" font-size="200" font-weight="bold" fill="#2a2a2a"  stroke="#2a2a2a" stroke-width="8.52" stroke-linejoin="round">10</text>
<text transform="matrix(0.03286 0 0 0.03286 1304.78 1255.8)" font-size="200" font-weight="bold" fill="#2a2a2a"  stroke="#2a2a2a" stroke-width="9.13" stroke-linejoin="round">2</text>
<text transform="matrix(0.03521 0 0 0.03521 1326.18 1262.43)" font-size="200" font-weight="bold" fill="#2a2a2a"  stroke="#2a2a2a" stroke-width="8.52" stroke-linejoin="round">10</text>
<text transform="matrix(0.03239 0 0 0.03239 1334.15 1255.74)" font-size="200" font-weight="bold" fill="#2a2a2a"  stroke="#2a2a2a" stroke-width="9.26" stroke-linejoin="round">3</text>
<text transform="matrix(0.03521 0 0 0.03521 1355.48 1262.43)" font-size="200" font-weight="bold" fill="#2a2a2a"  stroke="#2a2a2a" stroke-width="8.52" stroke-linejoin="round">10</text>
<text transform="matrix(0.03333 0 0 0.03333 1363.51 1255.8)" font-size="200" font-weight="bold" fill="#2a2a2a"  stroke="#2a2a2a" stroke-width="9" stroke-linejoin="round">4</text>
<text transform="matrix(0.03521 0 0 0.03521 1384.78 1262.43)" font-size="200" font-weight="bold" fill="#2a2a2a"  stroke="#2a2a2a" stroke-width="8.52" stroke-linejoin="round">10</text>
<text transform="matrix(0.03286 0 0 0.03286 1392.72 1255.73)" font-size="200" font-weight="bold" fill="#2a2a2a"  stroke="#2a2a2a" stroke-width="9.13" stroke-linejoin="round">5</text>
<text transform="matrix(0.06578 0 0 0.06578 1270.01 1128.34)" font-size="200" font-weight="normal" fill="#1a1aff"  stroke="#1a1aff" stroke-width="6.39" stroke-linejoin="round">(-)</text>
<text transform="matrix(0.0669 0 0 0.0669 1270.2 1147.97)" font-size="200" font-weight="normal" fill="#1a1aff"  stroke="#1a1aff" stroke-width="6.28" stroke-linejoin="round">90.2</text>
<text transform="matrix(0.06578 0 0 0.06578 1377.01 1128.34)" font-size="200" font-weight="normal" fill="#1a1aff"  stroke="#1a1aff" stroke-width="6.39" stroke-linejoin="round">(+)</text>
<text transform="matrix(0.0669 0 0 0.0669 1367.18 1147.97)" font-size="200" font-weight="normal" fill="#1a1aff"  stroke="#1a1aff" stroke-width="6.28" stroke-linejoin="round">9.81</text>
<line x1="1160.2" y1="250.46" x2="1160.2" y2="241.12" stroke="#222" stroke-width="1.3"/>
<line x1="1157" y1="241.12" x2="1163.4" y2="241.12" stroke="#222" stroke-width="1.5"/>
<rect x="1139.9" y="250.46" width="40.6" height="26.54" fill="#b6b6b6" stroke="#2a2a2a" stroke-width="1.3"/>
<line x1="1160.2" y1="277" x2="1160.2" y2="281.5" stroke="#222" stroke-width="1.2"/>
<line x1="1228.5" y1="187.55" x2="1228.5" y2="167.89" stroke="#222" stroke-width="1.3"/>
<line x1="1225.3" y1="167.89" x2="1231.7" y2="167.89" stroke="#222" stroke-width="1.5"/>
<rect x="1208.2" y="187.55" width="40.6" height="89.45" fill="#b6b6b6" stroke="#2a2a2a" stroke-width="1.3"/>
<line x1="1228.5" y1="277" x2="1228.5" y2="281.5" stroke="#222" stroke-width="1.2"/>
<line x1="1296.6" y1="142.33" x2="1296.6" y2="123.65" stroke="#222" stroke-width="1.3"/>
<line x1="1293.4" y1="123.65" x2="1299.8" y2="123.65" stroke="#222" stroke-width="1.5"/>
<rect x="1276.3" y="142.33" width="40.6" height="134.67" fill="#b6b6b6" stroke="#2a2a2a" stroke-width="1.3"/>
<line x1="1296.6" y1="277" x2="1296.6" y2="281.5" stroke="#222" stroke-width="1.2"/>
<line x1="1364" y1="134.22" x2="1364" y2="115.05" stroke="#222" stroke-width="1.3"/>
<line x1="1360.8" y1="115.05" x2="1367.2" y2="115.05" stroke="#222" stroke-width="1.5"/>
<rect x="1343.7" y="134.22" width="40.6" height="142.78" fill="#b6b6b6" stroke="#2a2a2a" stroke-width="1.3"/>
<line x1="1364" y1="277" x2="1364" y2="281.5" stroke="#222" stroke-width="1.2"/>
<rect x="1109.7" y="58.6" width="305.3" height="218.4" fill="none" stroke="#3a3a3a" stroke-width="1.5"/>
<line x1="1106.9" y1="277" x2="1109.7" y2="277" stroke="#333" stroke-width="1.2"/>
<text transform="matrix(0.07183 0 0 0.07183 1090.6 282.56)" font-size="200" font-weight="bold" fill="#333" >0</text>
<line x1="1106.9" y1="227.85" x2="1109.7" y2="227.85" stroke="#333" stroke-width="1.2"/>
<text transform="matrix(0.07183 0 0 0.07183 1082.63 233.41)" font-size="200" font-weight="bold" fill="#333" >20</text>
<line x1="1106.9" y1="178.7" x2="1109.7" y2="178.7" stroke="#333" stroke-width="1.2"/>
<text transform="matrix(0.07183 0 0 0.07183 1082.63 184.26)" font-size="200" font-weight="bold" fill="#333" >40</text>
<line x1="1106.9" y1="129.55" x2="1109.7" y2="129.55" stroke="#333" stroke-width="1.2"/>
<text transform="matrix(0.07183 0 0 0.07183 1082.63 135.11)" font-size="200" font-weight="bold" fill="#333" >60</text>
<line x1="1106.9" y1="80.4" x2="1109.7" y2="80.4" stroke="#333" stroke-width="1.2"/>
<text transform="matrix(0.07183 0 0 0.07183 1082.63 85.96)" font-size="200" font-weight="bold" fill="#333" >80</text>
<text transform="matrix(0.07465 0 0 0.07465 1156.86 302.85)" font-size="200" font-weight="bold" fill="#333" >0</text>
<text transform="matrix(0.07465 0 0 0.07465 1214.02 302.85)" font-size="200" font-weight="bold" fill="#333" >1.25</text>
<text transform="matrix(0.07465 0 0 0.07465 1285.25 302.85)" font-size="200" font-weight="bold" fill="#333" >2.5</text>
<text transform="matrix(0.07571 0 0 0.07571 1359.56 302.85)" font-size="200" font-weight="bold" fill="#333" >5</text>
<text transform="matrix(0.11259 0 0 0.11545 1156.4 232.37)" font-size="200" font-weight="normal" fill="#111"  stroke="#111" stroke-width="8.33" stroke-linejoin="round">c</text>
<text transform="matrix(0.12584 0 0 0.11565 1222.5 158.07)" font-size="200" font-weight="normal" fill="#111"  stroke="#111" stroke-width="7.87" stroke-linejoin="round">b</text>
<text transform="matrix(0.10346 0 0 0.11455 1291.24 113.87)" font-size="200" font-weight="normal" fill="#111"  stroke="#111" stroke-width="8.73" stroke-linejoin="round">a</text>
<text transform="matrix(0.10346 0 0 0.11455 1358.44 105.97)" font-size="200" font-weight="normal" fill="#111"  stroke="#111" stroke-width="8.73" stroke-linejoin="round">a</text>
<text transform="matrix(0.105 0 0 0.10563 1120.36 88.79)" font-size="200" font-weight="bold" fill="#1a1a1a" >Ca9-22</text>
<text transform="matrix(0 -0.10249 0.1 0 1069.4 244.63)" font-size="200" font-weight="bold" fill="#1a1a1a" >MitoSOX (+) (%)</text>
<line x1="1160.2" y1="509.13" x2="1160.2" y2="505.69" stroke="#222" stroke-width="1.3"/>
<line x1="1157" y1="505.69" x2="1163.4" y2="505.69" stroke="#222" stroke-width="1.5"/>
<rect x="1139.9" y="509.13" width="40.6" height="25.07" fill="#b6b6b6" stroke="#2a2a2a" stroke-width="1.3"/>
<line x1="1160.2" y1="534.2" x2="1160.2" y2="538.7" stroke="#222" stroke-width="1.2"/>
<line x1="1228.5" y1="477.19" x2="1228.5" y2="470.55" stroke="#222" stroke-width="1.3"/>
<line x1="1225.3" y1="470.55" x2="1231.7" y2="470.55" stroke="#222" stroke-width="1.5"/>
<rect x="1208.2" y="477.19" width="40.6" height="57.01" fill="#b6b6b6" stroke="#2a2a2a" stroke-width="1.3"/>
<line x1="1228.5" y1="534.2" x2="1228.5" y2="538.7" stroke="#222" stroke-width="1.2"/>
<line x1="1296.6" y1="416.98" x2="1296.6" y2="409.11" stroke="#222" stroke-width="1.3"/>
<line x1="1293.4" y1="409.11" x2="1299.8" y2="409.11" stroke="#222" stroke-width="1.5"/>
<rect x="1276.3" y="416.98" width="40.6" height="117.22" fill="#b6b6b6" stroke="#2a2a2a" stroke-width="1.3"/>
<line x1="1296.6" y1="534.2" x2="1296.6" y2="538.7" stroke="#222" stroke-width="1.2"/>
<line x1="1364" y1="430.74" x2="1364" y2="423.86" stroke="#222" stroke-width="1.3"/>
<line x1="1360.8" y1="423.86" x2="1367.2" y2="423.86" stroke="#222" stroke-width="1.5"/>
<rect x="1343.7" y="430.74" width="40.6" height="103.46" fill="#b6b6b6" stroke="#2a2a2a" stroke-width="1.3"/>
<line x1="1364" y1="534.2" x2="1364" y2="538.7" stroke="#222" stroke-width="1.2"/>
<rect x="1109.7" y="315.4" width="305.3" height="218.8" fill="none" stroke="#3a3a3a" stroke-width="1.5"/>
<line x1="1106.9" y1="534.2" x2="1109.7" y2="534.2" stroke="#333" stroke-width="1.2"/>
<text transform="matrix(0.07183 0 0 0.07183 1090.6 539.76)" font-size="200" font-weight="bold" fill="#333" >0</text>
<line x1="1106.9" y1="485.05" x2="1109.7" y2="485.05" stroke="#333" stroke-width="1.2"/>
<text transform="matrix(0.07183 0 0 0.07183 1082.63 490.61)" font-size="200" font-weight="bold" fill="#333" >20</text>
<line x1="1106.9" y1="435.9" x2="1109.7" y2="435.9" stroke="#333" stroke-width="1.2"/>
<text transform="matrix(0.07183 0 0 0.07183 1082.63 441.46)" font-size="200" font-weight="bold" fill="#333" >40</text>
<line x1="1106.9" y1="386.75" x2="1109.7" y2="386.75" stroke="#333" stroke-width="1.2"/>
<text transform="matrix(0.07183 0 0 0.07183 1082.63 392.31)" font-size="200" font-weight="bold" fill="#333" >60</text>
<line x1="1106.9" y1="337.6" x2="1109.7" y2="337.6" stroke="#333" stroke-width="1.2"/>
<text transform="matrix(0.07183 0 0 0.07183 1082.63 343.16)" font-size="200" font-weight="bold" fill="#333" >80</text>
<text transform="matrix(0.07465 0 0 0.07465 1156.86 560.05)" font-size="200" font-weight="bold" fill="#333" >0</text>
<text transform="matrix(0.07465 0 0 0.07465 1214.02 560.05)" font-size="200" font-weight="bold" fill="#333" >1.25</text>
<text transform="matrix(0.07465 0 0 0.07465 1285.25 560.05)" font-size="200" font-weight="bold" fill="#333" >2.5</text>
<text transform="matrix(0.07571 0 0 0.07571 1359.56 560.05)" font-size="200" font-weight="bold" fill="#333" >5</text>
<text transform="matrix(0.11967 0 0 0.12273 1156.04 496.65)" font-size="200" font-weight="normal" fill="#111"  stroke="#111" stroke-width="7.84" stroke-linejoin="round">c</text>
<text transform="matrix(0.12882 0 0 0.11837 1222.53 463.46)" font-size="200" font-weight="normal" fill="#111"  stroke="#111" stroke-width="7.69" stroke-linejoin="round">b</text>
<text transform="matrix(0.10183 0 0 0.11273 1291.44 399.97)" font-size="200" font-weight="normal" fill="#111"  stroke="#111" stroke-width="8.87" stroke-linejoin="round">a</text>
<text transform="matrix(0.10427 0 0 0.11545 1358.6 415.97)" font-size="200" font-weight="normal" fill="#111"  stroke="#111" stroke-width="8.66" stroke-linejoin="round">a</text>
<text transform="matrix(0.10254 0 0 0.09577 1119.98 344.81)" font-size="200" font-weight="bold" fill="#1a1a1a" >CAL 27</text>
<text transform="matrix(0 -0.10256 0.10267 0 1069.89 502.13)" font-size="200" font-weight="bold" fill="#1a1a1a" >MitoSOX (+) (%)</text>
<line x1="1160.2" y1="765.33" x2="1160.2" y2="760.91" stroke="#222" stroke-width="1.3"/>
<line x1="1157" y1="760.91" x2="1163.4" y2="760.91" stroke="#222" stroke-width="1.5"/>
<rect x="1139.9" y="765.33" width="40.6" height="25.07" fill="#b6b6b6" stroke="#2a2a2a" stroke-width="1.3"/>
<line x1="1160.2" y1="790.4" x2="1160.2" y2="794.9" stroke="#222" stroke-width="1.2"/>
<line x1="1228.5" y1="770" x2="1228.5" y2="765.58" stroke="#222" stroke-width="1.3"/>
<line x1="1225.3" y1="765.58" x2="1231.7" y2="765.58" stroke="#222" stroke-width="1.5"/>
<rect x="1208.2" y="770" width="40.6" height="20.4" fill="#b6b6b6" stroke="#2a2a2a" stroke-width="1.3"/>
<line x1="1228.5" y1="790.4" x2="1228.5" y2="794.9" stroke="#222" stroke-width="1.2"/>
<line x1="1296.6" y1="762.63" x2="1296.6" y2="756.98" stroke="#222" stroke-width="1.3"/>
<line x1="1293.4" y1="756.98" x2="1299.8" y2="756.98" stroke="#222" stroke-width="1.5"/>
<rect x="1276.3" y="762.63" width="40.6" height="27.77" fill="#b6b6b6" stroke="#2a2a2a" stroke-width="1.3"/>
<line x1="1296.6" y1="790.4" x2="1296.6" y2="794.9" stroke="#222" stroke-width="1.2"/>
<line x1="1364" y1="740.27" x2="1364" y2="730.93" stroke="#222" stroke-width="1.3"/>
<line x1="1360.8" y1="730.93" x2="1367.2" y2="730.93" stroke="#222" stroke-width="1.5"/>
<rect x="1343.7" y="740.27" width="40.6" height="50.13" fill="#b6b6b6" stroke="#2a2a2a" stroke-width="1.3"/>
<line x1="1364" y1="790.4" x2="1364" y2="794.9" stroke="#222" stroke-width="1.2"/>
<rect x="1109.7" y="571.8" width="305.3" height="218.6" fill="none" stroke="#3a3a3a" stroke-width="1.5"/>
<line x1="1106.9" y1="790.4" x2="1109.7" y2="790.4" stroke="#333" stroke-width="1.2"/>
<text transform="matrix(0.07183 0 0 0.07183 1090.6 795.96)" font-size="200" font-weight="bold" fill="#333" >0</text>
<line x1="1106.9" y1="741.25" x2="1109.7" y2="741.25" stroke="#333" stroke-width="1.2"/>
<text transform="matrix(0.07183 0 0 0.07183 1082.63 746.81)" font-size="200" font-weight="bold" fill="#333" >20</text>
<line x1="1106.9" y1="692.1" x2="1109.7" y2="692.1" stroke="#333" stroke-width="1.2"/>
<text transform="matrix(0.07183 0 0 0.07183 1082.63 697.66)" font-size="200" font-weight="bold" fill="#333" >40</text>
<line x1="1106.9" y1="642.95" x2="1109.7" y2="642.95" stroke="#333" stroke-width="1.2"/>
<text transform="matrix(0.07183 0 0 0.07183 1082.63 648.51)" font-size="200" font-weight="bold" fill="#333" >60</text>
<line x1="1106.9" y1="593.8" x2="1109.7" y2="593.8" stroke="#333" stroke-width="1.2"/>
<text transform="matrix(0.07183 0 0 0.07183 1082.63 599.36)" font-size="200" font-weight="bold" fill="#333" >80</text>
<text transform="matrix(0.07465 0 0 0.07465 1156.86 816.25)" font-size="200" font-weight="bold" fill="#333" >0</text>
<text transform="matrix(0.07465 0 0 0.07465 1214.02 816.25)" font-size="200" font-weight="bold" fill="#333" >1.25</text>
<text transform="matrix(0.07465 0 0 0.07465 1285.25 816.25)" font-size="200" font-weight="bold" fill="#333" >2.5</text>
<text transform="matrix(0.07571 0 0 0.07571 1359.56 816.25)" font-size="200" font-weight="bold" fill="#333" >5</text>
<text transform="matrix(0.12882 0 0 0.11837 1155.03 752.96)" font-size="200" font-weight="normal" fill="#111"  stroke="#111" stroke-width="7.69" stroke-linejoin="round">b</text>
<text transform="matrix(0.12808 0 0 0.11769 1222.67 757.06)" font-size="200" font-weight="normal" fill="#111"  stroke="#111" stroke-width="7.74" stroke-linejoin="round">b</text>
<text transform="matrix(0.12882 0 0 0.11837 1288.73 749.66)" font-size="200" font-weight="normal" fill="#111"  stroke="#111" stroke-width="7.69" stroke-linejoin="round">b</text>
<text transform="matrix(0.1059 0 0 0.11727 1357.3 723.77)" font-size="200" font-weight="normal" fill="#111"  stroke="#111" stroke-width="8.52" stroke-linejoin="round">a</text>
<text transform="matrix(0.10504 0 0 0.09014 1119.37 598.42)" font-size="200" font-weight="bold" fill="#1a1a1a" >S-G</text>
<text transform="matrix(0 -0.10357 0.1016 0 1069.73 759.55)" font-size="200" font-weight="bold" fill="#1a1a1a" >MitoSOX (+) (%)</text>
<text transform="matrix(0.10303 0 0 0.09519 1204.98 839.8)" font-size="200" font-weight="bold" fill="#1a1a1a" >SK1 (µg/ml)</text>
<line x1="162.3" y1="1544.89" x2="162.3" y2="1534.44" stroke="#1a1a1a" stroke-width="1.4"/>
<line x1="158.3" y1="1534.44" x2="166.3" y2="1534.44" stroke="#1a1a1a" stroke-width="1.8"/>
<rect x="149.5" y="1544.89" width="25.6" height="32.51" fill="#050505" stroke="#1a1a1a" stroke-width="1.4"/>
<text transform="matrix(0.10993 0 0 0.11273 157.94 1526.87)" font-size="200" font-weight="normal" fill="#111"  stroke="#111" stroke-width="8.53" stroke-linejoin="round">c</text>
<line x1="198.1" y1="1548.38" x2="198.1" y2="1533.86" stroke="#1a1a1a" stroke-width="1.4"/>
<line x1="194.1" y1="1533.86" x2="202.1" y2="1533.86" stroke="#1a1a1a" stroke-width="1.8"/>
<rect x="185.3" y="1548.38" width="25.6" height="29.03" fill="#bdbdbd" stroke="#1a1a1a" stroke-width="1.4"/>
<text transform="matrix(0.11701 0 0 0.12 193.37 1524.36)" font-size="200" font-weight="normal" fill="#111"  stroke="#111" stroke-width="8.02" stroke-linejoin="round">c</text>
<line x1="264.1" y1="1472.91" x2="264.1" y2="1450.85" stroke="#1a1a1a" stroke-width="1.4"/>
<line x1="260.1" y1="1450.85" x2="268.1" y2="1450.85" stroke="#1a1a1a" stroke-width="1.8"/>
<rect x="251.3" y="1472.91" width="25.6" height="104.49" fill="#050505" stroke="#1a1a1a" stroke-width="1.4"/>
<text transform="matrix(0.13254 0 0 0.12177 257.71 1441.56)" font-size="200" font-weight="normal" fill="#111"  stroke="#111" stroke-width="7.48" stroke-linejoin="round">b</text>
<line x1="299.9" y1="1537.35" x2="299.9" y2="1516.74" stroke="#1a1a1a" stroke-width="1.4"/>
<line x1="295.9" y1="1516.74" x2="303.9" y2="1516.74" stroke="#1a1a1a" stroke-width="1.8"/>
<rect x="287.1" y="1537.35" width="25.6" height="40.05" fill="#bdbdbd" stroke="#1a1a1a" stroke-width="1.4"/>
<text transform="matrix(0.10993 0 0 0.11273 295.54 1511.07)" font-size="200" font-weight="normal" fill="#111"  stroke="#111" stroke-width="8.53" stroke-linejoin="round">c</text>
<line x1="367" y1="1408.47" x2="367" y2="1385.25" stroke="#1a1a1a" stroke-width="1.4"/>
<line x1="363" y1="1385.25" x2="371" y2="1385.25" stroke="#1a1a1a" stroke-width="1.8"/>
<rect x="354.2" y="1408.47" width="25.6" height="168.93" fill="#050505" stroke="#1a1a1a" stroke-width="1.4"/>
<text transform="matrix(0.10998 0 0 0.12182 361.76 1378.36)" font-size="200" font-weight="normal" fill="#111"  stroke="#111" stroke-width="8.21" stroke-linejoin="round">a</text>
<line x1="402.8" y1="1540.83" x2="402.8" y2="1523.7" stroke="#1a1a1a" stroke-width="1.4"/>
<line x1="398.8" y1="1523.7" x2="406.8" y2="1523.7" stroke="#1a1a1a" stroke-width="1.8"/>
<rect x="390" y="1540.83" width="25.6" height="36.57" fill="#bdbdbd" stroke="#1a1a1a" stroke-width="1.4"/>
<text transform="matrix(0.10993 0 0 0.11273 398.44 1517.37)" font-size="200" font-weight="normal" fill="#111"  stroke="#111" stroke-width="8.53" stroke-linejoin="round">c</text>
<line x1="180.2" y1="1577.4" x2="180.2" y2="1582.4" stroke="#1a1a1a" stroke-width="1.4"/>
<text transform="matrix(0.08913 0 0 0.07887 175.25 1606.04)" font-size="200" font-weight="bold" fill="#333" >0</text>
<line x1="282" y1="1577.4" x2="282" y2="1582.4" stroke="#1a1a1a" stroke-width="1.4"/>
<text transform="matrix(0.0904 0 0 0.08 271.78 1606.2)" font-size="200" font-weight="bold" fill="#333" >12</text>
<line x1="384.9" y1="1577.4" x2="384.9" y2="1582.4" stroke="#1a1a1a" stroke-width="1.4"/>
<text transform="matrix(0.0904 0 0 0.08 374.59 1606.2)" font-size="200" font-weight="bold" fill="#333" >24</text>
<rect x="102.8" y="1318.3" width="359.5" height="259.1" fill="none" stroke="#1a1a1a" stroke-width="1.7"/>
<line x1="98" y1="1577.4" x2="102.8" y2="1577.4" stroke="#1a1a1a" stroke-width="1.4"/>
<text transform="matrix(0.07979 0 0 0.07254 80.38 1582.9)" font-size="200" font-weight="bold" fill="#333" >0</text>
<line x1="98" y1="1519.35" x2="102.8" y2="1519.35" stroke="#1a1a1a" stroke-width="1.4"/>
<text transform="matrix(0.07979 0 0 0.07254 71.53 1524.85)" font-size="200" font-weight="bold" fill="#333" >20</text>
<line x1="98" y1="1461.3" x2="102.8" y2="1461.3" stroke="#1a1a1a" stroke-width="1.4"/>
<text transform="matrix(0.07979 0 0 0.07254 71.53 1466.8)" font-size="200" font-weight="bold" fill="#333" >40</text>
<line x1="98" y1="1403.25" x2="102.8" y2="1403.25" stroke="#1a1a1a" stroke-width="1.4"/>
<text transform="matrix(0.07979 0 0 0.07254 71.53 1408.75)" font-size="200" font-weight="bold" fill="#333" >60</text>
<line x1="98" y1="1345.2" x2="102.8" y2="1345.2" stroke="#1a1a1a" stroke-width="1.4"/>
<text transform="matrix(0.07979 0 0 0.07254 71.53 1350.7)" font-size="200" font-weight="bold" fill="#333" >80</text>
<rect x="114.6" y="1334.9" width="37" height="8.6" rx="1.2" fill="#050505" stroke="#1a1a1a" stroke-width="1.2"/>
<rect x="114.6" y="1356.2" width="37" height="7.4" rx="1.2" fill="#bdbdbd" stroke="#1a1a1a" stroke-width="1.7"/>
<text transform="matrix(0.08042 0 0 0.07676 159.82 1343.55)" font-size="200" font-weight="bold" fill="#1a1a1a" >SK1</text>
<text transform="matrix(0.07977 0 0 0.07248 159.56 1364.31)" font-size="200" font-weight="bold" fill="#1a1a1a" >NAC/SK1</text>
<text transform="matrix(0.12109 0 0 0.1162 374.43 1348.77)" font-size="200" font-weight="bold" fill="#1a1a1a" >Ca9-22</text>
<text transform="matrix(0 -0.12306 0.11497 0 54.87 1538.6)" font-size="200" font-weight="bold" fill="#111" >MitoSOX (+) (%)</text>
<text transform="matrix(0.11874 0 0 0.12139 237.16 1634.6)" font-size="200" font-weight="bold" fill="#1a1a1a" >Time (h)</text>
<line x1="629.6" y1="1546.31" x2="629.6" y2="1544.28" stroke="#1a1a1a" stroke-width="1.4"/>
<line x1="625.6" y1="1544.28" x2="633.6" y2="1544.28" stroke="#1a1a1a" stroke-width="1.8"/>
<rect x="616.8" y="1546.31" width="25.6" height="30.19" fill="#050505" stroke="#1a1a1a" stroke-width="1.4"/>
<text transform="matrix(0.1117 0 0 0.11455 625.15 1534.77)" font-size="200" font-weight="normal" fill="#111"  stroke="#111" stroke-width="8.4" stroke-linejoin="round">c</text>
<line x1="665.4" y1="1547.47" x2="665.4" y2="1544.28" stroke="#1a1a1a" stroke-width="1.4"/>
<line x1="661.4" y1="1544.28" x2="669.4" y2="1544.28" stroke="#1a1a1a" stroke-width="1.8"/>
<rect x="652.6" y="1547.47" width="25.6" height="29.03" fill="#bdbdbd" stroke="#1a1a1a" stroke-width="1.4"/>
<text transform="matrix(0.10197 0 0 0.10455 661.45 1536.39)" font-size="200" font-weight="normal" fill="#111"  stroke="#111" stroke-width="9.2" stroke-linejoin="round">c</text>
<line x1="731.4" y1="1505.39" x2="731.4" y2="1494.36" stroke="#1a1a1a" stroke-width="1.4"/>
<line x1="727.4" y1="1494.36" x2="735.4" y2="1494.36" stroke="#1a1a1a" stroke-width="1.8"/>
<rect x="718.6" y="1505.39" width="25.6" height="71.11" fill="#050505" stroke="#1a1a1a" stroke-width="1.4"/>
<text transform="matrix(0.13254 0 0 0.12177 725.01 1484.16)" font-size="200" font-weight="normal" fill="#111"  stroke="#111" stroke-width="7.48" stroke-linejoin="round">b</text>
<line x1="767.2" y1="1548.93" x2="767.2" y2="1540.8" stroke="#1a1a1a" stroke-width="1.4"/>
<line x1="763.2" y1="1540.8" x2="771.2" y2="1540.8" stroke="#1a1a1a" stroke-width="1.8"/>
<rect x="754.4" y="1548.93" width="25.6" height="27.57" fill="#bdbdbd" stroke="#1a1a1a" stroke-width="1.4"/>
<text transform="matrix(0.10993 0 0 0.11273 762.84 1529.97)" font-size="200" font-weight="normal" fill="#111"  stroke="#111" stroke-width="8.53" stroke-linejoin="round">c</text>
<line x1="834.3" y1="1455.47" x2="834.3" y2="1447.34" stroke="#1a1a1a" stroke-width="1.4"/>
<line x1="830.3" y1="1447.34" x2="838.3" y2="1447.34" stroke="#1a1a1a" stroke-width="1.8"/>
<rect x="821.5" y="1455.47" width="25.6" height="121.03" fill="#050505" stroke="#1a1a1a" stroke-width="1.4"/>
<text transform="matrix(0.10998 0 0 0.12182 829.06 1439.96)" font-size="200" font-weight="normal" fill="#111"  stroke="#111" stroke-width="8.21" stroke-linejoin="round">a</text>
<line x1="870.1" y1="1550.67" x2="870.1" y2="1544.86" stroke="#1a1a1a" stroke-width="1.4"/>
<line x1="866.1" y1="1544.86" x2="874.1" y2="1544.86" stroke="#1a1a1a" stroke-width="1.8"/>
<rect x="857.3" y="1550.67" width="25.6" height="25.83" fill="#bdbdbd" stroke="#1a1a1a" stroke-width="1.4"/>
<text transform="matrix(0.10816 0 0 0.11091 865.83 1534.38)" font-size="200" font-weight="normal" fill="#111"  stroke="#111" stroke-width="8.67" stroke-linejoin="round">c</text>
<line x1="647.5" y1="1576.5" x2="647.5" y2="1581.5" stroke="#1a1a1a" stroke-width="1.4"/>
<text transform="matrix(0.08913 0 0 0.07887 642.55 1606.04)" font-size="200" font-weight="bold" fill="#333" >0</text>
<line x1="749.3" y1="1576.5" x2="749.3" y2="1581.5" stroke="#1a1a1a" stroke-width="1.4"/>
<text transform="matrix(0.0904 0 0 0.08 739.08 1606.2)" font-size="200" font-weight="bold" fill="#333" >12</text>
<line x1="852.2" y1="1576.5" x2="852.2" y2="1581.5" stroke="#1a1a1a" stroke-width="1.4"/>
<text transform="matrix(0.0904 0 0 0.08 841.89 1606.2)" font-size="200" font-weight="bold" fill="#333" >24</text>
<rect x="569.9" y="1319" width="360.2" height="257.5" fill="none" stroke="#1a1a1a" stroke-width="1.7"/>
<line x1="565.1" y1="1576.5" x2="569.9" y2="1576.5" stroke="#1a1a1a" stroke-width="1.4"/>
<text transform="matrix(0.07979 0 0 0.07254 547.48 1582)" font-size="200" font-weight="bold" fill="#333" >0</text>
<line x1="565.1" y1="1518.45" x2="569.9" y2="1518.45" stroke="#1a1a1a" stroke-width="1.4"/>
<text transform="matrix(0.07979 0 0 0.07254 538.63 1523.95)" font-size="200" font-weight="bold" fill="#333" >20</text>
<line x1="565.1" y1="1460.4" x2="569.9" y2="1460.4" stroke="#1a1a1a" stroke-width="1.4"/>
<text transform="matrix(0.07979 0 0 0.07254 538.63 1465.9)" font-size="200" font-weight="bold" fill="#333" >40</text>
<line x1="565.1" y1="1402.35" x2="569.9" y2="1402.35" stroke="#1a1a1a" stroke-width="1.4"/>
<text transform="matrix(0.07979 0 0 0.07254 538.63 1407.85)" font-size="200" font-weight="bold" fill="#333" >60</text>
<line x1="565.1" y1="1344.3" x2="569.9" y2="1344.3" stroke="#1a1a1a" stroke-width="1.4"/>
<text transform="matrix(0.07979 0 0 0.07254 538.63 1349.8)" font-size="200" font-weight="bold" fill="#333" >80</text>
<rect x="581.7" y="1335.6" width="37" height="8.6" rx="1.2" fill="#050505" stroke="#1a1a1a" stroke-width="1.2"/>
<rect x="581.7" y="1356.9" width="37" height="7.4" rx="1.2" fill="#bdbdbd" stroke="#1a1a1a" stroke-width="1.7"/>
<text transform="matrix(0.08042 0 0 0.07676 626.92 1344.25)" font-size="200" font-weight="bold" fill="#1a1a1a" >SK1</text>
<text transform="matrix(0.07977 0 0 0.07248 626.66 1365.01)" font-size="200" font-weight="bold" fill="#1a1a1a" >NAC/SK1</text>
<text transform="matrix(0.12048 0 0 0.11549 839.74 1347.77)" font-size="200" font-weight="bold" fill="#1a1a1a" >CAL 27</text>
<text transform="matrix(0 -0.12272 0.11658 0 522.3 1538.6)" font-size="200" font-weight="bold" fill="#111" >MitoSOX (+) (%)</text>
<text transform="matrix(0.12018 0 0 0.11444 704.56 1632.59)" font-size="200" font-weight="bold" fill="#1a1a1a" >Time (h)</text>
<line x1="1097.1" y1="1545.73" x2="1097.1" y2="1541.09" stroke="#1a1a1a" stroke-width="1.4"/>
<line x1="1093.1" y1="1541.09" x2="1101.1" y2="1541.09" stroke="#1a1a1a" stroke-width="1.8"/>
<rect x="1084.3" y="1545.73" width="25.6" height="30.77" fill="#050505" stroke="#1a1a1a" stroke-width="1.4"/>
<text transform="matrix(0.10993 0 0 0.11273 1092.74 1529.97)" font-size="200" font-weight="normal" fill="#111"  stroke="#111" stroke-width="8.53" stroke-linejoin="round">c</text>
<line x1="1132.9" y1="1546.31" x2="1132.9" y2="1540.8" stroke="#1a1a1a" stroke-width="1.4"/>
<line x1="1128.9" y1="1540.8" x2="1136.9" y2="1540.8" stroke="#1a1a1a" stroke-width="1.8"/>
<rect x="1120.1" y="1546.31" width="25.6" height="30.19" fill="#bdbdbd" stroke="#1a1a1a" stroke-width="1.4"/>
<text transform="matrix(0.10993 0 0 0.11273 1128.54 1528.37)" font-size="200" font-weight="normal" fill="#111"  stroke="#111" stroke-width="8.53" stroke-linejoin="round">c</text>
<line x1="1198.9" y1="1522.22" x2="1198.9" y2="1512.35" stroke="#1a1a1a" stroke-width="1.4"/>
<line x1="1194.9" y1="1512.35" x2="1202.9" y2="1512.35" stroke="#1a1a1a" stroke-width="1.8"/>
<rect x="1186.1" y="1522.22" width="25.6" height="54.28" fill="#050505" stroke="#1a1a1a" stroke-width="1.4"/>
<text transform="matrix(0.10264 0 0 0.11364 1194.09 1476.97)" font-size="200" font-weight="normal" fill="#111"  stroke="#111" stroke-width="8.8" stroke-linejoin="round">a</text>
<text transform="matrix(0.13254 0 0 0.12177 1192.51 1501.56)" font-size="200" font-weight="normal" fill="#111"  stroke="#111" stroke-width="7.48" stroke-linejoin="round">b</text>
<line x1="1234.7" y1="1540.8" x2="1234.7" y2="1534.41" stroke="#1a1a1a" stroke-width="1.4"/>
<line x1="1230.7" y1="1534.41" x2="1238.7" y2="1534.41" stroke="#1a1a1a" stroke-width="1.8"/>
<rect x="1221.9" y="1540.8" width="25.6" height="35.7" fill="#bdbdbd" stroke="#1a1a1a" stroke-width="1.4"/>
<text transform="matrix(0.1385 0 0 0.12721 1227.97 1502.35)" font-size="200" font-weight="normal" fill="#111"  stroke="#111" stroke-width="7.16" stroke-linejoin="round">b</text>
<text transform="matrix(0.12409 0 0 0.12727 1229.61 1523.65)" font-size="200" font-weight="normal" fill="#111"  stroke="#111" stroke-width="7.56" stroke-linejoin="round">c</text>
<line x1="1301.8" y1="1516.71" x2="1301.8" y2="1506.26" stroke="#1a1a1a" stroke-width="1.4"/>
<line x1="1297.8" y1="1506.26" x2="1305.8" y2="1506.26" stroke="#1a1a1a" stroke-width="1.8"/>
<rect x="1289" y="1516.71" width="25.6" height="59.79" fill="#050505" stroke="#1a1a1a" stroke-width="1.4"/>
<text transform="matrix(0.10998 0 0 0.12182 1296.56 1496.86)" font-size="200" font-weight="normal" fill="#111"  stroke="#111" stroke-width="8.21" stroke-linejoin="round">a</text>
<line x1="1337.6" y1="1545.73" x2="1337.6" y2="1538.48" stroke="#1a1a1a" stroke-width="1.4"/>
<line x1="1333.6" y1="1538.48" x2="1341.6" y2="1538.48" stroke="#1a1a1a" stroke-width="1.8"/>
<rect x="1324.8" y="1545.73" width="25.6" height="30.77" fill="#bdbdbd" stroke="#1a1a1a" stroke-width="1.4"/>
<text transform="matrix(0.10993 0 0 0.11273 1333.24 1528.37)" font-size="200" font-weight="normal" fill="#111"  stroke="#111" stroke-width="8.53" stroke-linejoin="round">c</text>
<line x1="1115" y1="1576.5" x2="1115" y2="1581.5" stroke="#1a1a1a" stroke-width="1.4"/>
<text transform="matrix(0.08913 0 0 0.07887 1110.05 1606.04)" font-size="200" font-weight="bold" fill="#333" >0</text>
<line x1="1216.8" y1="1576.5" x2="1216.8" y2="1581.5" stroke="#1a1a1a" stroke-width="1.4"/>
<text transform="matrix(0.0904 0 0 0.08 1206.58 1606.2)" font-size="200" font-weight="bold" fill="#333" >12</text>
<line x1="1319.7" y1="1576.5" x2="1319.7" y2="1581.5" stroke="#1a1a1a" stroke-width="1.4"/>
<text transform="matrix(0.0904 0 0 0.08 1309.39 1606.2)" font-size="200" font-weight="bold" fill="#333" >24</text>
<rect x="1037.5" y="1318.3" width="359.6" height="258.2" fill="none" stroke="#1a1a1a" stroke-width="1.7"/>
<line x1="1032.7" y1="1576.5" x2="1037.5" y2="1576.5" stroke="#1a1a1a" stroke-width="1.4"/>
<text transform="matrix(0.07979 0 0 0.07254 1015.08 1582)" font-size="200" font-weight="bold" fill="#333" >0</text>
<line x1="1032.7" y1="1518.45" x2="1037.5" y2="1518.45" stroke="#1a1a1a" stroke-width="1.4"/>
<text transform="matrix(0.07979 0 0 0.07254 1006.23 1523.95)" font-size="200" font-weight="bold" fill="#333" >20</text>
<line x1="1032.7" y1="1460.4" x2="1037.5" y2="1460.4" stroke="#1a1a1a" stroke-width="1.4"/>
<text transform="matrix(0.07979 0 0 0.07254 1006.23 1465.9)" font-size="200" font-weight="bold" fill="#333" >40</text>
<line x1="1032.7" y1="1402.35" x2="1037.5" y2="1402.35" stroke="#1a1a1a" stroke-width="1.4"/>
<text transform="matrix(0.07979 0 0 0.07254 1006.23 1407.85)" font-size="200" font-weight="bold" fill="#333" >60</text>
<line x1="1032.7" y1="1344.3" x2="1037.5" y2="1344.3" stroke="#1a1a1a" stroke-width="1.4"/>
<text transform="matrix(0.07979 0 0 0.07254 1006.23 1349.8)" font-size="200" font-weight="bold" fill="#333" >80</text>
<rect x="1049.3" y="1334.9" width="37" height="8.6" rx="1.2" fill="#050505" stroke="#1a1a1a" stroke-width="1.2"/>
<rect x="1049.3" y="1356.2" width="37" height="7.4" rx="1.2" fill="#bdbdbd" stroke="#1a1a1a" stroke-width="1.7"/>
<text transform="matrix(0.08042 0 0 0.07676 1094.52 1343.55)" font-size="200" font-weight="bold" fill="#1a1a1a" >SK1</text>
<text transform="matrix(0.07977 0 0 0.07248 1094.26 1364.31)" font-size="200" font-weight="bold" fill="#1a1a1a" >NAC/SK1</text>
<text transform="matrix(0.12107 0 0 0.11127 1341.97 1348.78)" font-size="200" font-weight="bold" fill="#1a1a1a" >S-G</text>
<text transform="matrix(0 -0.12272 0.1139 0 989.42 1538.6)" font-size="200" font-weight="bold" fill="#111" >MitoSOX (+) (%)</text>
<text transform="matrix(0.12005 0 0 0.10909 1170.96 1632.82)" font-size="200" font-weight="bold" fill="#1a1a1a" >Time (h)</text>
<text transform="matrix(0.18168 0 0 0.21338 35.55 52.57)" font-size="200" font-weight="bold" fill="#000"  stroke="#000" stroke-width="1.52" stroke-linejoin="round">C</text>
<text transform="matrix(0.15104 0 0 0.13028 185.29 45.04)" font-size="200" font-weight="normal" fill="#000"  stroke="#000" stroke-width="7.13" stroke-linejoin="round">0</text>
<text transform="matrix(0.14617 0 0 0.13944 394.11 46.02)" font-size="200" font-weight="normal" fill="#000"  stroke="#000" stroke-width="7" stroke-linejoin="round">1.25</text>
<text transform="matrix(0.14231 0 0 0.13944 628.58 46.02)" font-size="200" font-weight="normal" fill="#000"  stroke="#000" stroke-width="7.1" stroke-linejoin="round">2.5</text>
<text transform="matrix(0.13053 0 0 0.14143 826.36 45.32)" font-size="200" font-weight="normal" fill="#000"  stroke="#000" stroke-width="7.36" stroke-linejoin="round">5</text>
<text transform="matrix(0.16352 0 0 0.14332 848.61 44.58)" font-size="200" font-weight="normal" fill="#000"  stroke="#000" stroke-width="6.53" stroke-linejoin="round">µg/ml</text>
<text transform="matrix(0 -0.1954 0.19085 0 59.62 487.85)" font-size="200" font-weight="normal" fill="#000"  stroke="#000" stroke-width="6.21" stroke-linejoin="round">Count</text>
<text transform="matrix(0.19083 0 0 0.18844 385.7 852.22)" font-size="200" font-weight="normal" fill="#000"  stroke="#000" stroke-width="6.86" stroke-linejoin="round">MitoSOX</text>
<text transform="matrix(0.20361 0 0 0.18503 548.05 851.63)" font-size="200" font-weight="normal" fill="#000"  stroke="#000" stroke-width="6.7" stroke-linejoin="round">intensity</text>
<text transform="matrix(0 -0.13569 0.14507 0 1028.01 217.66)" font-size="200" font-weight="normal" fill="#000"  stroke="#000" stroke-width="5.35" stroke-linejoin="round">Ca9-22</text>
<text transform="matrix(0 -0.13192 0.14296 0 1028.01 463.32)" font-size="200" font-weight="normal" fill="#000"  stroke="#000" stroke-width="5.46" stroke-linejoin="round">CAL 27</text>
<text transform="matrix(0 -0.12771 0.1493 0 1028.2 699.85)" font-size="200" font-weight="normal" fill="#000"  stroke="#000" stroke-width="5.43" stroke-linejoin="round">S-G</text>
<text transform="matrix(0.19919 0 0 0.19203 12.61 923.4)" font-size="200" font-weight="bold" fill="#000" >D</text>
<text transform="matrix(0.13962 0 0 0.13873 236.8 916.32)" font-size="200" font-weight="normal" fill="#000"  stroke="#000" stroke-width="5.75" stroke-linejoin="round">Ca9-22</text>
<text transform="matrix(0.13709 0 0 0.13873 691.53 916.12)" font-size="200" font-weight="normal" fill="#000"  stroke="#000" stroke-width="5.8" stroke-linejoin="round">CAL 27</text>
<text transform="matrix(0.13042 0 0 0.13873 1175.53 915.72)" font-size="200" font-weight="normal" fill="#000"  stroke="#000" stroke-width="5.95" stroke-linejoin="round">S-G</text>
<text transform="matrix(0.125 0 0 0.11056 133 950.18)" font-size="200" font-weight="normal" fill="#000"  stroke="#000" stroke-width="5.1" stroke-linejoin="round">0</text>
<text transform="matrix(0.13542 0 0 0.11056 585.92 950.18)" font-size="200" font-weight="normal" fill="#000"  stroke="#000" stroke-width="4.9" stroke-linejoin="round">0</text>
<text transform="matrix(0.12917 0 0 0.11056 1045.27 950.18)" font-size="200" font-weight="normal" fill="#000"  stroke="#000" stroke-width="5.02" stroke-linejoin="round">0</text>
<text transform="matrix(0.12183 0 0 0.11214 267.77 950.4)" font-size="200" font-weight="normal" fill="#000"  stroke="#000" stroke-width="5.13" stroke-linejoin="round">12</text>
<text transform="matrix(0.12183 0 0 0.11214 720.17 950.4)" font-size="200" font-weight="normal" fill="#000"  stroke="#000" stroke-width="5.13" stroke-linejoin="round">12</text>
<text transform="matrix(0.12538 0 0 0.11214 1184.42 950.4)" font-size="200" font-weight="normal" fill="#000"  stroke="#000" stroke-width="5.06" stroke-linejoin="round">12</text>
<text transform="matrix(0.11942 0 0 0.11357 404.01 950.4)" font-size="200" font-weight="normal" fill="#000"  stroke="#000" stroke-width="5.15" stroke-linejoin="round">24</text>
<text transform="matrix(0.12976 0 0 0.11724 435.38 950.4)" font-size="200" font-weight="normal" fill="#000"  stroke="#000" stroke-width="4.86" stroke-linejoin="round">h</text>
<text transform="matrix(0.12443 0 0 0.11357 856.46 950.4)" font-size="200" font-weight="normal" fill="#000"  stroke="#000" stroke-width="5.05" stroke-linejoin="round">24</text>
<text transform="matrix(0.13521 0 0 0.11724 889.15 950.4)" font-size="200" font-weight="normal" fill="#000"  stroke="#000" stroke-width="4.77" stroke-linejoin="round">h</text>
<text transform="matrix(0.12137 0 0 0.11357 1316.19 950.4)" font-size="200" font-weight="normal" fill="#000"  stroke="#000" stroke-width="5.11" stroke-linejoin="round">24</text>
<text transform="matrix(0.13188 0 0 0.11724 1348.08 950.4)" font-size="200" font-weight="normal" fill="#000"  stroke="#000" stroke-width="4.83" stroke-linejoin="round">h</text>
<text transform="matrix(0 -0.17682 0.17606 0 36.65 1157.07)" font-size="200" font-weight="normal" fill="#000"  stroke="#000" stroke-width="6.23" stroke-linejoin="round">Count</text>
<text transform="matrix(0 -0.10139 0.11197 0 1439.38 1050.31)" font-size="200" font-weight="normal" fill="#000"  stroke="#000" stroke-width="9.39" stroke-linejoin="round">SK1</text>
<text transform="matrix(0 -0.11083 0.10816 0 1439.38 1223.57)" font-size="200" font-weight="normal" fill="#000"  stroke="#000" stroke-width="9.13" stroke-linejoin="round">NAC/SK1</text>
<text transform="matrix(0.17654 0 0 0.17415 598.68 1300.25)" font-size="200" font-weight="normal" fill="#000"  stroke="#000" stroke-width="7.13" stroke-linejoin="round">MitoSOX</text>
<text transform="matrix(0.18835 0 0 0.16578 748.85 1299.04)" font-size="200" font-weight="normal" fill="#000"  stroke="#000" stroke-width="7.07" stroke-linejoin="round">intensity</text>
</svg></body></html>
